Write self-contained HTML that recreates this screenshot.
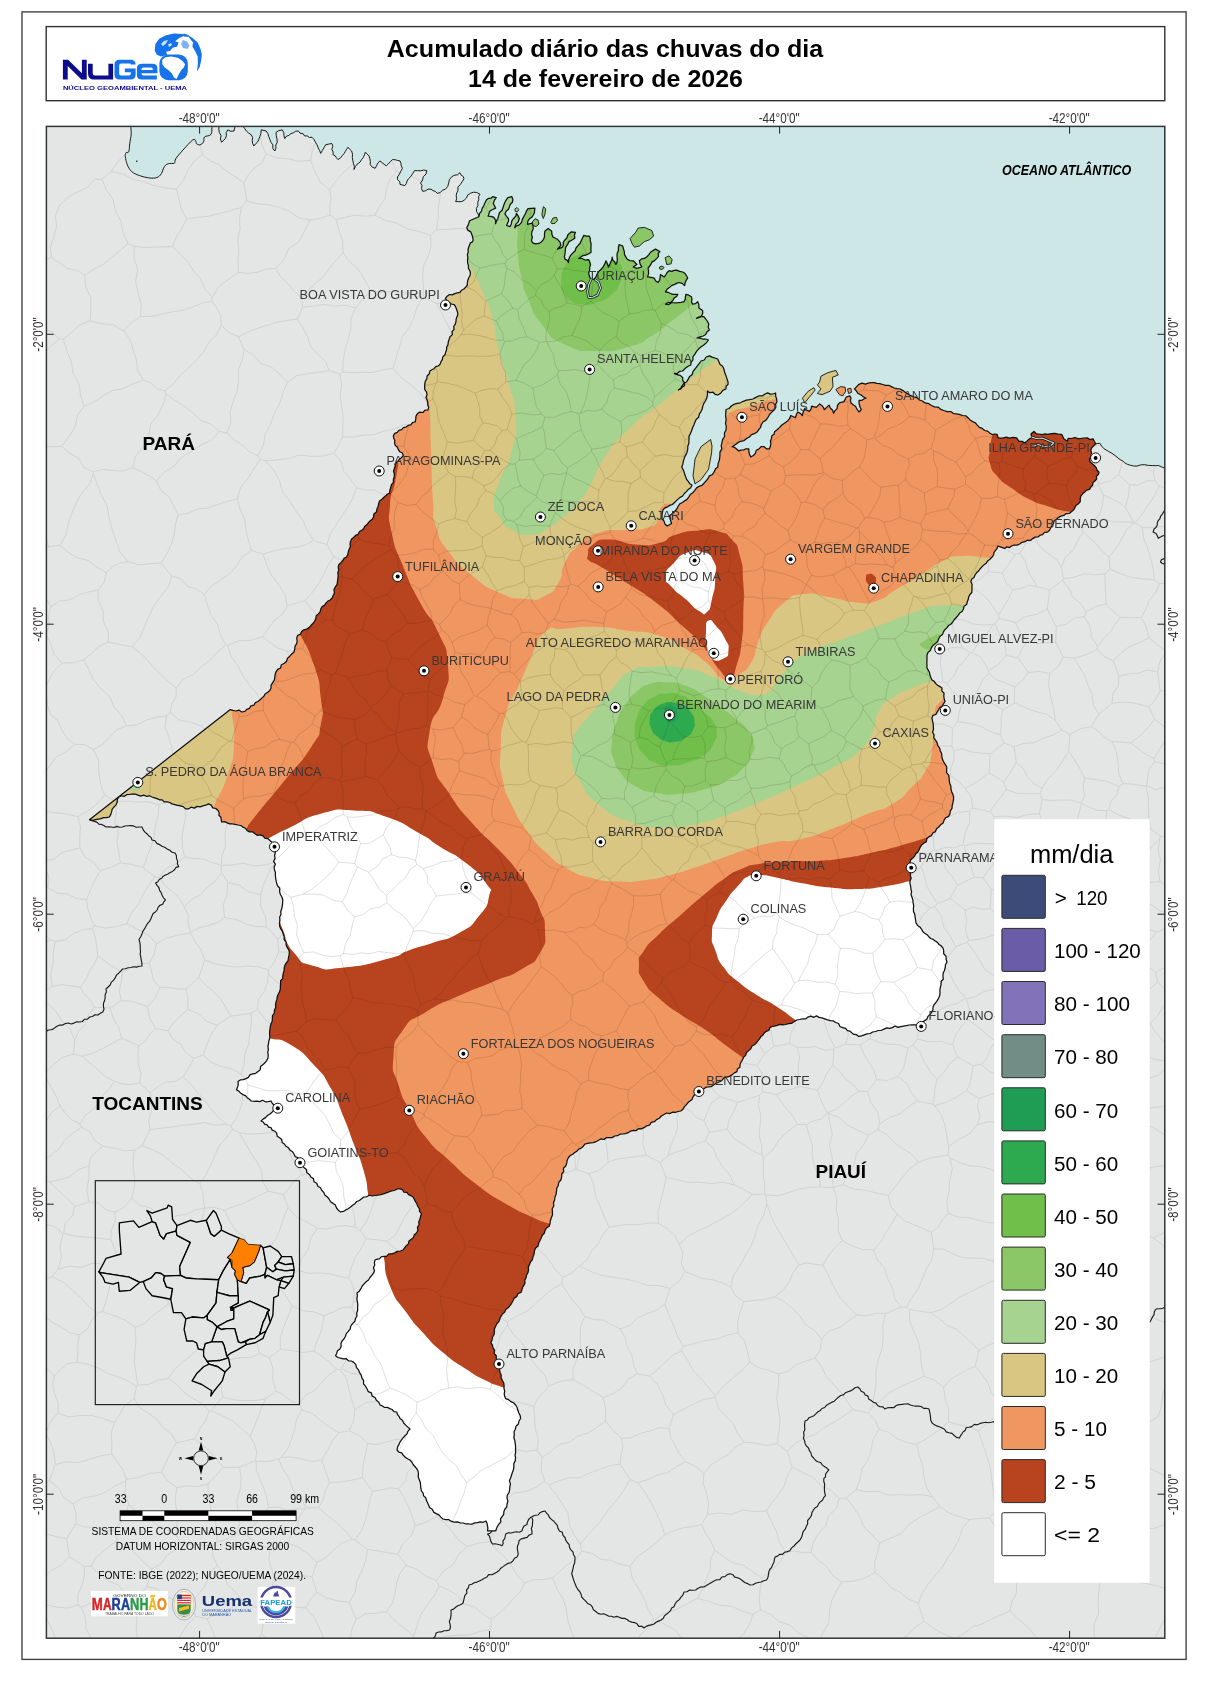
<!DOCTYPE html>
<html><head><meta charset="utf-8"><title>Acumulado diário das chuvas</title>
<style>html,body{margin:0;padding:0;background:#fff}svg{display:block;will-change:transform}</style></head>
<body>
<svg width="1211" height="1685" viewBox="0 0 1211 1685" font-family="Liberation Sans, sans-serif">
<defs><clipPath id="fr"><rect x="46.4" y="126.4" width="1118.4" height="1511.8"/></clipPath><clipPath id="ma"><path d="M478.9 216.8l.6-3.1 2-2.6 .8-3 1.6-2.6 1.1-2.8 1.4-2.7 1.9-1.6 2.6-.2 1.8-1.6 3.5 1.1-1.9 2.7-1 3.1 2.3 4.6-2.9 1.4-2.8 1.5-.9 2.6-.9 2.6 3 .1 2.8 1.1 1.7 2.9 0 3.4 .8-2.6 1.3-2.3 .8-2.6 .9-3.4 2.7-2.5 1.1-3.3 1.1-3.3 1.5-3.1 2-2.9 4-1.1 1.1 2.8-.5 2.9-2.1 1.9-.9 2.6-1 2.5-2.3 1.9-1.2 2.7 1.6 2.4 1.9 2.2 .2 2.5-1.1 2.2-.9 2.3 3.5 1.1 1.2-2.7 .5-3 1.8-2.4 2.1-2.2 .7-3 1.7 2.5 1.2 2.7-1 3.4-2.6 2.5-1 3.4 1.9-2 2.7-.9 2.2-2.5 .9-3.3 1.6-2.9 1.4-2.5 1-2.6 1.6-2.4 3.4-.3 3.5-.3-.5 4.6-1.1 2.3-1.4 2.1-2.2 1.4-1.8 2.7-.5 3.1 4.7-1.1 1 2.8 .1 2.9-1.3 2.8-.4 3 .9 2.6-1 2.9 1.2 2.6 3.1 1 3.3-.4 2.6-1.7 2-2.4 .9-2.6 0-2.8 .3-2.7 3.4-2.8 3.5 2.8 .2 3 1 2.8 4.6 2.3 2.3 2.5 1.2 3.3-1.7 2.1-1.8 2 4.6-1.8 1.3-2.1-.3-2.7 1.3-2.1 2.4-2.5 1.1-3.3 3.5-2.9 4 .6-1 2.8 .4 3-2.8 1.8-3 1.6-1.5 3-1.9 2.8-.3 3.1-.3 3.1-.6 3.1 .6 2.4 2.3 1.3 1.2 2.1 .2-3 1-2.6 1.7-2.5 1.9-1.9 1.9-1.8 .8-2.7 2-2.3 2-2.2 1.2-2.7 1.3-2.7 1.2-2.7 2.7 .8 2.8-.1 1.1 2.3 0 2.7 .8 2.4-.1 2.9-.1 2.9 .2 2.9-2.7 1.8-2.9 1.2-3.1 .7-3.7 2.5 3.3 .1 3.2 1.5 3.4-.4 1.2 2.4 .7 2.5-.8 2.9-.1 3-1 2.8 1.4 4.8 4 1.5 2-2.6 1.1-2.9 1.6-2.5 2.3-2 2.2-2.6 1.6-3 1.2-3.1 1.4 3 1 3.2 1.3-2.4 .9-2.4 1.3-2.4 .3-2.7 .5 2.8 2.1 2.1 1.1 2.5 1.2-2.7 .2-2.8-.3-2.8 .1-2.8 1.3-2.8 0-3 .6-2.9 3.7 1.3 .8 2.8 .8 2.8 .2 3 2.5 4.4 2.9 1.6 3.3 .2 3.7 3.7-3.7 2.5 3.7 1.3 5-1.3-1.8-2.9-.7-3.3 2.2-1.9 2.8-.5 2.5-1.7 2-2.1 1.7-2.4 2.4-1.6 2.5-1.5 4.3 2.4-1.6 2.1 .3 2.8-1.7 2-2.2 2.2-2.8 1.5-.9 2.3-1.4 1.9-1.4 2 .4 2.9 0 2.9-1 2.8 3.5 .4 3.3 .9 1.3 2.6 2.4 1.7 1.7-2.4 .4-2.8 .4-2.8 3.7 2.4 1.6-2.1 1.3-2.3 2-1.8 2.6 .6 2.4-1 2.5-.2 3 1.3 3.2 .6 2.3 1.5 1.4 2.3 1.2 2.4-1.6 2.2-1 2.5-.5 2.7-2.5-2.2-3.1-.9-2.5 .9-2.4 1.3-2.5 .9-2.2 2-2.4 1.7-1.6 2.5 2.6 .5 2.4 1.2 2.5 .8 4.9 0-1.3 2.3-2.3 1.5-1.3 2.4-2.1 2-3 .2-2.4 1.5 3.4 .4 3.1-2.1 3.4 .4 2.9-.2 2.9-.3 2.9-.7 1.2-2.3 .2-2.6 .5-2.5 2.9 .9 2.6 1.6 .6 2.4-.5 2.7 1.2 2.3 2.8-.6 2.1-1.9 1.3 3 0 3.2 3.7 2.5 .1 3.2-1.4 3-4.9 1.8 2.3-1.3 2.4-.7 2.7 .2 1.9 2.4 1.8 2.5 1.3 2.7-.7 3.1 1.3 2.7-2.3 1.8-1.4 2.7-2.5 1.5-3.1 .9-3.1 1.1 2.9 .2 2.8 .8 2.9 0 2.8 1-1.9 2.6-2.4 2.1-2.6 1.9-2.5 2-2.3 2.5-1.8 3-2 2.8 .1 2.9-1.9 2.4-.3 2.8-3.1 1.5-2.7 2.1-2.4 2.4-2.9 .3-2.4 2.2-3-.1 2.8 1.3 3.1 .7 2.4 2.1 .2 2.9 1.7 2.5 .1 2.9-2.3 1.1-1.6 2.1-2.3 1 2.3-1.8 1.6-2.6 1.7-2.4 2.7-1.5 1.5-2.6 1.5-2.7 2.6-1.9 .7-3.2 2-2.3 2-2.7 2.1-2.6 1.9-2.7 3.2-1 2-3 3.2-1.1 2.7 1.2 2.8 .9 2.8 1 1.2 2.7 1.2 2.7 2.5 1.9 1.3 2.7 .7 3.3 1.3 3.1 1 3.2 1.1 3.1 .1 2.6-2 2.1-.1 2.6-3.2 1.3-2.1 2.9-2.9 1.8-2.7-.7-2.1-2.1-3.2 .5-2.3-1.7 0 3.5-.6 3.3-1.5 3.2-1.6 2.4-1 2.7-.6 2.9-1.2 2.6-1.7 2.5-.6 3.1-2.4 2.1-1.3 2.7-1.1 2.9-1.3 2.8-1 3-1.2 2.9-1.4 2.8 0 3.4-.1 3.3-1.1 3.2-.1 3.4-.9 3.2-1.4 2.7-1.2 2.7-.8 2.9-.6 3-1.1 2.8 1.7 3 1 3.3 1.1 3.2 1.3 3.2 1.6 1.9 1.3 2.2 2.3 1.2-1.3 2.7-2.4 1.7-1.9 2.2-2.1 1.9-1.6 2.5-3 1.6-2.5 2.3-2.4 2.3-2.4 2.3-2.6 .9-2.2 1.4-2.6 1-2 1.9-.7 3.1-.3 3.1 0 3.1 2.1 2.1 .8 3 2.3 1.9 4.4-2.5-.9-2.5-.2-2.7-.9-2.5 2.6-2.1 2.4-2.2 2.2-2.5 1.5-3 1.6-2.3 2.4-1.2 2.2-1.6 2.3-1.3 1.9-2.5 1.6-2.6 2.6-1.8 1.9-2.4 1.8-2.4 2.5-1.6 2.9-1 2-2.1 2-2.2 1.9-2.4 1.5-2.7 3.1-1.4 1.6-2.6 1.3-2.9 2.4-2 .2-3.1 1.1-2.9 .6-2.9 .2-3.1 .1-3.2 1.8-2.9-.6-3.3 .8-3 .6-3.3 2-2.8-.2-3.5 1.6-3 .3-3.4-.8-3.4 .7-3.4-.6-3.5 .2-3.4 .2-3.4 3.1-1 2.2-2.5 2.7-1.6 3.1-1 3.3-.6 2.9-1.5 3.1-1.1 3.3-.5 3.2-.7 2.9-1.6 2.9-1.4 3.6 0 2.7-2 2.6-1.1 2.8 1.2 2.6-.1 2.6-1 .1 3.1 .9 2.9 .4 2.8-1.4 2.4 .3 2.8-1.3 2.5-2.5 2.4-2.4 2.4-1.7 3-2 2.8-3 1.9-1.6 2.5-.8 2.9-1.8 2.3-1.8 2.3-2.5 1.7-3 .9-2.1 2.4-2.7 1.4-2.6 2.2-3.5 .7-3 1.6-2.7 2.1-2.9 1.7 2.6 .7 2 1.6 1.8 1.8 2.6-.7 2.6-.2 2.5-1.1 2.7 0 .1 2.9 .6 2.7 1.3 2.6 2.6-1.5 2-2.1 .9-3.2 2.8-1.3 1.9-2.2 3 0 2.4 2.1 3 0 1-2.5 .5-2.6-.5-2.8 1.1-2.5 .3-2.6 2.3-1.6 .5-2.5 2.5-2 2.3-2.1 2.2-2.3 2.8-2 2.9-2 2.2-2.6 1.3-3.2 4.6 2.3 .9-3 1.4-2.8 2.6 1.4 2.1 2.1 .5-2.4 .7-2.3 1.1-2.2 2.2 1.6 2.4 1.2 1.8-2.3 .5-2.9 4.6 1.2 3.5-3.5 2.1 1.5 1.6 1.9 .9 2.4 2.4-2.3 2.3-2.3 1.3 2.9 2.3 2.2 1 3 1.4-2.6 2.1-2 .4-3.2 1.9-2.6 4.6-1.2 2.3-4.6 3.5-1.2 1.2 2.2-.5 2.5 .4 2.3 2.1 2 2.5 1.4 1.5 3 2 2.8 2.3-2.3-1.4-2.9-.8-3.1-.1-3.2 2.6 0 2.1-1.5 2.3-.8-2.8-1.4-2.4-2-2.9-1.3-1.4-2.5-2.1-2.1 2.3-2.3 2.3-2.3 3-1.2 3.3 1 3-1 2.9-.4 2.9-.1 2.8 .7 2.9 .4 2.9 .8 2.8 .9 3.1-.1 2.8 1.3 2.8 1.4 3 .6 3.1 .4 2.7 1.6 2.5 2 2.8 1.5 2.6 1.6 3 1.1 3.1 .8 2.3 2.4 3 1 2.8 1.9 3.4 .7 2.9 1.9 3.1 1.3 3.5 .3 2.7 2.2 3.1 1.2 3.3 1.1 3.6-.1 2.8 2.1 3.3 .3 3.2 .8 2.9 .8 2.9 .3 2.2 2 2.1 2.1 2.4 1.7 2.9 1.2 1.9 2.3 2.1 2.3 2.9 1 2.3 2.1 3.1 .6 2.3 2.1 2.2 1.3 2.5-.5 2.3 .3 1.2 3.5 2.7 .3 2.7-.3 2.6-.6 3.4 .9 3.5-.7 3.5 .4 2.4 3.5 3.1 .1 2.6 1.6 2.2-1.9 2.1-2 2.7-1.3-.6-4 2.9-2.4 2.3 2.4 2.9 .2 2.9 .6 2.9-.7 2.9 .4 3.5-.7 3.4-.2 3.4 .8 3.5 .1 2.3 4.7 3.5 2.3 .6-2.9 3.3 .1 3.4-1 3.3 1.2 3.3-.3 2.9-.4 2.9-.1 2.9 1.6 2.9-.7 1.3 2.5 1.4 2.5-3.8 3.8-1.1 2.3 .6 2.4 0 2.4-.4 2.3-1.5 2 .6 2.8 2.2 1.9 2.1 1.8 1.8 2.1 .9 2.7 1.9 2-.7 2.2-1.9 1.7 .2 2.7-1.4 1.9-2.2 1.7-.4 2.8-1.8 1.8-1.3 2.3-2.7 .7-2 1.8-2 1.7-1.8 2.2-.8 2.7 .1 3.1-1.9 2.2-2.2 1.5-1.3 2.3-1.3 2.3-1.9 1.7-2.4 1.8-3.1 .2-2.4 1.8-2.9 .7-2.5 1.5-2.4 1.8-2.1 1.8-.6 2.6-1.6 2.1-1.2 2.3-1.1 2.3-2.1 1.7-2.9 .1-1.7 2.4-2.7 .5-2 1.8-2.9 .1-2.4 1.5-2.3 1.9-3.1-.3-2.4 1.5-2.8 .6-2.4 1.7-2.6 1.1-2.9 0-2.7 .9-1.9 1.6-2.8-.8-2 1.6-2.3-.8-2.2-.8-2.3-.8-.9 2.3-1.6 2.1-1.5 2-.4 2.6-1.7 2.3-2 1.9-2.2 1.7-1.6 2.4-2.3 1.6-1.9 2-1.9 2.1-1.5 2.1-2 1.7-1.5 2.2-1 2.5-2.2 1.5-.9 2.7 1.2 2.7-.2 2.7 .1 2.7-.2 2.7-1.9 2-1.2 2.3-.5 2.8-1 2.4-.6 2.6-2.6 1.7-.5 2.7-1.4 2.5-2.4 1.6-1.6 2.3-1.8 2.1-1.9 2-1.6 2.3-1.7 2.2-2.5 1.5-1.7 2.2-2 1.9-1.5 2.3-.9 2.7-2.4 1.7-1.4 2.4-1 2.8-2.2 2-2.3 1.8-1.8 2.2-1 2.9-2.3 1.9-1.1 2.7 0 2.5 0 2.5-.2 2.5 .2 2.5-.1 2.8 1.3 2.3 1.3 2.4 .4 2.6 1 2.5 1.1 2.4 2.2 1.4 1.5 2.2 1.9 1.7 2.3 1.3 2.1 1.4-.2 2.9 2.3 2.3-.3 2.9 .4 2.8 .8 2.6-1.4 2.2-1.4 2.3-2.4 1.5-1.2 2.3-1.4 2.3-1.3 2.3-3 1-.9 2.6 .5 2.8 .7 2.8 .1 2.8 .2 2.9-.9 2.9 1.5 2.7-.3 2.9 1.7 2.4 1.6 2.5 .7 3 1.8 2.4 .8 2.9 1.2 2.5 .2 2.8 .6 2.8 1.1 2.5 1.5 2.4 1.6 2.6 .1 3.1-.2 3 2.2 2.5 .4 2.9 .2 3 .7 2.9 .9 2.5 .1 2.8 .8 2.6 1.1 2.5 .7 2.6-.1 2.9-.6 2.8-.7 2.8-.2 2.9-1.7 2.5-.3 2.9-1.4 2.6-2.9 1.3-1.6 2.5-1 2.9-2.5 1.7-1.9 2.2-2.1 1.8-1.2 2.8-2.6 1.4-1.4 2.6-2.6 1.3-2 1.9-.5 3-2.6 1.5-2.2 1.8-1.4 2.3-1.1 2.6-1.3 2.3-2.1 1.7-1.1 2.4-2 1.8-1.9 1.8-.7 2.6 .1 2.6 1.5 2.6-.7 2.6-.2 2.6-.3 2.6 .9 2.6-1.2 2.6-.1 2.6 .7 2.6 .3 2.8 .7 2.8-.6 3 1 2.7 .9 2.8 .2 2.8 .6 2.8-.3 2.9 .1 3 1.3 2.6 .3 2.9 .5 2.9 .4 2.9 1.6 2.6 2.3 1.5 1.6 2.1 1.2 2.5 2 1.7 2.4 1.4 1.7 2 1.8 1.8 2.6 .9 2 1.6 2.2 1.4 1.6 2.1 2.2 1.4 1.7 2 .8 2.8 0 3.1 2.3 2.4 .1 3 .9 2.8-1.5 2.6-.3 2.9-.7 2.9-1.3 2.7-.3 2.9 .4 3-2.2 2.5 0 2.8-.7 2.8-.5 2.8 .1 2.9-.3 2.8-1 2.4-1.3 2.4-1.6 2.2-1.8 2.2-1 2.5-.2 2.8-1.2 2.4-1.9 2.1-1.9 2.1-1.1 2.7-2.7 1.6-1.7 2.2-1 2.8-2.4-.6-2.4-.6-2.4 0-2.5 .1-2.4 .1-2.8 .7-2.8 .4-2.8 .5-2.7 .7-3.1-1.3-2.6 1.6-2.8 .8-2.9-.5-2.7 1.2-2.7 1.2-3 .2-2.7 1-2.9 .5-2.6 1.5-3 .3-2.8 1-2.8 1-2.9 .6-2-1.7-2.6-.3-2.1-1.5-1.9-1.7-2.6-.5-1.8-2.3-3-.8-2.7-1.1-1.3-3-2.9-1-2.3-1.6-3-.3-2.8-.7-2.8-1-2.8-1-2.9-.5-2.6-1.5-2.6 1.4-3.2-1.1-2.7 .9-2.5 1.9-3-.1-2.8 .6-3 .5-2.6 1.6-2.5 1.8-3.1 .3-2.8 .8-2.8 .4-3-.6-2.7 1.1-2.8 .7-2.8 .4-1.9 1.5-.9 2.5-2.6 .8-1.9 1.6-1.3 2.1-2.1 1.6-1.4 2.3-1.7 1.9-1.5 2.2-1.9 1.7-2.4 1.3-1.2 2.7-2.1 1.9-2.2 1.9-.9 2.9-2.1 2-1 2.4-1.4 2.2-1.1 2.4 0 2.8-2.6 1.7-.4 2.7-2.7 1.3-2.3 2-2.5 1.5-3 .8-2.8 1-2 2.5-2.6 1.3-2.8 1.2-2.5 1.6-2.2 1.6-2.7 .6-2.8 .2-2.2 1.6-2.7 .6-2.2 1.6-1.5 2.3-2.7 1.2-1.7 2.1-1 2.8-2.2 1.6-2.1 1.8-1.6 2.1-1.9 2-1.3 2.4-2.2 1.7-2.8 .5-2.7 .9-3-.2-2.7 1.4-3-.6-2.6 1.5-2.6 1.5-2.1 2.2-2.7 1.4-2.2 2.1-3.1 .7-1.8 2.7-3.1 .8-2.4 1.8-2.6 1.1-2.9-.1-2.3 1.9-2.9-.2-2.7 .7-2.4 1.6-2.7 1-2.7 .3-2.8 .2-2.5 1.5-2.8 .3-2.5 1.6-2.9 0-2.9 0-2.3 1.9-3.1-.7-2.5 1.5-2.5 1.4-2.7 .9-2.8 .2-2.8 .5-2.7 .7-1.7 2.2-1.9 1.8-2.6 1.1-1.8 2-2.2 1.4-2.1 1.7-2.4 1.3-1.8 2-1.3 2.7-.5 3-1 2.8-2.3 2.2 .3 3.4-1.9 2.4-.2 3.1-.7 2.9-2.2 2.4-.4 3.1-1.5 2.6-.3 3.1-.4 3-1.1 2.8-.4 3-1.1 2.8 .3 3.1-1.6 2.8 .2 3.1 .1 3-1.1 2.9-1 2.8-.4 3-.8 2.8-2.7 1.7-1.4 2.4-.8 2.8-2 2.1-1.1 2.6-1.2 2.6-1.3 2.5-.6 3-2.5 2.1-1.1 2.7-.4 3.1-1.1 2.8-.6 2.9-1.9 2.4-1 2.6-1.1 2.6 .1 2.9-.6 2.7-1.4 2.5-.5 2.7-1.3 2.2 .3 2.7-1 2.3-1.5 2.1-.5 2.4-1.1 2.8-3 1.2-1.1 2.8-2.5 1.6-1.3 2.7-1.4 2.5-1.6 2.4-1.9 2.1-2.4 1.7-1 2.6-2.2 1.9-1.5 2.3-1.2 2.5-.9 2.7-2 2-1.1 2.5-1.3 2.6-.1 3-.3 2.9-1.6 2.6-.4 2.9-1.3 2.6 1.6 2.5 .6 2.8 1.6 2.4-.4 3.3 2.1 2.2-.1 3.1 1.4 2.6 1.4 2.5 1.5 2.6-1.1 3.1 .7 2.7 1.1 2.6-.1 2.9 1.3 2.6 1.4 2.6 .3 2.8-.1 2.9 .8 2.4-.6 2.7 .5 2.4 1 2.4 2.9 1 2.2 1.9 2.7 1.2 2.1 2.2 1.5 2.5 .8 2.8 .9 2.7 1.4 2.6 .4 2.9-1.6 2.5-.6 3-2.4 2.2-.6 3-1.4 2.6 .3 2.9-.4 3 .9 2.8 .4 2.9 .4 2.9-.1 2.9 .2 2.9-.7 3 .6 2.9-.4 2.9-1.4 2.7 .1 3.1-.4 2.9-1.1 2.8-.9 2.8-.9 2.8-1.2 2.8 1 3.1-.5 2.8-.3 2.9-.5 2.9-1.8 2.7-.3 2.9 .9 3.1-.9 2.8-.2 2.8-1.8 2.2-1.1 2.4-.2 2.9-1.6 2.3-1.6 2.2 .4 3.1-1.9 2.1-1.4 2.1-1.1 2.3-.7 2.4-8.3 0 .4-2.6-.4-2.4-.5-2.5-1.1-2.3-2.7 1.3-3-.5-2.7 .8-2.9 .3-2.7 1.3-2.9-.2-3 0-2.8-1-3-.1-2.8-1-3 .2-2.9-.7-2.6-1.7-3 0-2.9-.7-2.2-1.9-1.9-2.2-2.7-1.3-2.6-1.5-1.3-2.9-2.6-1.5-1-2.5-1.1-2.4-1.2-2.4-.6-2.6-2.2-1.9-.5-2.7-1.6-2.2-.7-2.8-.2-2.9-.3-2.9-1.1-2.8-1-2.8 .3-2.9-.5-2.9-1.3-2.4-1.8-2.1-1.8-2-1.3-2.5-1.8-2-2.5-1.2-2.2-1.6-2-1.9-1.6-2.4-2.9-.8-1.8-2.1 .5-2.7 1.2-2.4 1.1-2.5 1.6-2.2 1.6-2.2 1.9-2.2 2.1-1.9 1-2.8 2-2.1-2.2-1.9-2.1-2-2-2.1-1.3-2.8-2.4-1.7-1-2.2-1.6-1.9-.7-2.4-2.7-.3-1.9-2.2-2.4-.9-2.3-1.2-2.8 .1-2.2-1.6-2.4-.9-1.2-2.8-2.4-1.9-1.3-2.8-3-1.4-.7-3.2-3.2-1.3-1.2-2.8-1.5-2.6-2-2.3 .1-3.3-1.6-2.5-.8-2.9-1.6-2.5-1.1-2.8-2-2.3-.6-3-2.1-2.2-2.4-1.4-2.9-.2-2.2-2.1-3 .1-2.7-.6-2.7-.7-2.3-1.7 1.1-2.4 .8-2.7 2.4-1.7 1.2-2.4-.1-3 1-2.5 1.9-2.1 1.5-2.5 .9-2.9 2-2.2 1.9-2.3 .6-3.1 1.7-2.4 2.3-2.1 .7-3 1.5-2.5-.3-2.9 1-2.9-.1-2.8 .2-2.9-.4-2.9-.6-2.8 .6-2.9-.4-2.9 2.3-1.8 1.6-2.5 1.3-2.7 1.9-2.1 2-2.1 2.4-1.8 1.5-2.5 1.8-2.2 1.8-2.3 .9-2.5-1.1-2.8 1.3-2.5-.3-2.6 .6-2.6 2.2-.8 2.3-.4 1.7-1.9 2.3-.4 3.1-.1 2.2-2.5 3.1-.1 2.8-.9 2.6-1.5 3-.4 2.7-1 1.6-2.2 1.7-2.1 2.1-1.8 .6-3 2.3-1.7 2.2-1.6 .8-2.9 2.2-1.7 1.4-2.6-.5-3.1 1.6-2.5-.2-3 1.2-2.7 .6-2.8 .9-2.7-1.9-2-.2-2.9-1.6-2.2-.8-2.5-1.5-2.3-1.2-2.4-1.3-2.3-2.1-1.4-2.4-1-1.6-2.3-3-.1-1.4-2.6-2.5-.8-3 .2-2.5 1.5-2.9 .3-2.7 1-2.7 1-2.7 1-2.8 .8-2.8 .5-2.8 .4-2.9 .5-3-.8-2.6 1.6-2.9 .2-2.1 1.8-2.2 1.7-2.7 1-1.8 2.2-2.3 1.6-2.1 1.7-2.3 1.7-2.5 1.2-2.3 1.5-2.8 .6-2.3-1.8-1.8-2.2-1.1-2.9-2.3-1.7-2.5-1.6-1.4-2.6-1.8-2.2-2.4-1.8-1.2-2.7-2-2.1-1.3-2.7-2.7-1.5-1-3-2.7-1.4-.7-3.2-2.6-1.6-1.4-2.6-2.6-1.8-.4-3.2-2.5-1.9-1.5-2.5-1.4-2.6-2.3-1.7-.7-2.9-2.8-1.2-1.2-2.6-1.6-2.3-2.4-1.6-1.5-2.3-2.5-1.5-1.6-2.3-2.3-1.5-.4-3.1-2.1-1.7-2.4-1.5-.5-3-1.7-1.9-2.8-1.2-1.2-2.4-2.5-.6-1.4-2.3-2.5-.6-1.4-2.2-2.2-1 2.1-1.9 2.4-1.5 2-2.1 2.4-1.5 2.2-1.8 1.9-2.2 2-2-1.5-2.4-2.1-2.1-1.4-2.5-2.8 .7-2.8 .1-2.8-1.5-2.8 1.3-2.8-.5-2.8 .2-2.8-.3-2-1.8-2.2-1.5-1.8-2.1-2.6-1-2.2-1.5-1.8-2-2.3-1.4 1-2.6 .8-2.7-.3-2.9 2.3-1.6 3-.2 2.6-1.1 2.5-1.2 1.8-2.7 2.7-.8 2.8-.6 2.3-1.7 2.2-1.9 .4-3.2 2.2-1.8 2.2-1.9 1.7-2.2 1.3-2.6 .2-2.9-.4-2.9 .6-2.9-.5-2.9 .6-2.9 .4-2.8 1-2.9-.3-2.9 0-2.9 .4-2.8 .3-2.8 .7-2.7 1.2-2.5 .2-2.9 .1-2.8 1.8-2.5 .1-2.8 1.3-2.6-.2-2.9 .5-2.7 .9-2.6 .3-2.7 1-2.5 1.3-2.5 .8-2.6 .1-2.7 .2-2.8 0-2.8 2.1-2.2 .1-2.8 .5-2.6 .8-2.6 .1-2.7 .7-2.6 1.4-2.4 1.8-2.3 .3-2.6 .6-2.6 .4-2.7-.6-2.8-1.6-2.5-1.1-2.6-.1-3-1.9-2.3 .1-3.1-1.1-2.6-.8-2.7-1.7-2.5-1-2.6-.1-3 .4-2.9-.2-3 1.3-2.8-.2-3 1-2.8 .6-2.8 .2-3 .2-2.9-.9-2.8-1.6-2.7-.7-2.9 .2-3.2-2.3-2.4-.9-2.8-.6-3-.4-2.5-.3-2.5 .1-2.6-.9-2.4-.4-2.9 1.3-2.9-1.8-2.9 1.5-2.9-.5-2.9 .7-2.9-1.5-2.9 .7-2.9-1.3-2.3-1.3-2.3-2-1.7-1.9-1.9-2.9-.3-2.1-2.4-2.7-1.1-3.2 .5-2.4-1.7-2.1-1.8-3 .1-2.4-1.3-1.8-2.4-2.4-1.1-2.2-1.6-2.8-.5-2.7-.7-2.7-.3-2.8-.1-2.6-1-2.6-1.3-2.9 .4-.5-2.4-.3-2.4-2-1.9 .3-2.6-1.2-2.2-2.1-2-3.1-.6-1.6-2.8-2.7-1.2-2.7 1.3-2.9 .6-2.7 1-3.1-.4-2.7 1.7-3.2-.9-2.6 1.6-3 .1-2.4-2.3-2.8-.7-2.8-.5-2.8-.8-2.8-.7-2.3-1.4-2.6-.6-2.8 .1-2.1-2.1-2.8-.1-2.3-1.2-2.6-.8-2.5-.8-2.7-1.2-2.9 .5-2.7-1.2-3 1-2.7-.9-2.7-1.1-2.8-.1-2.7 .4-2.8 .2-2.5 1.7-2.9-.5-2.6 1.2-1.7 2.3-.1 3-1.2 2.5-1.9 2.1-1.9 2.2-.6 2.8-.9 2.7-1.3 2.4-2.8 .6-2.9 0-2.6 1.1-2.8 .5-2.8 .5-2.7 .7-3.3-.7 140.5-110 2.9 .7 2.9 .6 3.1-.9 2.8 1.9 3.1-.6 1.9-2.1 2.7-.9 1.5-2.6 3-.6 1.5-2.6 2.6-1.1 2.1-1.7 1.9-1.9 1.9-1.8 1.4-2.4 2.5-1.4 2-1.7 1.2-2.6 .1-2.9 1.6-2.5 1.6-2.4 .5-2.9 .3-2.8 .9-2.7 1.7-2.4 2.9-1.4 .8-3.3 3-1.4 2.1-2.1 1-3 2.3-2 1.9-2.2 2.3-2 .7-2.7 .3-2.9 1.5-2.5 .7-2.8-.5-3 .9-2.7 2.7-1 1.3-3 2.2-1.6 2.9-.7 2.4-1.5 1.9-2.1 1.9-2 1.7-2.2 1.2-2.5 .4-3 2.2-1.9 1.7-2.1 .7-2.8 1.3-2.4 2.4-1.2 1.4-2.3 1.9-1.8 2.3-1.3 1.9-1.8 1.2-2.7 1.3-2.7-.6-3.3 1.5-2.6 1.7-2.6 .4-2.9 .4-3 .3-2.8-.4-2.8 .9-2.7-.5-2.9 .7-2.7 2-1.8 1.8-2 1.4-2.3 2.3-1.4 1.4-2.4 .5-2.7 .8-2.6 1.3-2.5-.4-2.9 .6-2.7 1.2-2.5 2.1-1.5 1.8-1.9 2.5-1 1.2-2.6 2.2-1.4 2.1-1.5 1-2.5 2.2-1.5 1.5-2.2 1.8-1.8 2.1-1.6 1.3-2.3 .2-2.9 2.6-2 .5-2.9 1.2-2.5 .5-2.8 .9-2.7 2.1-1.5 1.8-1.8 2-1.7 1.8-1.8 2.3-1.2 .4-2.9 .8-2.7 .8-2.8 1.9-2.4 0-3 .9-2.6 0-2.7-.8-2.8 .8-2.6 .8-2.5 .3-2.7 2.2-1.7 1.6-2.4 2.3-1.6 1.8-2.2-1-2.5-2.5-1.2-1.4-2.1-1-2.4-2-1.7-.8-2.4 .2-2.6-1.1-2.4-.3-2.5 1.4-2.3 2.5-1 1.5-2.1 2.9-.6 1.6-2 2.7-.6 2.1-1.7 2.7-.6 1.8-2.3 2.6-.7 .6-2.7 .1-2.7 1.3-2.5 2.4-1.8 3.3 .4 2.2-2.4 3-.2 .6-2.6-1-2.4 0-2.5-.6-2.4-1.2-2.5 1.2-2.9-.6-2.6-1.7-2.4-.2-2.7 .2-2.7 .4-2.9 1.6-2.4 .3-2.9 2.2-2.2 .5-2.8 2-1.3 2.3-1 1.6-2.1 2.4-.6 1.9-1.6 .9-2.5 1.4-2.3 .5-2.7 2.1-2.1 .7-2.5 1-2.5 .1-2.8 1.3-2.4 .3-2.8 .9-2.5 .8-2.6 2.4-2.1-.3-3 1.9-2.2-.3-2.9 1.6-2.4 .7-2.6 .1-2.3 .7-2.1 1-2.1-.2-2.8-1-2.7-.9-2.6-1.5-2.3-2.9-.6-2.1-1.7-2.3-1.4-1.5-2.3 1.7-2.4 2.4-1.7 2.8 .4 2.4-1.3 2.6-.7 2.6-.5 1.6-2.1 2.4-1.3 1.8-1.9 1.6-2.1 .1-2.6 .5-2.5 1-2.4 1.3-2.3 .2-2.4-.6-2.3-1.4-2.2 .1-2.4-.8-2.8-.2-2.9 .4-3-.6-2.8 1-2.2-.3-2.6 .7-2.3 .9-2.2 .7-2.2 2.4-1.2 .4-2.4-.5-2.3-.7-2.3-1.1-2.8-2.8-1.5-1.3-2.6 1.2-2.2 .9-2.4 .8-2.4z"/></clipPath></defs>
<rect width="1211" height="1685" fill="#fff"/>
<g clip-path="url(#fr)">
<rect x="40" y="120" width="1130" height="1525" fill="#e4e5e5"/>
<path d="M1175.5 124.3l-3.5 4.4M1172 128.7l-9.4-2.7-8.3-5.6-8.6-4.8-10.2-.7M635.7 1643.1l-11.9-2.2-12.1 2.8-11.9-3.2-11.9-.8-12 1.9M48.6 546.8l-2.9-10.7-3.8-10.3-5.3-9.6-6-9.2-5-9.7-4.5-10-5.9-9.3-3.5-10.4-5.1-9.7-3.9-10.2M48.6 546.8l-6.8 6.3-8.9 3.6-6.5 6.7-6.8 6.3M-38.5 439.7l10.3 1.8 9.9 4.1 10.3 2 10.7 .1M19.6 569.7l5.5 8 5.4 8.1 8.1 5.8 7 6.7 5.5 8M46.4 634.4l2.7-9.1-.8-9.8 2.8-9.2M635.7 1643.1l5-8.8 7.8-6.7 5.4-8.6M655.1 1619.1l10.3 5.7 10.5 5.6 7 10.2 8.8 7.8 10.2 6 10.8 5.1 8.3 8.4M206.8 1618.8l5.4 10.3 3.5 11 4.7 10.5 1.7 11.7 2.8 11.3 6.8 9.7M206.8 1618.8l-11-2.5M195.8 1616.3l-7.9 7.8-6 9.2-6.3 9-7.2 8.3-7.4 8.1-5.8 9.4M147 1586.5l11.4 3 9.4 7.7 10.7 4.7 11.6 2.7M147 1586.5l-8 9.3M190.1 1604.6l5.7 11.7M139 1595.8l-1.9 11.4-.3 11.5-.6 11.4 2.3 11.4M138.5 1641.5l5.5 8.9 4 9.8 7.2 7.9M39.2 994.4l-7 1M39.2 994.4l8.2 8.4 8.2 8.4 6.4 9.7 8.3 8.4 4.5 11.3M31 1071.4l-2-10.8 0-10.8 1.4-10.8 .5-10.8 .8-10.7-1.1-10.8 .8-10.8M31 1071.4l13.3 2.6M44.3 1074l8.4-8.6 9-7.7 11.8-3.7M74.8 1040.6l-1.3 13.4M46.4 634.4l4.4 10.1 3.6 10.4 7.8 8.1M45 688.7l4.4-9.5 5.2-8.9 7.6-7.3M51.1 606.3l8.6-5.4 10.2-1.1 8.7-5 9.6-2.8 9.9-1.8M98.1 590.2l.2 10.8 4.9 9.8 .2 10.8 4.8 9.9 .2 10.7M108.4 642.2l-9.5 4.2-7.4 7.2-8 6.2M83.5 659.8l-10.4 2.9-10.9 .3M126.3 725.9l-9.6 3.9-7.3 7.2-7 7.6-8.9 5M126.3 725.9l-4.5-10.4-7.8-8.4-4.4-10.6-8.7-7.8-7.3-8.6-4.7-10.4-5.4-9.9M50.4 714.3l-2.8-8.3-.9-8.7-1.7-8.6M50.4 714.3l7.4 6.4 3.8 9.3 5.4 8 7.6 6.2M74.6 744.2l10.1 .5 8.8 4.9M115.4 801.4l10.9-.2 10.9 .6 11 .1 10.7 2.7M115.4 801.4l.9 10.3-1.6 10.4 3.6 10-1.5 10.4 2.2 10.2 1.3 10.2M158.9 804.6l-.7 11-3 10.4-1 10.9-3.2 10.4-4.1 10.1-3.5 10.3M120.3 862.9l11.7 1.6 11.4 3.2M413.9 1641.5l-9.4 6.6-10.7 3.4-10.6 3.8-9.9 5.4-10 5.3-11.9 .7-10.2 4.8M439.2 1585.8l-5 10.1-7 9.2-6.4 9.4-3.8 10.8-3.2 11.1M439.2 1585.8l9.5 4.3 8.9 5.3 6.8 8.6 10.4 3.1 7.8 6.9 8.8 5.6M490.5 1629.3l.9-9.7M490.5 1629.3l-10.8 2.3-10.6 3.4-11 .2-10.9 1-10.7 3.3-11.2-1.3-10.9 1.3M414.4 1639.5l-.6-3.1M524.9 1582.9l-4.8 9.1-6.9 7.1-6.8 7.3-7.2 6.8-7.8 6.4M524.9 1582.9l-7.8-7.6-5.5-9.5-6.7-8.5-8.1-7.4-6.9-8.4M489.9 1541.5l-11.6 1.6-11.1 3.5M467.2 1546.6l-8.5 7.9-5.7 10.3-9.8 6.6-6.8 9.3M436.4 1580.7l2.8 5.1M575.9 1641.6l-4.7-10.4-3.4-10.8-1.4-11.5-3.7-10.8-6.2-9.7-3.8-10.7M552.7 1577.7l-9.2 1.8-9.6 .1-9 3.3M413.9 1641.5l.5-2M1194.8 1329.6l10.9-2.9 10.3-4.5M1194.8 1329.6l-10.9-2-9.8-5.7-11.4 0-10.1-4.6-10.7-2.7-10.6-2.9M1216 1322.2l-5.5-10.4-7.9-8.8-5.6-10.4-8.9-7.8-8-8.7-6-10.1-5.3-10.6-5.9-10.1-9.5-7.5M1123.1 1231.9l10.6-.5 10 2.4 9.7 4M1123.1 1231.9l-6.3 9.4-6.1 9.7-9.2 7M1131.3 1311.7l-4.9-8.9-3.5-9.8-6.1-8.3-3.5-9.8-7.8-7.4-4-9.5M59.9 545.1l5.9-9.8 2.3-11.4 3.7-10.7 4.4-10.4 5.8-9.8 7.7-8.9 3.5-10.9M59.9 545.1l8.3 7.2 9.1 5.7 11.1 2.4 8.6 6.7 9.3 5.4M93.2 473.2l4 11.2 4.4 11.1 5.6 10.5 1.9 12 3.2 11.6 3.8 11.3 3.9 11.2 8 9.6M106.3 572.5l6.2-5.7 7.1-3.8 8.4-1.3M48.6 546.8l11.3-1.7M98.1 590.2l6.1-7.9 2.1-9.8M145.5 134l-7.5 9-9.4 7.2-8.1 8.5-7.3 9.2M145.5 134l10.4 3.1 10.7 1.8 10.5 2.5 10.7 1.3 11.1-1.8M176.4 189.1l-11.3-1.2-11-2.3-10.6-3.9-11-2.3-10.1-5.8-11.2-1.9M176.4 189.1l6.9-8.4 4.6-10.2 6-9.1 8.6-7.2M113.2 167.9l-2 3.8M198.9 140.9l3.6 13.3M246.7 200.9l-2.7-17.9M246.7 200.9l-5.3 6.6M244 183l-8.2-6-8.7-5.2-7.4-6.9-9.6-4-7.6-6.7M241.4 207.5l-10.8 3-10.9 2.9-10.9 2.7-11.2 1.3-11.1 1.7M186.5 219.1l-4.9-9.5-2.6-10.2-2.6-10.3M248.4 40.8l-5.7 9.6-6.6 9.2-5.5 9.8-5.5 9.7-5.1 9.9-4.6 10.3-2.3 11.2-5 10.1-2.7 11.1-6.5 9.2M248.4 40.8l1 11.4 4.6 10.9 2.6 11.2-2.2 11.9 2.8 11.2-.4 11.6 .6 11.5 3.3 11.1 .7 11.5 4.6 10.8M266 153.9l-3.6 8.7-8.2 5.3-5.9 6.9-4.3 8.2M656.4 265.2l.4-11.7-.1-11.8-1.8-11.6-2.1-11.6 0-11.7M656.4 265.2l-10.2-2-9.6-3.6-9.9-2.9-9.2-4.7M617.5 252l6.5-9.3 5.6-10 6.9-9 8.8-7.5 6.5-9.2M583.5 223.3l-4.5 17.4M587.6 256.8l-8.6-16.1M587.6 256.8l9.9-1.8 10.1-1.2 9.9-1.8M471.9 229.9l-11.8-1.5-11.9 1-11.8 .2M471.9 229.9l8.7-5.7 6-8.9 7.2-7.4 10.4-3.7 7.3-7.4M436.4 229.6l1.8-11.4 .2-11.6 2-11.4-.6-11.5M511.5 196.8l.3-2.4M511.8 194.4l-.7-1.7M374.9 215.2l4.5-8.6 5.8-8 1.3-10.2 3.5-9.1 6.4-7.6M374.9 215.2l10.7 5.3 11.5 2.7 10.5 5.8 11.6 2.5 11.3 3.7M430.5 235.2l5.9-5.6M396.4 171.7l11.1 2.1 10.2 5.6 10.7 3.6 11.4 .7M567 184l-11.3 .8-10.8 3.1-11.5-.2-10.9 2.8-10.7 3.9M579 240.7l-10.6-2.4-10.9 1.4-10.5-2.9-10.8 .2M536.2 237l-5.6-10.4-6.2-10-7.5-9.3-5.4-10.5M454.2 139.6l-10.7-3.8-10.3-5-9.8-6.2-11.6-1.7-10.3-4.9M396.4 171.7l-4.1-9.8-4.7-9.5-4.5-9.5M401.5 118l-6.4 8.1-7.9 7-4.1 9.8M319.6 107.4l7.6 7.3 8.1 6.7 10 4.3 9.2 5.4 7.5 7.5 7 8.1M319.6 107.4l-.6 10.8-.3 10.8-1.8 10.6-4.5 10.2-1.8 10.6M369 146.7l-8.9 7.6-6.7 9.7-9 7.5-7.8 8.7-7 9.4M310.6 160.4l4.3 11.1 5.3 10.4 9.4 7.7M266 153.9l10.8 3.9 11.3 1 11 2.5 11.5-.9M655.1 1619.1l10-6.3 11.5-3.5 10.4-5.5 10.5-5.3M721 1667.9l6.3-8.3 4.9-9.2 4.6-9.3 7.2-7.8 5.5-8.8 3.4-10.1M752.9 1614.4l-11-3.5-10.6-4.7-11.8-.8-10.8-4.1-11.2-2.8M30.9 1532.3l-2.4-10.5-1.8-10.5 1.4-10.6 .6-10.6M30.9 1532.3l9.3-.2 8.8 2.6 8.8 2.3 8.9 1.8M28.7 1490.1l10.9-3.9 10-5.6M73 1503.9l-9.3-6.3-5.5-10-8.6-7M73 1503.9l3.3 9.6-.6 10.1M66.7 1538.8l9-15.2M30.9 1532.3l-8.2 6.7-6.8 8.1-7.7 7.3-7.5 7.3-8.1 6.8-7.7 7.2M-15.1 1575.7l10.5 3.4 11.1 1.9 9.6 5.8 9.9 4.8M66.7 1538.8l2.7 17.7M69.4 1556.5l-7.7 8.3-9.9 5.4-8.2 7.6-10.2 5.1-7.4 8.7M45.8 1433.5l5 9.7 3.4 10.2 1.1 11M55.3 1464.4l-5.7 16.2M45.8 1433.5l4.4-11.2 7.7-9.4M57.9 1412.9l.3-10.1-3.7-9.3-2-9.7M55.2 941.3l10-1.4 8.3-6.5 9.2-3.7 10.1-1.1M55.2 941.3l-1.9 11.2-.2 11.3-2.3 11.1 1.6 11.4M52.4 986.3l9.3-1.6 9.3 1.2 9.2 1.2M80.2 987.1l5.6-7.2 3.6-8.3 5-7.6 3.3-8.4M92.8 928.6l2.5 8.8 1.4 9.1 1 9.1M39.2 994.4l13.2-8.1M32.2 995.4l-3.4-9.6-1.7-10.1-2.3-10-5.1-9M19.7 956.7l11.5-3.5 9.1-7.7 10.4-5.6M50.7 939.9l4.5 1.4M74.8 1040.6l3.7-9 6.7-7.2 2.9-9.4 6.3-7.5M94.4 1007.5l-3.8-7.5-6.2-5.8-4.2-7.1M82 1056.2l10.7-2.9 9.8-4.7 9.6-5.2 9.7-5.1M82 1056.2l7.8 6.7 7.9 6.7 7.6 7 9.3 4.7M139.5 1082.8l-8.4 1.7-8.3-.3-8.2-2.9M139.5 1082.8l1.6-9.3-2.7-9.3-.5-9.2 .8-9.3M138.7 1045.7l-16.9-7.4M73.5 1054l8.5 2.2M94.4 1007.5l15.6 .4M110 1007.9l3.3 10.4 5.5 9.5 3 10.5M115.4 801.4l-11-6.4M126.3 725.9l10.6-.9 9.5-4.9 10-2.8 10.4-1.6M104.4 795l-3.9-11.1-1.7-11.6-.3-11.9-5-10.8M158.9 804.6l14-5M166.8 715.7l-1.9 10.7 3.8 10.3 2.9 10.3 2 10.4-1.7 10.7 2.6 10.3 0 10.6-1.6 10.6M184.4 857.2l-8.6 6.6-9.9 4.9-6.6 8.9M184.4 857.2l-2-10.4-.3-10.5 1.6-10.5 2.4-10.5-2.2-10.5M159.3 877.6l-4.6-.7M154.7 876.9l-11.3-9.2M183.9 804.8l-11-5.2M161 563l-11.1 .7-11 1.1-10.9-3.1M161 563l11 13.1M108.4 642.2l11.7 2.3 11.7 2.2M172 576.1l-4 11.1-7.3 9.2-7.1 9.3-4.7 10.7-4.5 10.8-4.8 10.6-7.8 8.9M166.8 715.7l3.4-3.3M170.2 712.4l1.5-8.2 4.4-7.5 .2-8.5M131.8 646.7l8.2 6.1 7.3 7 6.6 7.8 7.1 7.2 7.5 6.9 7.8 6.5M18.4 1213.1l8.4 5.1 10.1 1.7 8.9 4.2 9.5 2.8 7.7 6.9M18.4 1213.1l.2 10.6 2.9 10 3.7 9.8 2.5 10.1 1.5 10.2-.2 10.7 4.3 9.7M63 1233.8l-3 11.6 1.4 12.2-3.5 11.6M57.9 1269.2l-5.7 7.4M33.3 1284.2l9.2-4.4 9.7-3.2M17.6 1297.8l7.6-7.1 8.1-6.5M3.1 1197.5l7.8 7.6 7.5 8M436.5 1516.8l10.6-16M436.5 1516.8l-10.4 5.4-11.1 3.6M414 1465l11.3 4.4M414 1465l-6.2 7.2-2.9 9.3-6.2 7.2M398.7 1488.7l5.2 8.8 4.7 9 3.5 9.5 2.9 9.8M489.9 1541.5l3.5-9.2-1.8-10.1 2.7-9.4 1.3-9.6M467.2 1546.6l-8.6-6.5-6.6-8.5-6.8-8.3-8.7-6.5M1071.3 1114.9l-8.9 5.5-8.5 6.1-9.2 5.3-6.3 8.8M1071.3 1114.9l-.9-6.1M1038.4 1140.6l-11.1-3.6M1020.1 1117.9l3 9.7 4.2 9.4M1020.1 1117.9l3.7-9.9-1.5-10.5M1022.3 1097.5l14-7.8M1070.4 1108.8l-7.3-6.9-9.9-2.3-8.2-5.4-8.7-4.5M90 320.9l.8-11.6 .1-11.6-5.3-10.9-.9-11.5M90 320.9l11.4 2.8 11.9 1.2 10.4 5.9M134.4 246.3l-6.4-2.7M134.4 246.3l-.4 11.8 3.8 11.4-2.2 12 2.5 11.6 3.3 11.5-1.2 11.9M123.7 330.8l7.6-7.9 8.9-6.4M128 243.6l-8.1 7.1-8.3 6.8-8.3 6.8-9.7 5-8.9 6M172.5 246.7l3.8-9.6 5.7-8.7 4.5-9.3M172.5 246.7l-9.6 .2-9.5 .3-9.5 .2-9.5-1.1M111.2 171.7l-9.3 7.6M128 243.6l-5-10.4-1.9-11.7-5.6-10.2-2.3-11.6-6.8-9.7-4.5-10.7M94.9 179.2l7 .1M246.7 200.9l10.7 2.8 11.2 1 10.6 2.8 10.4 3.9 9.5 6.7 10.9 1.9M329.6 189.6l1.6 8.5-1.4 8.5 .3 8.5M310 220l10.2-1.7 9.9-3.2M374.9 215.2l-9.7 1.1-10-1.1-9.6 2.1-9.5 2.3M330.1 215.1l6 4.5M2.7 447.7l11.8-.5 11.8-1.3 11.7-2 11.9 3 11.8-.6M93.2 471.9l-9.4-4.6-5.5-9.3-9.1-4.9-7.5-6.8M63.2 339.1l-3.9-.1M63.2 339.1l3.6 11.2 4.4 10.9 1.8 11.6 5.9 10.5 1.6 11.7 3.4 11.2M59.3 339l-9 7.5-7.4 9.2-6.6 9.8-7.1 9.5-9.9 6.7-7.3 9.2-8.5 8.1-10.2 6.3-6.3 10.3-7.3 9.2-8.5 8.1-9.7 6.8M61.7 446.3l6.9-9.2 6.3-9.7 2.5-11.6 6.5-9.6M63.2 339.1l8.6-6.5 7.8-7.8 10.4-3.9M123.7 330.8l6.3 8.9 3.1 10.2 3.3 10.1 1.2 10.9 5.7 9.1M83.9 406.2l10-4 9.1-6.3 9.4-5.4 11-1.9 9.7-4.9 10.2-3.7M161 563l5.7-8.8 4.5-9.3 3-9.8 1.2-10.5 2.6-9.9M93.2 471.9l9.7-2.5 10.1 1.1 10 .6 9.6-3.6M132.6 467.5l8.3 3.9 8 4.3 7.7 5.1M178 514.7l-4.5-9-4.5-9-8.3-6.6-4.1-9.3M663.6 273.3l-9.2 5.5-9 6-9 5.8-8.9 6-10.7 3.1M663.6 273.3l-7.2-8.1M587.6 256.8l-1.3 16.8M586.3 273.6l6.6 9.6 8.4 7.7 9.9 6.2M536.2 237l-6.8 7.3-6.2 7.9M471.9 229.9l5.7 8 7.1 6.8M511.1 192.7l3.1-10.8 2.6-11 4.5-10.5-1.3-11.8 2.5-10.9 3.8-10.7M526.3 127l1.8 .6M532.9 130.4l-4.8-2.8M604.5 99l-7 4-6.4 5-7.9 2.3M583.2 110.3l-7.8-4.8M601.8 138.3l6.2-8.3 2.5-10.1 4.1-9.4M614.6 110.5l-10.1-11.5M585.9 140l-1.7-9.8 1.6-10.1-2.6-9.8M526.3 127l-1.4-1.6M528.1 127.6l10.4-2.5 9.2-5 10-3.3 8-7.4 9.7-3.9M752.9 1614.4l7.6-4.5M838.2 1690.3l-2.7-10.2-4.3-9.7-3.4-9.9-5.4-9.2-3.5-9.9M818.9 1641.4l-10.6-3.7-10-4.8-8.3-7.9-10.7-3.4-8.7-7.1-10.1-4.6M697.5 1598.5l4.8-9.2 3.9-9.6 3.8-9.6 .6-10.7 4.1-9.5M714.7 1549.9l8.7 6.8 9.3 5.9 11.1 2.9 9 6.3 9.2 6.1M760.5 1609.9l-1.4-10.8 1.2-10.6 1.7-10.6M653.9 1619l-6-10-3.8-11-5.9-10-5.9-10-2.3-11.7M552.7 1577.7l7.3-6.6 7.4-6.5 8.6-5 5.7-8.4M630 1566.3l-9.9-2.1-9.5-3.8-10.1-1.3-8.8-5.8-10-2.1M152 1568.7l8.8-4.6 5.5-8.3 8.2-5.3 5.9-7.8M152 1568.7l-9-6.6-7.4-8.6-8.4-7.4-10.1-5.2M180.4 1542.7l-2.8-5.6M117.1 1540.9l-2.9-10.2M114.2 1530.7l6.3-8.1 5.7-8.5 2.5-10.2M177.6 1537.1l-9.3-7.4-11.1-4.6-9.3-7.4-10.9-5-8.3-8.8M73 1503.9l9.8-6.1 11.9-1.6 10.8-3.9 9.7-6.7 10.6-4.5M114.2 1530.7l-9.8-.8-9.5-2.6-9.9-.2-9.3-3.5M128.7 1503.9l-3.7-11.1 .8-11.7M138.5 1641.5l-11.8 .8-11.7-.2-11.6-3.1-11.8 0M56.2 1689.4l1.2-9.3 2.5-8.9 4.1-8.4M91.6 1639l-5.6 7.4-8.9 3.6-8.2 4.5-4.9 8.3M56.2 1689.4l-7.1-8.8-9.4-6.1-9.8-5.5-9.4-6-7.4-8.4M13.1 1654.6l5.9-8.8 3.9-9.8 3.6-10 4.1-9.7 7.9-7.6M64 1662.8l-4-11.4-3.8-11.4-4.3-11.2-5.7-10.6-7.7-9.5M26 1591.6l12.2 14.3M38.5 1608.7l-.3-2.8M125.4 1593.2l-10.9 3.9-11.4 2-11 3.7-10.7 4.6M125.4 1593.2l-7.3-8.3-10.7-4.2-8.5-6.8-7.9-7.6M91 1566.3l-6.8 0M84.2 1566.3l.1 10-2.5 9.5-4 9.3 .1 9.9M81.4 1607.4l-3.5-2.4M139 1595.8l-13.6-2.6M91.6 1639l-5.4-9.9-1-11.3-3.8-10.4M147 1586.5l5-17.8M117.1 1540.9l-7.8 5-6.7 6.2-7.1 5.7-4.5 8.5M69.4 1556.5l14.8 9.8M38.2 1605.9l9.9-.5 10 1.9 9.9 .7 9.9-3M54.4 1376.2l6.2-6.7 6.7-5.9 9.5-1.6M54.4 1376.2l-6.1-6.4-8.2-4.1-5.8-6.7M25 1308.5l8.7 5.2 10.3 2.1 8.1 6.5 9 4.7 8.5 5.7 10.1 2.2M25 1308.5l3.3 9.9 .2 10.4 .9 10.2 3.8 9.7 1.1 10.3M79.7 1334.9l-2.1 8.9 .5 9.2-1.3 9M52.5 1383.8l1.9-7.6M97.9 1313.1l-6.3 7.1-4.2 8.8-7.7 5.9M97.9 1313.1l-9.6-6.8-7.8-8.9-8.8-7.8-8.8-7.7-10.7-5.3M17.6 1297.8l7.4 10.7M110 1007.9l11.4-7.1M97.7 955.6l7.9 6.2 8.5 5.5 8.5 5.3M121.4 1000.8l-2.2-9.5 2-9.3 1.4-9.4M127 923.6l-10.7 3.1-10.9 1.4-11.2-2.4M127 923.6l10.5 5.8 10.7 5.5 8.3 8.9M94.2 925.7l-1.4 2.9M156.5 943.8l-2.2 10.3-5 9.2M122.6 972.6l8.4-4.6 8.4-4.5 9.9-.2M30.7 1134.8l2.8 9.1 3.3 8.8 5.1 8.1M30.7 1134.8l7.7-6.8 7.7-6.8 5.5-9 8.6-6M41.9 1160.8l9.1-5.3 8-6.7 5.9-9.1 7.9-6.7 8.8-5.8M60.2 1106.2l5.4 7.2 6.1 6.4 8.3 4M80 1123.8l1.6 3.4M3.1 1197.5l7.4-6.5 8.5-4.4 9.1-3.4 8.7-4.1M36.8 1179.1l5.1-18.3M44.3 1074l5.4 10.7 6 10.4 4.5 11.1M114.6 1081.3l-6.6 8.8-7.3 8.2-5.8 9.4-8.8 6.9-6.1 9.2M120.3 862.9l-9.7 4.5-10.3 3.3M127 923.6l4-10.3 6.9-8.5 4.8-9.8 5.6-9.2 6.4-8.9M94.2 925.7l-3.6-8.3-2.9-8.7-1.2-9.1M86.5 899.6l4.1-9.9 4.5-9.7 5.2-9.3M104.4 795l-7.4 9-9.1 6.9-10.1 5.8M77.8 816.7l2.7 10.3-.7 10.4 0 10.5M100.3 870.7l-6.3-8.1-9-5.6-5.2-9.1M86.5 899.6l-10.2-1.2-9.2-4.3-10.2-1.2-9-5.3M79.8 847.9l-9.1 2.2-8.9 2.6-7.6 6.2-9.3 1.8M47.9 887.6l1.2-9.2-2.9-8.8-1.3-8.9M77.8 816.7l-11.5-2.8-11.7-1.3-11.6-1.6-11.9 .8-11.5-2.7-12 2-11.7-1M44.9 860.7l-8.4-8.2-9.8-6.9-9-7.5-6.6-10.1-8.2-8.4-7-9.5M74.6 744.2l-8.6 7.6-10.2 5.6-6.9 9.7-8.1 8.3-8.2 8.1-9.3 6.7-11.5 4.1-9.4 6.6-7.8 8.6M172 576.1l9.1 2.8 6.5 7.4 9.1 2.8 7.7 5.2M176.3 688.2l6.9-8.8 10.3-4.9 7.7-7.9 9-6.4 7.2-8.4 8.7-6.8M204.4 594.3l2.9 10.7 3.8 10.4 6.6 9.2 2.8 10.8 5.6 9.6M237.3 498.9l-10 2.3-9.6 3.5-9.7 3.4-10.4 .8-9.4 4.4-10.2 1.4M237.3 498.9l2.8 10.3 4.6 9.8 1.1 10.8 2.6 10.4 3 10.2M204.4 594.3l7-8.2 8.9-6.1 9.2-6 7-8.1 6-9.3 8.9-6.2M260.1 459.5l-6.4 9.4-5.8 9.8-7.3 8.9-3.3 11.3M260.1 459.5l5.3 1.1M265.4 460.6l7.8 8.9 6 10 3 11.8 7.2 9.3 6.1 9.9 7.2 9.3 4.6 10.8 6.1 9.9M313.4 540.5l-9.4 5.1-10.3 2-10.5 1.1-10.2 2.5-10 3M251.4 550.4l11.6 3.8M63.8 1233.2l1.3-9.8 7.3-7.5 2.4-9.4M36.8 1179.1l12.4 2.8M74.8 1206.5l-8.1-8.6-8.9-7.9-8.6-8.1M150 1092.6l2.4 9.3-.8 9.3-3 9.2 1.5 9.3M150 1092.6l7.5-5.5 7.9-4.8 9.8-.8 7.9-4.7M150.1 1129.7l10.8-1.5 10.9-1.1 10.8-1.7 10.9-1.1 10.8-1.8 11.1 2.8 10.9-1M183.1 1076.8l7.8 7.4 6.6 8.4 7.3 7.9 6.4 8.6 7 8.1 8.1 7.1M137.8 1385l-1.3 1.4M137.8 1385l-1.8-11.5-1.6-11.5 .7-11.6 .8-11.7-.9-11.5M97.9 1313.1l4.6-1.5M136.5 1386.4l-9.2-5.9-10-4-10.2-3.4-9.5-5.3-10.1-3.6-10.7-2.2M135 1327.2l-10-7-11-4.7-11.5-3.9M57.9 1269.2l11.5-2.9 12.1 1 11.4-4.1 12.1 1.2 11.7-1.8M102.5 1311.6l3.3-9.7 2.6-9.8 1.9-10.1 1.1-10.3 5.3-9.1M63.8 1233.2l11.6 3 11.8 1 11.9 .8 11.7 1.7M116.7 1262.6l1.2-1.4M117.9 1261.2l.5-1.7M110.8 1239.7l4.2 9.8 3.4 10M275.9 1391.2l-9.9 7.5M275.9 1391.2l7.8 4 6.9 5.7 8.6 2.7M266 1398.7l-4.7 9.1-3.2 9.8-4.1 9.4-3.7 9.5M299.2 1403.6l2.6 6.2M301.8 1409.8l-5 9.1-2.2 10.4-3.1 9.9-3.8 9.7-6.4 8.5M250.3 1436.5l4.2 7.6 2.3 7.9-1.5 8.7M256 1460.9l11.5 .7 11.2-2.5M278.7 1459.1l2.6-1.7M211.2 1410.5l11.6-13.7M211.2 1410.5l10.7 5.1 10.7 5.2 8.8 7.9 8.9 7.8M222.8 1396.8l10.7 3 10.8 1 10.8-.2 10.9-1.9M301.8 1409.8l10.6 3.7 8.4 7.1 8.8 6.5 9.4 5.6M281.3 1457.4l10.2-.5 10 1.9 9.9 2.8 10.2-1.5M321.6 1460.1l5.6-9.3 5-9.7 6.8-8.4M354.9 1410l-1.2 10.9-4.8 9.9M354.9 1410l-3.2-10.3-2.9-10.4-2.3-10.6-6.3-9.1M336.7 1369.6l3.5 0M336.7 1369.6l-8.5 5.8-6.8 7.5-6.9 7.5-9 5.1-6.3 8.1M348.9 1430.8l-9.9 1.9M190.1 1604.6l7.4-9.4 7.7-9.1 4-11.7 8-9M206.8 1618.8l9.1-4.1 9.4-3.8 9-4.3 8.1-6.1M242.4 1600.5l-6.9-8.3-8-7.6-3.5-10.7-6.8-8.5M180.4 1542.7l10.6 1.3 10.6 1 10.6 1M217.2 1565.4l-4.2-9.3-.8-10.1M367.7 1443.6l-8.3-8.1-10.5-4.7M367.7 1443.6l-2.4 11.3-2.3 11.3-.6 11.6M321.6 1460.1l4.1 11.1 3.7 11.2M329.4 1482.4l11.2-.4 10.9-1.8 10.9-2.4M404.4 1440.1l-9.3-.6-9.1 2.6-9 2.5-9.3-1M404.4 1440.1l1.1 9.1 6 7.3 2.5 8.5M398.7 1488.7l-8.9-.7-8.6 2-8.6 1.2M372.6 1491.2l-10.2-13.4M404.4 1440.1l6.4-8.4 2.7-10.4 4.2-9.5 5.2-9.1 6.3-8.4M354.9 1410l9.9-7 12.2-2.1 10.6-5.3 11-4.6 10.5-5.6M977.3 1124.9l-8 9.1-10.8 5.5-9.6 7.1M977.3 1124.9l2.8-8.7-2.7-9.1 1.8-8.7M948.9 1146.6l-2.1-10.8-1.9-10.8-3.5-10.3-6.9-9.1M934.5 1105.6l11.4-3.3 10.6-5.1 9.9-6.5M979.2 1098.4l-12.8-7.7M1020.1 1117.9l-10.9 .3-10.4 3.7-11-.1-10.5 3.1M1012.1 1089.5l10.2 8M1011 1089.2l-10.9 1.9-10.5 3.8-10.4 3.5M1242.4 1049.8l-9.8-4.2-10.3-1.8-10.9 1-10.4-1.3-10-3.1-10.3-2M1180.7 1038.4l4.5-8.6 .1-9.9 .6-9.8 5.4-8.4M1013.2 1204.3l-3.8 7.3-4.2 6.9-7.4 4.3M1013.2 1204.3l-3.4-10.9-5-10-5.8-9.8M997.8 1222.8l-10.1-.3-9.8-2.4-9.8-2.6-10.1-.5-9.6-3.6M999 1173.6l-9.2-4.8-10.1-2.3-10.5-.8-9.8-3.1-9.3-4.7M950.1 1157.9l2.2 11.1-2.7 11.1-.6 11.1-2.3 11 1.7 11.2M1027.3 1137l-7.9 8.5-4.9 10.8-7.1 9.2-8.4 8.1M947.9 1155.3l2.2 2.6M947.9 1155.3l1-8.7M1138.5 1081.9l.5 9.3 4 8.8-.9 9.5M1138.5 1081.9l10-3.4 9.9-3.4 7.7-7.7M1142.1 1109.5l9.9-1.9 10-.8 10-1.5M1172 1105.3l6.2-16.7M1178.2 1088.6l-3.3-12.7M1174.9 1075.9l-8.8-8.5M1121.5 1077l17 4.9M1121.5 1077l0-9.6 1.1-9.7-3.8-9.2M1118.8 1048.5l12.1 1.1 11.5 3 10.7 6.4 11.9 1.8M1165 1060.8l1.1 6.6M1242.4 1049.8l-9 5.3-10.2 2.3-9.4 4.4-10.7 1.2-9.5 3.9-9.4 4.4-9.3 4.6M1180.7 1038.4l-13.1 7.8M1165 1060.8l2.6-14.6M1123.1 1231.9l-1-12-3.7-11.2-4.6-11M1101.5 1258l-11.6 3-11.3 4M1035.9 1207.4l7.5 9.5 2.2 12.1 5.5 10.5 5.5 10.5 6.4 9.9M1035.9 1207.4l9.2-4.8 6.9-8 8.3-5.9 9.8-3.9 7.3-7.5M1113.8 1197.7l-9.6-6.9-9.7-6.6M1078.6 1265l-15.6-5.1M1094.5 1184.2l-17.1-6.9M1038.4 1140.6l10.4 5.8 7 10 8.3 8.4 10.5 5.7M1035.9 1207.4l-11.4-1.1-11.3-2M1077.4 1177.3l-2.8-6.8M1071.3 1114.9l8.1 7 7.4 7.8M1074.6 1170.5l1.9-10.5 5.9-9.4-.3-11.2 4.7-9.7M1004.8 1281.4l9.8-3.3 9-5.4 10.8-.7 10.1-2.6 8.9-5.6 9.6-3.9M1004.8 1281.4l-3.6-2.3M997.8 1222.8l1 9.9-2.8 9.5 .8 9.9-3.8 9.3M1001.2 1279.1l-4.2-8.8-4-8.9M979.1 1350.1l-7.4-7.1-7.5-6.9-7.7-6.7-9.8-4.1-7.5-6.9-8.4-5.8M979.1 1350.1l9.7-5.1 10.2-4.1 9.9-4.7 9.3-5.7M1018.2 1330.5l-3-9.7-1.7-10.1-4.5-9.3-.9-10.3-3.3-9.7M1001.2 1279.1l-10.9 3-10.1 4.7-9.9 5.1-10 5-9.3 6.2-9.3 6.4-10.9 3.1M1038.5 1404.5l4.7 10.7 5.3 10.3M1038.5 1404.5l5.5-9.8 6.1-9.5 1.8-11.4 3.9-10.5 5.2-9.9M1071.9 1437.2l8.9-5.5 9.3-5 9.8-4 9.6-4.4 7.1-8.4M1071.9 1437.2l-8.6-2.4-7.9-3.6-6.9-5.7M1105.6 1375.7l3.8 11.3 5.3 10.9 1.9 12M1105.6 1375.7l-7.5-5.4-7.5-5.4-6.4-6.9-9-3.3M1075.2 1354.7l-13.2-1.7M998 1509l6.2-2.4M998 1509l-3.8-10.9-1.3-11.5-1.6-11.5-2-11.4-3.5-11-3.9-10.9-3.4-11M1004.2 1506.6l6-9.9 6.5-9.6 5.3-10.3 6.5-9.5 5.1-10.4 4-11 4.4-10.8 6.5-9.6M978.5 1430.8l6.6-6.3 7.4-5.5 8.1-4.6 5.6-7.6M1006.2 1406.8l10.9 .5 10.7-1.6 10.7-1.2M979.1 1350.1l-3.9 16.3M1018.2 1330.5l7.8 6 9.9 2.2 9.5 2.8 8.4 4.8 7.2 7.1M1006.2 1406.8l-8.2-6.5-6.7-7.7-3.6-10.1-5.8-8.4-6.7-7.7M1172 1355l.2 10.9-5.6 9.5-1.5 10.4-2.6 10.2-1.1 10.5-3.1 10.1M1172 1355l-11.2 3.3-11 3.7-10.5 5.1-11.2 2.9-11.5 2.2-11 3.5M1158.3 1416.6l-8.7 5.1-8.9 4.8M1140.7 1426.5l-7-7-8-5.6-9.1-4M1194.8 1329.6l-6.5 9.5-8.1 8-8.2 7.9M1131.3 1311.7l-8.5 8.4-9.4 7.1-10.5 5.5-10.4 5.9-10.1 6.2-7.2 9.9M1078.6 1265l-1 11.2-4.7 10.5 1.2 11.6-2.6 10.9-2.7 10.9-2.4 11-4.1 10.6-.3 11.3M923.7 1621.1l-5.3-18M923.7 1621.1l7.6 5.5 7.8 4.9 8.2 4.2 9.1 2.6M989.7 1517.8l5.9 10.2 4.2 10.9 5.9 10.1 2.9 11.5 3.2 11.3 4.7 10.7M989.7 1517.8l-10.3 .5-10.1 1.4M1016.5 1582.5l0 10-4.4 9-2.1 9.5M918.4 1603.1l4-10.2 6-9.1 7.1-8.4 6.9-8.5 5.6-9.3 6.1-9 5-9.7 3.4-10.6 6.8-8.6M956.4 1638.3l8.4-5.6 8.2-6 9.7-2.9 8.8-5 9.3-3.7 9.2-4.1M838.2 1690.3l9.2-6.1 8.7-6.8 8.6-6.8 9.2-6.1 8.2-7.4 7.9-7.7 7.4-8.4 9.7-5.4 7.7-8.1 8.9-6.4M1140.7 1426.5l-3.3 10.6 1.5 11.1-1.4 10.8M1071.9 1437.2l3.9 9.2 6.6 7.9 2.4 10.1 3.2 9.6 7.2 7.5M1137.5 1459l-9.5 7.6-11.6 3.7-10 6.8-11.2 4.4M1004.2 1506.6l11.6-2 11.5 3.7 11.5-1.7 11.5 2 11.6-.8 11.6-.2 11.5 .7M1095.2 1481.5l-4.6 8.5-.6 10-5 8.3M1118.8 786.5l-1.9 8.3-6 6.4-2.1 8.2M1118.8 786.5l4.2-2.8M1123 783.7l11.6 .6 11.5 2M1146.1 786.3l2.1 10.4 .4 10.6 .2 10.6 1.7 10.5M1150.5 828.4l-10.7-4-10.1-5.5-10.9-3.8-10-5.7M941.3 963.2l7.8-7.7 6.6-8.9M941.3 963.2l7.5 7.8 4.2 10 5.7 9.1 6.8 8.3M955.7 946.6l11.3-4.3M966.3 998.7l9.1-2.1 8.1-4.9 9.2-1.9 8.2-4.8M967 942.3l6.6 8.7 6.1 9.1 5.3 9.7 9.6 6.2 6.3 9M734.1 1184.9l-11.2-2.7-11.6 1.5-11.4-1.4-11.4 0-11.2-2.7-11.2-2M734.1 1184.9l-4.2-9.9-7.1-8-5.7-8.8-3.9-10.1-8.1-7.3M660.4 1162.6l5.7 15M660.4 1162.6l7.6-7.3M668 1155.3l9.3-3.6 9.6-2.8 8.8-4.8 9.4-3.3M1014.2 1037.4l-2.9 10.3-1.2 10.4-1 10.4-.7 10.4 3.7 10.6M1014.2 1037.4l-18.7 4M1011 1089.2l-7.3-6.4-6.1-7.8-9.2-4.1-7.1-6.5M995.5 1041.4l-5.2 7.3-3 8.8-6 6.9M966.4 1090.7l4-7.9 1.4-8.6 1.6-8.6M981.3 1064.4l-7.9 1.2M933 1104.2l1.5 1.4M933 1104.2l1.5-8.3 .5-8.4 2.2-8.1M973.4 1065.6l-15.7-8.6M937.2 1079.4l6.9-7.4 5.7-8.6 7.9-6.4M967.8 1018.9l-6.5 7.8-5.6 8.3-3.2 9.8M967.8 1018.9l9.4 7.3 9.1 7.6 9.2 7.6M957.7 1057l-5.2-12.2M1150 1023.6l5.2 8.1 6.3 7.1 6.1 7.4M1118.8 1048.5l-1.4-2.3M1117.4 1046.2l5.3-8.3 6.4-7.6M1150 1023.6l-10.1 4.7-10.8 2M1094.6 1015.9l1.9 9.3 2.2 9.2 3.1 9M1094.6 1015.9l7.7-8.7 10.5-4.9M1101.8 1043.4l15.6 2.8M1129.1 1030.3l-6.1-8.9-6.1-9-4.1-10.1M1080.5 1070.3l11.1 3.4 9.9 6.3 11 4M1080.5 1070.3l-1.5 .9M1079 1071.2l.8 8.6 2.7 8.5-1.9 8.8M1080.6 1097.1l9.6 .8 8.6 4.5 9.3 2M1108.1 1104.4l0-10.6 4.4-9.8M1121.5 1077l-9 7M1090.5 1049.7l11.3-6.3M1090.5 1049.7l-4.1 10.7-5.9 9.9M1070.4 1108.8l10.2-11.7M1036.3 1089.7l6-5.8 2.7-8.1 5.3-6.3M1050.3 1069.5l9.5 2.8 9.6 0 9.6-1.1M646.3 1155.4l-9.7 1-9.6 1.4-9.7 1.2-9.3 3.3M646.3 1155.4l-3.6-10.9 1.1-11.7-3.3-11-2.9-11M608 1162.3l-.7-10.7-1.4-10.6 2.2-10.9-.4-10.7-2.8-10.5M608.9 1227.5l-4.4-10.7-4.5-10.5-4.6-10.6-1.7-11.6-4.7-10.5M608.9 1227.5l9.8-2.2 9.9-.7 10 0 9.8-1.6 10 .2M658.4 1223.2l-.4-11.8 3-11.2 2.8-11.3 2.3-11.3M660.4 1162.6l-14.1-7.2M589 1173.6l10.7-3.6 8.3-7.7M1186.4 554.5l-4.7-8.8-2.6-9.6-2.9-9.4M1219.1 484.1l-8.8 3-9.2 2.1-7.5 6.1M1176.2 526.7l6.9-9.9 3.9-11.5 6.6-10M1176.2 526.7l-11.3-.4-11.2 1.3-11.3 .1M1193.6 495.3l-11.6-2.7-11.6-2.4-11.2-4.2M1142.4 527.7l-7.8-4.9M1159.2 486l-4.9 10-6.2 9.1-6.1 9.3-7.4 8.4M1209.6 400.3l-7.9 7.3-7.2 8.1-7.8 7.3-9.6 5.2M1177.1 428.2l.2 12.9M1177.3 441.1l7.4 9.4 7.7 9.3 9.6 7.4 8.5 8.4 8.6 8.5M1038.8 120.2l-16-.1M1038.8 120.2l2.9 9.9 2.8 10 1.9 10.2M1004.6 135.3l9.1-7.6 9.1-7.6M59.1 205.9l-3.6 10.1 1 10.8-2.6 10.2-3.5 10 1.1 10.8M51.5 257.8l-11.8 1.8-11 4.1-11.2 3.4-10.5 5.6-11.6 2.3-10 6.8-11 4.2M94.9 179.2l-7.5 8.5-10.7 4.5-9.7 5.7-7.9 8M84.7 275.3l-7.9-5-9.7-1.8-7.6-5.7-8-5M59.3 339l-8.3-7.7-11.1-3.2-10.5-4.2-9.1-6.5-7.9-8.3-8.9-6.7-10.6-4-10-5-8.5-7.4M423.2 297.7l.3-10.6-.8-10.6 .7-10.5 4.9-10 2.8-10.2-.6-10.6M336.1 219.6l2.9 10.9 3.7 10.6 .3 11.4M422.3 298.1l-9.9-3.5-10-2-10.2-1.1-10.3 .7-10.3-.6M343 252.5l5.3 8.1 7.6 6.5 6 7.6 4.6 8.7 5.1 8.2M393.1 368.1l-10 2-9.9 2.3-10.1 .1-10.1 .2-10.2-.7M393.1 368.1l2.9-10.5 3.4-10.4 2.8-10.5 6.7-9 4.9-9.7 3-10.5 5.5-9.4M342.8 372l.4-11 1.7-10.8 3.2-10.5 2.7-10.5 .3-11 4.6-10.2M371.6 291.6l-9.1 7-6.8 9.4M132.6 467.5l3-11.4 7.5-9.3 5.6-10.3 1.8-11.9 7.4-9.4 5.2-10.4 3.1-11.3M143.3 380l7.6 2.9 6.2 5.8 7.9 2.1M165 390.8l1.2 2.7M156.6 480.8l7.7-8.7 9.8-5.9 7.6-8.9 9.8-5.9 9.5-6.3 10.6-5 7.7-8.7M166.2 393.5l8.3 7 9.5 5.5 8.6 6.6 8 7.6 10.5 3.9 8.2 7.3M297.4 319.1l-10.3 1.3-10.1 1.9-9.8 3-9.8 3.1-9.6 3.8-9.3 4.6M297.4 319.1l5.3-12M302.7 307.1l-1.1-9M301.6 298.1l-7.3-6.7-6.3-7.7-7.2-6.8-5.3-8.4M275.5 268.5l-9.3 .4-9 3.4-9.3 1-9.4-.8M238.5 272.5l-10 6.8-9.6 7.3-6.6 10.5M212.3 297.1l-.4 3.8M211.9 300.9l5 7.4 3.9 7.8 .4 9.2M221.2 325.3l7.8 7 9.5 4.5M339.8 373.8l3-1.8M339.8 373.8l-10.5-3.2M329.3 370.6l-4-9.4-7.8-7-6.8-7.7-3.2-9.9-4.8-8.9-5.3-8.6M355.7 308l-10.5-2.8-10.7 1.1-10.5-1.9-10.7 1.8-10.6 .9M343 252.5l-6.7 7.8-6.8 7.7-6 8.5-7.9 6.6-7.4 7.2-6.6 7.8M310 220l-5.3 10.8-5.6 10.6-10.3 7.4-5.3 10.8-8 8.9M241.4 207.5l-1.9 10.8 .5 10.8-2.3 10.8 1.1 10.9-.9 10.8 .6 10.9M172.5 246.7l8.1 7.3 7.2 7.9 5.8 9.1 7 8 4.4 10.2 7.3 7.9M140.2 316.5l10.7-.1 10.3-1.9 10.2-2.5 10.4-1.5 10.1-3.1 9.8-4.2 10.2-2.3M165 390.8l8.5-6.9 6.6-8.6 8.3-7.1 7.7-7.6 7-8.2 5.5-9.5 7.6-7.7 5-9.9M433.4 411.9l-7.9 8.7-10.9 4.5M433.4 411.9l-6.7-10-7.2-9.6-9.1-7.8-9.7-7.3-7.6-9.1M339.8 373.8l1.9 10.5-1.5 10.6 1.2 10.5 1.7 10.5-.3 10.6-.1 10.5M342.7 437l10.5 0 10.3-1.9 10.5-.3 9.9-3.8 10.3-1.9 9.8-4.4 10.6 .4M293.2 922.9l-7 8.8-8.5 7.5M260.8 894.6l2.2-9 4-8.2 3.3-8.5 6.1-7.1M260.8 894.6l-.4 11.1 4.9 10.2 1.2 10.8M276.4 861.8l4.7-4.1M277.7 939.2l-11.2-12.5M170.2 712.4l8.9 7.6 11.8 2.3 10.9 4 8.9 7.6 10.1 5.5 9.8 5.9M183.9 804.8l8.7-2.7 8.9 2.2 8.7-.1M230.6 745.3l-5.5 9.1-2.2 10.2-1 10.7-5.8 8.9-4.8 9.4-1.1 10.6M221 865.2l1.1-9.8 3.5-9.4-.7-10.3 1.4-9.8 4.6-9.2M276.4 861.8l-10.9 3.1-11 1.1-11.3-2.8-11 1.8-11.1 .3M221 865.2l-9-2.6-8.8-3.6-9.5-.4-9.3-1.4M230.9 816.7l-6.1-5.4-8.5-1.5-6.1-5.6M586.3 273.6l-6.7 6.4M463.4 131.1l10-3.5 10.5-1.9 9.9-3.7M524.9 125.4l-10.3-1.6-10.4-1.1-10.4-.7M495.6 1503.2l10-4 9-6.3 11.2-1.3 9.9-4.2 9.1-6M544.8 1481.4l4 3.6M581.7 1551.2l-1.4-7M548.8 1485l7 8.9 6.1 9.4 6 9.5 1.6 11.8 4.7 10.2 6.1 9.4M177.6 1537.1l-1.1-9.9 2.2-10-2.7-9.9-.8-9.9 1.9-9.9M212.2 1546l4.8-4.1M217 1541.9l-.3-11.8-1.7-11.6-4.4-11.2-2.3-11.5-.2-11.8M177.1 1487.5l10.3-1.5 10.5 .5 10.2-2.5M239.7 1467.3l-16.3 .2M239.7 1467.3l15.6-6.6M209.2 1411.2l2-.7M209.2 1411.2l-3.9 9.8-5.9 8.6-5 9.2M194.4 1438.8l8.1 6.3 8 6.4 6.4 8 6.5 8M239.7 1467.3l1.4 11.3-1 11.2-3.2 11.1 1.4 11.3 1.2 11.4-3.8 11M235.7 1534.6l-8.9 4.8-9.8 2.5M223.4 1467.5l-7.9 8.1-7.4 8.4M126.4 1479.2l11.9-1.6 11.4-4.2 11.9-1.3M126.4 1479.2l-3.4-9.3-5.5-8-5.8-7.9M111.7 1454l.1-10.6-.5-10.5 3.2-10.3M176.5 1442.9l-5.9 9.3-4.5 9.9-4.5 10M176.5 1442.9l-5.2-9.1-8.3-6.2-5.9-8.4-8.5-5.9-8.9-5.6-5.5-8.9M114.5 1422.6l5.6-8.7 5.1-9.2 9-5.9M125.8 1481.1l.6-1.9M177.1 1487.5l-9.3-6.2-6.2-9.2M55.3 1464.4l11.2-2.5 11.8 .6 11.1-3.1 11-3.5 11.3-1.9M57.9 1412.9l10.9 4 11.9-1.4 11.7 .1 11.1 3.2 11 3.8M194.4 1438.8l-17.9 4.1M137.8 1385l10.6-.5 9.7-4.4 10.4-1.7M168.5 1378.4l8.4 6.2 7.1 7.8 8.7 5.9 9.3 5.2 7.2 7.7M136.5 1386.4l-2.3 12.4M168.5 1378.4l6.2-8.9 7.6-7.4 8.7-6.4 7.4-7.7M222.8 1396.8l-2.1-11.7 1.8-11.6 1.1-11.6M198.4 1348l7.7 6 8.1 5.1 9.4 2.8M184.3 907.1l7-7.4 9.3-5 6.7-7.7 8.3-6 5.8-8.7M184.3 907.1l4 7.9-.3 9 2.6 8.2M190.6 932.2l8.3-4.3 9.1-2.2 8.9-2.9 7.8-5.3M224.7 917.5l-1.5-11.9 3.8-11.5 .8-11.7M227.8 882.4l-6.4-10.1M159.3 877.6l5.7 7.9 7.6 6.2 6.9 6.7 4.8 8.7M221.1 865.3l.3 7M156.5 943.8l10.6-5.9 11.5-2.8 11.8-2.3M260.8 894.6l-11.6-2.5-10-6.9-11.4-2.8M266.5 926.7l-10.9 0-10.3-3.1-10-4.3-10.6-1.8M241.1 1074.3l-9.2-5.5-10.8-2.4-9.9-4-8.1-7.4M241.1 1074.3l3-10 .7-10.4 4-9.8 1.1-10.3 1.5-10.3-.1-10.5M251.3 1013l-10.3 1.7-10.4 1.5M203.1 1055l3.9-10.3 4-10.2 6.1-9.2M230.6 1016.2l-13.5 9.1M160 987.4l-4.8 10.6-7.9 8.6M160 987.4l8.7 .1 8.6 1.5 8.6 .2M185.9 989.2l2.2 10-.4 10.2M187.7 1009.4l-7.1 6.6-7 6.7-5.7 8M147.3 1006.6l2.4 11.7 6 10.3M155.7 1028.6l12.2 2.1M121.4 1000.8l9 .3 8.5 2.6 8.4 2.9M149.3 963.3l2.4 8.6 2 8.7 6.3 6.8M204.9 960l-3.7-9.7-5.8-8.5-5-9M204.9 960l-6.2 17.4M198.7 977.4l-12.8 11.8M198.7 977.4l6.7 7.5 7.9 6.5 7.1 7.2 5.3 8.6 4.9 9M217.1 1025.3l-10.5-4.1-8.5-7.7-10.4-4.1M194.1 1058.2l9-3.2M194.1 1058.2l-8.3-5.2-4.8-8.6-8.3-5.2-4.8-8.5M138.7 1045.7l6.8-4.6 4.3-7 5.9-5.5M139.5 1082.8l10.5 9.8M194.1 1058.2l-5.3 9.4-5.7 9.2M34.4 921l-11.5 2-11.3 2.7-11.5 2-11.5 2-11.1 3.7M34.4 921l2.7-9.1-.6-9.7 3.1-9M19.7 956.7l-9.6-2.5-8.5-4.6-7.5-6.3-8.8-4.2-7.8-5.7M50.7 939.9l-6.1-5.7-3.5-8-6.7-5.2M47.9 887.6l-8.3 5.6M287.4 651.2l10.5-.8 10.5 1.6 10.4-.6 10.5 .7 10.5 .4 10.2-3.7 10.4-1.1M287.4 651.2l-9.3-3-8-5.5-7.6-6M262.5 636.7l5.8-7.9 5.7-8.1 8.4-6 4.8-8.8M360.4 647.7l-7.1-7.6-9.5-4.9-8.4-6.1-7.8-6.9-8.7-5.9-7.2-7.5-6.7-8.2M305 600.6l-17.8 5.3M263 554.2l3.8 10.8 4.7 10.4 7 9.3 6.5 9.6 2.2 11.6M227.5 645.3l11.3-4.6 12.2-.4 11.5-3.6M276.5 1131.6l7.9-7.8 10.1-4.8 9.4-5.8 7.5-8.2 8.6-6.8M276.5 1131.6l-9.3 1.5-9.2 .6-9.3 .5-9.3-1.4M239.4 1132.8l-6.9-3.6M247.6 1083l-4.5 10.6-1.7 11.7-3.9 10.9-6.5 9.8M231 1126l1.5 3.2M241.1 1074.3l6.5 8.7M226.3 1124.3l4.7 1.7M239.4 1132.8l5.5 9.4 5.3 9.5 6 9.2 5.3 9.5 1.4 11.4 5.5 9.4M232.5 1129.2l-6.2 8.6-7 8.2-4.7 9.6-3.8 10.1-5 9.3-6 8.8M268.4 1191.2l-8.7 4.2-8.6 4.2-8.7 4.2-9.2 2.9-8.8 3.7M224.4 1210.4l-9.7-2.9-10 .6M199.8 1183.8l3 7.8 .6 8.3 1.3 8.2M150.1 1129.7l-8.1 15.9M199.8 1183.8l-9.7-6.2-8.5-8.1-9.5-6.6-8.8-7.6-10.4-5.3-10.9-4.4M89.1 1201.8l-2.4-11.9 2.4-11.9-.4-11.8M89.1 1201.8l9.4 1.4 7.4 6.6 9.2 2.3M115.1 1212.1l9.6-5.2 6.8-8.5M131.5 1198.4l2.5-9.5 .9-9.6-1.7-9.8 .1-9.6 1-9.6M134.3 1150.3l-10.7 .4-10.3-2.7-10.4-1.9M102.9 1146.1l-6.3 5.6-5.8 5.9-2.1 8.6M74.8 1206.5l14.3-4.7M49.2 1181.9l10.6-2.2 10.2-3 8.6-7.3 10.1-3.2M110.8 1239.7l.4-9.3 4.2-8.8-.3-9.5M118.4 1259.5l10.1-3 10.5-2.1 9-6.1 9.6-4.4M157.6 1243.9l4.1-7.6 2.8-8.1 3.1-8M167.6 1220.2l-8.5-6.2-8.7-6-10.6-3-8.3-6.6M167.6 1220.2l8.8-4.5 9.8-1.2 8.7-4.6 9.7-1.7M142 1145.6l-7.7 4.7M81.6 1127.2l8.6 4.7 4.7 8.9 8 5.3M333 1661.1l-6.2-10.2-2.9-11.9-4.5-11.1-5.1-10.8-8.5-9.1M333 1661.1l-9.7-5.2-9.8-5.2-10.5-2.9-10.4-3.3-10.8-2.3-11-1.8-9.4-6M305.8 1608l-11.5-1-11.3 .9-11.3 1.1-10.8 4.9M261.4 1634.4l1.7-10.3-2.2-10.2M231.7 1683.3l7.2-9 4.1-10.9 5-10.4 6.3-9.5 7.1-9.1M341.2 1671.5l-1.6-5.2M339.6 1666.3l-6.6-5.2M242.4 1600.5l15.5 7.5M257.9 1608l3 5.9M413.8 1636.4l-6.8-6.2-7.3-5.6-6.9-6-6.2-6.9M339.6 1666.3l4-9.2 .9-10.3 5.6-8.5 2-9.9 4.1-9.2M386.6 1611.7l-10.4 1.5-10.6 .5-9.4 5.5M436.4 1580.7l-10.3-4.7-9.4-6.5-10.5-4.3M386.6 1611.7l5.9-8.5 2.5-9.9 1.6-10.3 3.3-9.5 6.3-8.3M415 1525.8l-4.1 10.4-8.4 7.8-4.5 10.2M406.2 1565.2l-8.2-11M256 1460.9l.5 9.9 3.7 9.1 3.9 9 2.7 9.3 1.8 9.5M235.7 1534.6l10.1-.2M268.6 1507.7l-6.9 9.5-8.4 8.2-7.5 9M341.4 1368.8l5.4-9.4 6.5-8.7 5.2-9.5 4.1-10.1M341.4 1368.8l10.4 4.7 11.2 1.2 10.9 2.3 11.2 1.1 11 2 10.7 3.5M314 1351l2.5-8.9 3.9-8.4 2.1-9 1.6-9M314 1351l8.1 5.5 7.9 5.8 6.7 7.3M324.1 1315.7l9-3.7 8.7-4.5 10-.4M351.8 1307.1l3.7 8 2.8 8.3 4.3 7.7M353.2 1301.8l-1.4 5.3M353.2 1301.8l11-1.6 11.1 0 10.5-4.8 10.8-2.7 11.3 .6M476.5 1390l4.8-11 5-10.9 4.3-11.2 6.9-10 2.9-11.9 7.2-9.9M507.6 1325.1l-.1-3.5M507.5 1321.6l-11.6-4.6M918.6 1162.3l-9.4 6.6-7.1 8.8-6.7 9-7.1 8.7M918.6 1162.3l-6.9-8.1-8.8-5.6-8.5-6.1-7.2-7.6-9.2-5.3M878 1129.6l-9.6 5.4M868.4 1135l-4.9 10-7.2 8.9-2.4 11.3-6.5 9.2-4.4 10.2M843 1184.6l10.9 4.6 11.7 1.1 11.3 2.8 11.4 2.3M1153.4 1237.8l9.7-4.6 7.6-7.5 8-6.8 7.4-7.7 10.5-3.6 8.8-5.8 7.3-7.8M1113.8 1197.7l5.8-8.4 8.2-5.8 6.4-7.7 8.6-5.5M1142.8 1170.3l10.4-3.2 10.7-1.4M1163.9 1165.7l10 5.2 8.5 8 9.4 6.2 10.8 3.8 10.1 5.1M1132.2 1137.4l8.1-11.7M1132.2 1137.4l-16.7-2.3M1115.5 1135.1l-12-12.5M1140.2 1111.7l-10.2-3.2-11 1.6-10.2-3.3M1140.2 1111.7l.1 14M1108.8 1106.8l-5.3 15.8M1142.8 1170.3l-4-10.8-4.3-10.7-2.3-11.4M1170.7 1137.6l-4.6 8.8 1.1 10.2-3.3 9.1M1170.7 1137.6l-9.7-5.1-9.4-5.8-11.3-1M1094.5 1184.2l5.6-9.2 3.8-10 3.5-10.2 2.8-10.4 5.3-9.3M1086.8 1129.7l16.7-7.1M1142.1 1109.5l-1.9 2.2M1108.1 1104.4l.7 2.4M900.9 1307.1l-6.3-8.7-2.2-10.7-4.9-9.3-2.9-10.3-7.3-8.3-3.6-9.9M900.9 1307.1l5.2 .1M906.1 1307.2l5.5-9.3 6.4-8.9 4.4-9.9 4-10 5.5-9.3 1.9-11.1M873.7 1249.9l7.1-8.1 5.2-9.4 5.9-8.9 5.3-9.4M897.2 1214.1l7.3 6.7 9 3.7 8.8 3.8 8.9 3.9M931.2 1232.2l2.6 16.5M993 1261.4l-9.6-3.1-10.3-.2-10.2-.4-9.6-3.5-9.3-5-10.2-.5M930.8 1312.6l-10.6-1.3-10.7-1.8M909.5 1309.5l-3.4-2.3M947.9 1155.3l-10 1.4-9.9 1.8-9.4 3.8M948.4 1213.4l-5.9 6.1-4.2 7.7-7.1 5M888.3 1195.4l2.1 10.5 6.8 8.2M818.9 1641.4l4.7-9.6 5.3-9.3 .7-11.1 1.9-10.6 4.8-9.5 5.4-9.3M918.4 1603.1l-10.1-4-8.2-6.9-9.6-4.8-7.2-8.4-8.4-6.5M841.7 1582l11.7-.9 11.2-3 10.3-5.6M658.4 1223.2l8.8 5.4 7.6 6.6 4.7 9.6M734.1 1184.9l9.3 4.4 9.1 5M679.5 1244.8l7.8-8.2 9.8-5.4 10.4-4.4 9.7-5.5 9.8-5.3 9.3-6.1 8.3-7.5 7.9-8.1M842.3 1240.7l-7.6 7.2-6.5 8.1-5.3 9.1M842.3 1240.7l9.8 5.2 10.3 3.6 11.3 .4M900.9 1307.1l-15.1 6.3M822.9 1265.1l4.8 8.8 4.2 9.3 4.8 8.9 5.5 8.3 7.2 7.3 7.3 7.2M885.8 1313.4l-9.8-.1-9.6 2.5-9.7-.9M924.2 1376.3l10.6 4.1 8.9 7.1M924.2 1376.3l-9.4 4.2-9.3 4.2-9.4 4.1-8.6 5.4-7.5 7.1-8.1 6.4M943.7 1387.5l1.5 11.5 3.7 11.1-.6 11.8M948.3 1421.9l-7.1 6.8-8.1 5.3-8 5.5-8.5 4.9M916.6 1444.4l-10.1-1.9-9.3-3.8-8.3-6.4-9.8-2.9M879.1 1429.4l-4-9.2-6.8-7.4M871.9 1407.7l-3.6 5.1M909.5 1309.5l0 11.6 4.5 10.7 4.6 10.7 2 11.2 .6 11.5 3 11.1M975.2 1366.4l-8.8 4-8.3 4.5-8.2 4.8-6.2 7.8M885.8 1313.4l-3.1 11.6 .5 12.1-1.1 11.9-4.1 11.4-2.3 11.7 .5 12.1-2.1 11.7-2.2 11.8M978.5 1430.8l-9.7-4.2-10.4-1.9-10.1-2.8M1137.5 1459l7.9 6.9 9.5 5 9.6 4.8 7 8.2 9.3 5.2 8 6.9 7.7 7.3M941.2 963.2l-6.2-9.2-6.3-9.2-3.9-10.7-7-8.7M917.8 925.4l-9.9 4.4-10.5 2.4-10.1 3.8M955.7 946.6l-5.3-10-6.6-9.4-2.7-11.5-6.6-9.3M934.5 906.4l-3.9 1.5M917.8 925.4l4.6-10.1 8.2-7.4M1160.7 836.4l3.6-.2M1160.7 836.4l-10-7.6M1164.3 836.2l4.1-9 4.3-8.9 3.2-9.4 2.9-9.5 4.9-8.6M1146.7 785.8l8.9 3.7 9.7-2.2 9.4 .5 9 3M1146.7 785.8l1.1-8.6 1.4-8.5 5.6-7.1M1154.8 761.6l11.4 2.6 11.6-1.4 11.5-1.2 11.5 1 11.4 1.3 11.5 .4M1183.7 790.8l9.6-2.2 8.6-5.4 9-3.8 9.9-1.7 9.2-3.6M1230 774.1l6.5-3.8M1236.5 770.3l-12.8-6M1118.8 786.5l-10.9-4.8-11.5-2.1-11.7-1.4M1123 783.7l-4.2-10.2-.8-11-1.6-10.9-4.8-10.1M1084.7 778.2l-4.7-9.3-5.3-8.9-6.1-8.4M1070 734.5l-1.4 17.1M1070 734.5l10-5.7 11.3-2.1M1111.6 741.5l-7.2-4.2-6-6.1-7.1-4.5M1253.3 861.5l-9.2 5.4-10.9 .5-9 5.9-9.8 3.7-10 3.1-9.6 4.5-10.9 .1M1253.3 861.5l-10.9-4-11.7-1-11.5-2.1-11.3-2.3-10.7-4.7-10.6-4.8-11-3.8M1183.9 884.7l-1.2-11.6-2.6-11.4-3.7-11.2-1.3-11.6M1230 774.1l-5 9.6-9 6.3-5.3 9.3-7.9 7.2-7.4 7.6-4.6 9.9-9.5 5.8-5.7 9M1164.3 836.2l10.8 2.7M1084.7 778.2l-1.5 8.3 1.5 8.7-3.4 8M1108.8 809.4l-1.5 1.1M1107.3 810.5l-9.2-.1-8.5-3.2-8.2-3.9M869.8 1038.8l9.3 3.5 9.7 2.1 10.1 .3 9.3 3.5M869.8 1038.8l2.4-11 3.5-10.7 5.1-10.3 1.7-11.2M916.3 1014.9l-.4 8.1 2.3 7.9-.7 8.1M917.5 1039l-4.6 6.2M912.9 1045.2l-4.7 3M965.5 998.4l-9.1 5.3-10.1 2.7-9.3 4.9-10.7 .7-10 2.9M966.3 998.7l2.7 9.9-1.2 10.3M952.5 1044.8l-11.4-3.5-12.1 .6-11.5-2.9M937.2 1079.4l-7-7.9-5.4-9-4.5-9.6-7.4-7.7M847.9 1006.5l-1 9.5-.2 9.5 1.7 9.6-2.9 9.3M816.6 1004.7l6.1 10.2 3 11.5 4 11.1 5.7 10.4M845.5 1044.4l-10.1 3.5M859.9 1045l9.9-6.2M859.9 1045l-14.4-.6M833.9 1049.4l1.5-1.5M833.9 1049.4l-9.3 .9-9-3.7-9.3 .9-9.2-.2M796.6 1016.9l-1.6 9-4.6 8.3-.7 9.3M797.1 1047.3l-7.4-3.8M759 468.3l3.6-11.2 8-9.1 3.9-11M774.5 437l-7.2-4.9-7.2-4.9-7.1-4.9M740.4 428.3l-5 8.1-5.8 7.7-2.6 9.4M710.2 325.5l-6 8.7-10 4.5-8.8 5.9-5.4 9.4M710.2 325.5l5.8 8.3 3.2 9.7 5.8 8.3 2.2 10.2 6.6 7.9M733.8 369.9l-9.7-2.5-10-.1-10 1-9.7-2.5-9.9-.8M680.7 294.9l-11.6 14.3M680.7 294.9l9.1 4.9 8.4 5.7 5.8 8.6 6.5 7.8M710.5 321.9l-.3 3.6M663.6 273.3l2.2 .8M680.7 294.9l-.7-5.6M680 289.3l-6.5-8.1-7.7-7.1M728 313.4l-8.1 5.6-9.4 2.9M896 137.4l-7.8-13.8M888.2 123.6l-9.4-3.7M878.8 119.9l-6.6 8.8-7.4 8.2-7.5 8.2-4.5 10.3-6.8 8.7M878.8 119.9l-6.2-7.6M872.6 112.3l-10.8-1.7-11.1 2.3-10.8-2.4M846 164.1l-2.4-10.6 .7-11 .7-10.9-.1-10.8-5-10.3M888.2 123.6l7.4-8 8.4-6.9 8.8-6.2M929.9 140.7l4.6-17.6M934.5 123.1l4.9-3M939.4 120.1l9.8 1.5 9.5 2.7 9.9 1M968.6 125.3l4.7 8.6M912.8 102.5l9.1 5 4.6 9.6 8 6M1170.8 187.8l-4.4-10.9-.3-11.9-3.7-11.1M1170.8 187.8l11 8.1M1181.8 195.9l10.7-5.2 11.8-2.1 11.5-3.1 10.1-6.6M1225.9 178.9l-9.3-5.3-7.2-8.4-8.9-5.7-10.6-3.3-9.7-4.5-7.2-8.5M1173 143.2l-10.6 10.7M1141.3 187.1l9.8 2.7 9.8-.4 9.9-1.6M1172 128.7l1 14.5M1135.5 114.9l-3.8 1.2M1131.7 116.1l1.7 9.7-2.3 9.5 1.2 9.8-3.4 9.4M1181.8 195.9l-6.2 9.7-4.3 10.7M1180.6 232.1l-9.3-15.8M1180.6 232.1l-.8 12.1M1171.3 216.3l-8.6 2.8-8.7-.5-8.8-.3M1078.9 85.1l-4.7 8.8-6.2 7.7-8.2 6.3-4.1 9.2M1078.9 85.1l2.7 9.5 6.3 7.5 3.6 9 5.2 8.1M1055.7 117.1l8.6 7.6 7.8 8.6 8.3 7.9M1096.7 119.2l-3.9 7.6-3.2 7.9-4.5 7.3M1038.8 120.2l4.3-3.2M1043.1 117l12.6 .1M1131.7 116.1l-8-2.1M1123.7 114l-9.3 .2-9.3 0-8.4 5M257.8 455.7l-8.9-4-6.8-6.8-8.1-5.2-7-6.6M257.8 455.7l5.5-10 1.8-11.5 5.4-10 3.7-10.7 5.5-10.1 3.5-10.7 4.3-10.5M227 433.1l3.8-10.1-.7-11.1 3-10.2 4-10.1 1.4-10.7-.2-10.9 3.9-10.1 2-10.5M287.5 382.2l-7.5-8.1-8.4-6.9-10.8-3.8-7.4-8.2-9.2-5.8M260.1 459.5l-2.3-3.8M219.3 431.4l7.7 1.7M329.3 370.6l-10.8 1.6-10.8 1.5-10.8 1.9-9.4 6.6M265.4 460.6l11.5-.7 11.4-1.3 11.2-3.6 11.7 1.3 11.5-.3 11.3-2.9M342.7 437l-8.7 16.1M238.5 336.8l5.7 12.6M392.2 496l-9.1-1.2-8.3-4.7-9.5 .1-8.8-2.5M419.7 549.1l-11.1 .2-10.8 2.2-10.9 1.6-11.2 0-10.7 2.4-10.9 2.1-10.5 3.9M356.5 487.7l-3.6 10.2-5.1 9.3-6.1 8.9-5.8 9-5.7 9.1-3.2 10.4M327 544.6l6.7 12.1M343.6 561.5l-9.9-4.8M414.6 425.1l-5.3 9.4-.9 10.9-3.2 10.1-2.6 10.3-2.6 10.4-1.7 10.6-6.1 9.2M334 453.1l6.9 7.8 2.9 10.5 6.8 7.8 5.9 8.5M377.6 641.2l-6.5-9-2-10.9-4.7-9.8-6.3-9.1-1.8-11-4.4-9.8-4.7-9.8-3.6-10.3M313.4 540.5l13.6 4.1M305 600.6l7.1-7.8 6-8.7 5.4-9 4.6-9.5 5.6-8.9M287.4 651.2l3 9.9 3.6 9.7 2.6 10.1 4.1 9.5 4.5 9.4M227.5 645.3l3.9 11.3 6.6 9.7 5.5 10.3 6.7 9.6 7.9 8.9 3.6 11.4 7.8 9.1 5.5 10.2 5.7 10.3M423.2 297.7l13.1 5.5M436.3 303.2l10.1 .1 9.4-4.4 10-.4M548.8 1485l9.8-4.2 10.2-2.9 11-.3 9.7-4.6 10-3.5 9.9-3.8 10.6-1.7M580.3 1544.2l7.3-9.1 8.2-8.4 7.3-9 6.6-9.7 7.7-8.7 6.9-9.4 5.7-10.3M620 1464l10 15.6M314 1351l-11.3 1.5-11.2-2-11.2-1M324.1 1315.7l-10.4-3.9-11.3-1-10.1-4.9M292.3 1305.9l-4.3 10.6-4.3 10.5-3.5 10.8 .1 11.7M275.9 1391.2l-3.2-11 .4-11.7-3.8-10.9M280.3 1349.5l-11 8.1M223.6 1361.9l8.8-2.9 9.1-1.5 9.6 .1 8.5-4M269.3 1357.6l-9.7-4M204.6 1267.8l-8.4 2.1-6.8 5.3-7.6 3.8M204.6 1267.8l9.4 6.1 11.1 2.3 9.8 5.2 10.3 4.2M245.2 1285.6l-6.1 17.2M239.1 1302.8l-8.6 5.5-8 6.4-8.6 5.5-7.9 6.7-9.4 4.2M181.8 1279l-3 8.5-6.3 6.6-4.1 8M196.6 1331.1l-5.8-8-8-5.7-8.3-5.5-6.2-7.6M168.3 1304.3l.1-2.2M157.6 1243.9l7 8.1 4.6 9.8 6.4 8.5 6.2 8.7M204.6 1208.2l-2.6 11.9 0 11.9-.1 11.9 1.1 12 1.6 11.9M198.4 1348l-1.8-16.9M259.6 1353.6l-2.7-10.7-4.7-9.9-3.3-10.5-4.1-10.2-5.7-9.5M117.9 1261.2l7.8 7.7 8.3 6.9 8.9 6.2 9.3 5.7 8.4 6.9 7.8 7.5M135 1327.2l9.7-3.7 7.3-7.3 8.1-6 8.2-5.9M204.9 960l10.2 3.9 10.6 2 10.6 1.1 11-1 10.7 .8 10.4 3M277.7 939.2l1 12.8M278.7 952l-4 9.6-6.3 8.2M278.7 952l11.3 .3 11 1.5 10.9 2.7 10.4 4.8 11.1 .9M276.5 1131.6l5.8 8.3 5.4 8.5 4.2 9.3 5.5 8.4 4.7 9M268.4 1191.2l14.9 3.3M283.3 1194.5l6.1-6.6 4.9-7.8 7.8-5M360.1 1230.4l-4.6-3M360.1 1230.4l6.4-9.1 4.4-10.1 3.5-10.7 5-9.8 8.5-8 6.6-8.8 6.2-9.2 5.6-9.5 2.8-11.1M355.5 1227.4l-1.1-11.6-3-11-7-9.6-5-10.3-1.4-11.5M302.1 1175.1l10.1-2.1 9-5.2M298.6 1270.5l-9.8 5.5-10.6 3.8M298.6 1270.5l2.7-11.4 6.9-9.5 2.6-11.5 6.4-9.8M317.2 1228.3l-10.1-6.2-10.9-5.3-8.1-9.2M288.1 1207.6l-4.1 9.4-3.2 9.8-3.4 9.7-5.9 8.7-4.8 9.1-3.7 9.6M278.2 1279.8l-14.1-4.7M263 1263.9l1.1 11.2M348.8 1277.8l-10-1.4-9.8-2.9-10.2-.6-10.3 .4-9.9-2.8M348.8 1277.8l4 7.5 1.5 8-1.1 8.5M292.3 1305.9l-5.4-8.3-5.5-8.3-3.2-9.5M366.4 1238.8l-6.3-8.4M366.4 1238.8l-5 9.5-6.1 8.9-3.9 10-2.6 10.6M355.5 1227.4l-9.6-1.8-9.6 .8-9.5 2.7-9.6-.8M283.3 1194.5l4.8 13.1M224.4 1210.4l5 10 5.8 9.3 8.9 7.2 4.2 10.4 6.5 8.9 8.2 7.7M245.2 1285.6l8.6-6.8 10.3-3.7M305.8 1608l4.5-8.6 6.5-7.2M356.2 1619.2l-7-16.9M316.8 1592.2l10.1 5.8 10.9 2.9 11.4 1.4M398 1554.2l-10.2-1.6-10.2-1.6-10.1-1.7M349.2 1602.3l6-9.8 1.6-11.3 5.1-10.1 3.7-10.6 1.9-11.2M372.6 1491.2l-3.2 9.9-1.7 10.4-2.7 10-3.8 9.6-6.3 8.8M354.9 1539.9l12.6 9.4M554.7 1113.9l6.1 10.4 5.6 10.6 2.9 11.7 5.5 10.6 1 12.4M587.3 1111l-2.3 11.7-2.5 11.7-1.6 11.8-1.9 11.7-2.5 11.7M589 1173.6l-12.5-4M575.8 1169.6l-8.8 2.7-9 1.8-8.9 2.3M366.4 1238.8l10.2 .9 10.2 1.6M386.8 1241.3l6.5 5.7 6.6 5.7 7.3 4.7M386.8 1241.3l8.5-6 4.8-9.2 4.8-9.1 5.5-8.5 7.4-7 8.2-6.2M868.4 1135l-10.5-4.6-10.1-5.1-8.7-7.9-10.8-4M843 1184.6l-9.9 3M828.3 1113.4l1.7 10.6 2.3 10.5-2.9 10.8 2.3 10.5 2 10.5-1.2 10.7 .6 10.6M842.3 1240.7l-4.2-10.2 .4-11-2.4-10.5 .8-11.1-3.9-10.2M879.9 1124l-2.2-11.5-6.8-9.8-3.3-11.2M879.9 1124l9.1-6.4 10.9-3.4 8.4-7.6 9.5-5.6M917.8 1101l-6.5-8.3-4.9-9.7-8.7-6.6M897.7 1076.4l-10.3 4-10.9-.7M876.5 1079.7l-8.9 11.8M933 1104.2l-15.2-3.2M878 1129.6l1.9-5.6M908.2 1048.2l-2.6 9.8-1.8 10-6.1 8.4M859.9 1045l3.8 8.8 5.1 8.2 5.1 8.3 2.6 9.4M833.9 1049.4l-1.1 16M867.6 1091.5l-8.5-.2M832.8 1065.4l7 6 5.6 7.5 7.7 5.4 6 7M859.1 1091.3l-8 5.1-7 6.7-7.4 5.9-8.9 3.9M1177.7 1121.8l-2.5 10.8M1172 1105.3l5.7 16.5M1170.7 1137.6l4.5-5M879.9 1542.9l-8-8-8-8.1-4.6-10.6-6.2-9.5-6.9-8.8M879.9 1542.9l10.8-4.7 10.7-4.9 8.1-9.4 9.9-6.2 10.2-5.7 10.5-5.4M932.1 1496.7l-10.7-2.1-11.1 .6-10.9-.5-11 .4-10.6-4-11 .8-10.7-2.4M932.1 1496.7l8 9.9M856.1 1489.5l-9.9 8.4M969.3 1519.7l-10.3-3.1-10-3.7-8.9-6.3M874.9 1572.5l-.2-10.2 2.7-9.7 2.5-9.7M916.6 1444.4l2.6 10.6 3.4 10.4 1.2 11 2.7 10.6 5.6 9.7M879.1 1429.4l-6 9.2-1.7 10.8-3.1 10.3-6.4 9.1-1.9 10.7-3.9 10M989.7 1517.8l8.3-8.8M792.2 1467.3l-4.8 8.9-3.3 9.8-5.5 8.5-6.5 7.9-5.6 8.5M792.2 1467.3l10.1 5.2 10.4 4.6 8.1 8.1 10.2 5.1 8.1 8.1M839.1 1498.4l-2.7 10-7.7 7.5-3.1 9.8-7 7.7-5.2 8.8-2.5 10.1M766.5 1510.9l4.8 10.4 5.2 10.3 3.1 11.2 6.3 9.7M785.9 1552.5l8.3-1.4 8.4 1.3 8.3-.1M841.7 1582l-8.8-6.3-6.2-9-8.5-6.6-7.3-7.8M846.2 1497.9l-7.1 .5M762 1577.9l9.2-7.3 8.3-8.2 6.4-9.9M798.8 1264.8l-5.8 8.1-4.1 9.4-6 8-8 6.5M798.8 1264.8l-5.8-9.9-5.8-9.9-5.9-9.9-5.9-9.9-4.8-10.4-3.8-11M766.8 1203.8l-2.8 11.2-5.9 9.8-3 11.1-4.3 10.5-5.7 10-5.6 10-6.3 9.6-2.3 11.4M774.9 1296.8l-10.1 2.6-10.4 1-10.4 1.2M744 1301.6l-8.2-5.6-4.9-8.6M822.9 1265.1l-8-.8-8-1.3-8.1 1.8M821.4 1339.3l7.5-8.1 10.4-3.8 8.9-6 8.5-6.5M821.4 1339.3l-6.5-8.5-8.9-5.7-6.1-9-7.2-7.6-8.2-6.6-9.6-5.1M765.9 1194.9l.9 8.9M765.9 1194.9l11.3 .9 10.7-3 10.6-3.5 10.9-2.1 11.1-.2M820.5 1187l12.5 .7M679.5 1244.8l3.4 8.6-1.6 9.6 3.5 8.6M752.5 1194.3l12.3-.2M684.8 1271.6l9.2 3.3 8.9 3.8 10 1.2 9.3 2.8 8.7 4.7M853.1 1409.7l-6.3-8.7-6-8.8-7.4-7.8-7.1-8.1-4.8-9.7-6.3-8.6M853.1 1409.7l-9.3 6.2-9.1 6.2-10 5.1-8.8 6.9-10.7 3.9-9.8 5.1-8 8.2M777 1443.7l10.4 7.6M777 1443.7l1.9-11.6 1.2-11.6-1.7-11.6-1.7-11.7 2-11.6-.1-11.6M778.6 1374l9.8-2.6 7.9-6.8 9.4-3.4 9.5-3.2M821.4 1339.3l-1.1 10-5.1 8.7M868.3 1412.8l-15.2-3.1M792.2 1467.3l-4.8-16M476.5 1390l11 4.6 11.8 2.2 11.2 3.9 11.7 2.5 11.4 3.3M507.6 1325.1l5.5 9 7.8 7.5 6 8.6 4.4 9.7 6.8 8.1 6.9 8 3.8 10.2M548.8 1386.2l-5.6 6.4-5.6 6.3-4 7.6M471.9 1440.3l11 .7 10.5 4 10.9 2 10.8 2.1 10.8 2.4 11.3-1.4M533.6 1406.5l1.1 10.9 .4 10.9 3.2 10.7-1.1 11.1M544.8 1481.4l-3.6-11.6 .8-12.2M537.2 1450.1l4.8 7.5M620 1328.9l-8.4-4.3-8.3-4.5-9.7-.5-8.8-3.2M620 1328.9l9.9-3.4 7.4-7.8 9.5-4 9.9-3.4 8.2-6.3M670 1288.3l-5.1 15.7M670 1288.3l-11.3-2.7-12-.3-11-4.2-11.4-2.3-11.7-1.6-11.5-1.9-11-4.1-10.8-5.2M584.8 1316.4l-5.4-8.5-6.8-7.4-5.6-8.3-5.5-8.4M579.3 1266l-7.4 6.9-9.1 4.4M561.5 1283.8l1.3-6.5M608.9 1227.5l-6.2 7.4-4.5 8.8-6.5 7.3-4.6 8.7-7.8 6.3M684.8 1271.6l-5.8 9.7-9 7M507.5 1321.6l9.4-5.9 10.2-4.5 8.3-7.3 8.2-7.4 8.3-7.3 9.6-5.4M573.1 1379.6l-8.4 1-8.2 2.1-7.7 3.5M573.1 1379.6l-.1-11 4-10.1 3.5-10.3-.4-10.9 .4-10.8 4.3-10.1M524 1230.2l6.8 7.6 4.8 9.2 7.8 6.8 6.6 7.6 5.6 8.6 7.2 7.3M744 1301.6l-3.8 10-2.5 10.3 .2 10.8M664.9 1304l4 10.8 4.7 10.6 4 10.8 5.6 10.1M683.2 1346.3l10.9-2.8 10.9-3 11.3-1.3 10.6-4 11-2.5M778.6 1374l-9.8-3.7-10.2-2.6-8.9-5.7M749.7 1362l-2.3-10.5-2.8-10.2-6.7-8.6M1177.8 1602.7l-5.2 10.1-8.8 7.6-5.1 10.2-5 10.2-6.9 8.9-6.8 9-6.3 9.3-5.9 9.6-7.2 8.7-6.8 9-7.4 8.6-5 10.2M1010 1611l8.6 8.2 9 7.7 7.6 9.2 7.8 8.9 8.4 8.3 7.2 9.6 10.2 6.5 8.5 8.2 9.4 7.5 7.2 9.5M1101.4 1714.1l-4.9-9.3-2.6-10.2M1166.9 583.6l4.2 10.5 5.1 10.1 5.6 10 2.6 11.1M1166.9 583.6l10.8 3.8 11.3 2.4 10.3 5.3 10.9 3.5 11.6 1.3 10.8 3.9 10.4 5M1243 608.8l-9.4 4.2-10.2 1-9.5 3.7-10.5 .2-9.1 5-9.9 2.4M1166 583l7.1-9.3 4.6-11 8.7-8.2M1081.3 803.2l-9.6-3.1-9.9 0-9.9 .3-9.8-.9M1044.6 833.5l-1.8-10.1-3.3-9.8M1044.6 833.5l11.5-2.3 11.1-3.4 9.9-6.7M1081.4 803.3l-4.3 17.8M1042.1 799.5l-2.6 14.1M1184.4 625.3l-4.8 8.3-3.4 9-3.6 8.7M1193.1 659.1l-9.4-6.1-11.1-1.7M1154.8 761.6l-.9-3.1M1111.6 741.5l19 1.3M1153.9 758.5l-8.4-4.3-7.4-5.7-7.5-5.7M1191.3 1001.7l-4.9-3.2M1189.6 969.4l-2.5 9.5-2.2 9.6 1.5 10M1186.5 927.4l-2.9 10.1 .4 10.5-2.2 10.1M1189.6 969.4l-7.8-11.3M1150 1023.6l8-8.3 5.9-10.2 8.7-7.7M1172.6 997.4l13.8 1.1M1160.7 836.4l-1 2.6M1159.7 839l-1.5 10.7 2.2 10.6-2.1 10.8 1.8 10.6M1183.9 884.7l-7.5 7.7M1176.4 892.4l-7.9-5.7-8.4-5M1159.7 839l-7.7 7.5-6.5 8.8-7.3 7.9-7.5 7.7M1130 876.1l.7-5.2M1130 876.1l10.3 8M1140.3 884.1l9.8-1.6 10-.8M1135.1 996.9l-9.9-.3-9.1-3.8M1135.1 996.9l7.5-5 8.1-4 7.1-5.7M1157.8 982.2l-2.2-9.9M1155.6 972.3l-9-7.4-7.5-9M1133.4 956.2l5.7-.3M1133.4 956.2l-6.9 8.2-8.4 7-6.6 8.5M1111.5 979.9l4.6 12.9M1150 1023.6l-3.8-9.6-6.2-8.2-4.9-8.9M1112.8 1002.3l3.3-9.5M1172.6 997.4l-7.3-7.7-7.5-7.5M1181.8 958.1l-9.6 3.1-7.8 6.4-8.8 4.7M968.7 940.4l-1.7 1.9M968.7 940.4l9.7-1 9.2-2.3 9.1-2.9 8.3-5.3M1000.9 985l4.6-.5M1005 928.9l8.6 8.4M1005.5 984.5l6.6-7.7M1013.6 937.3l.2 9.9-1.8 9.8 .8 9.9-.7 9.9M1061.1 1029.2l.3-11.1 5.1-10M1061.1 1029.2l-7.7 8.9-9.6 6.9M1066.5 1008.1l-9.9-2.2-9.8 2.8-9.9-2.3-9.8 2.1-9.8 .2M1043.8 1045l-8.4-3.8-9.5-1.4-7.8-5.3M1018.1 1034.5l1.9-8.7-2.1-8.5-.6-8.6M1094.6 1015.9l-9.4-2.3-8.6-4.7-9.5-1.6M1090.5 1049.7l-8.4-8.9-9-7.9-12-3.7M1050.3 1069.5l-2.8-8-2.3-8.1-1.4-8.4M1014.2 1037.4l3.9-2.9M1005.5 984.5l2.1 9 5.3 7.3 4.4 7.9M934.5 906.4l2.7-2.7M930.6 907.9l-7.6-5.1-7.8-4.7-7.2-6-9.6-1.5M901.7 878l10.9-3.6 8.6-7.6M937.2 903.7l-5.3-8.7-5.3-8.7-2.1-10-3.3-9.5M901.8 845.2l8.7 2.2 7.8 4.9 9 1.5M921.2 866.8l6.1-13M668 1155.3l2.7-9.3 3.9-9 3-9.2-.7-10.2 3-9.2M666.9 1103.7l13 4.7M709.3 1132.4l-5.2-11.9M709.3 1132.4l18.1-3.2M704.1 1120.5l3.5-9.2 4.3-8.7 8.3-6M727.4 1129.2l1.6-9.6 5-8.4 3.5-8.9M737.5 1102.3l-17.3-5.7M705.1 1140.8l4.2-8.4M679.9 1108.4l3.5-1.2M683.4 1107.2l7.2 3.9 5.6 6.4 7.9 3M762.2 1155.4l-9.9-5-9-6.1-9.4-5.6-6.5-9.5M762.2 1155.4l1.2 2.6M763.4 1158l-.1 9.1 .1 9 1.4 9 0 9M762.2 1155.4l-.6-10-2.5-10 1-10.1 .7-10-2.4-10 1.2-10.1M759.6 1095.2l-11 3.6-11.1 3.5M677.1 392.1l.8-9.5 2.6-9 4-8.6M727 453.5l-10.4-.5-10.1-2.3M704.7 490.5l-5.1-17.8M740.4 428.3l-10.5-1.7-10.6-1.8-11 .5-10.4-2.7-10.2-3.8M706.5 450.7l-6.2-7.1-5.1-7.7-2.7-9.2-4.8-7.9M742.3 376.1l3.8 11.3-.1 12.1 5.5 11 1.5 11.8M740.7 375.8l-8.6 7.5-8.4 7.8-10.6 5-9.6 6.2-7 9.6-9.8 6M652.1 461.1l9.3 3.1 9.9 .9 9.4 2.6 8.9 4.7 10 .3M1085.9 450.7l3.3 11.5 4.4 11 5.5 10.6M1085.9 450.7l10-4.9 11-.3M1106.9 445.5l7 8.4 9.6 5.2M1123.5 459.1l-4.9 15.6M1099.1 483.8l10.7-2.5 8.8-6.6M1125.5 507.4l2.9-11.2 1.2-11.5M1125.5 507.4l-6.8-5.1-7.5-3.8-7.7-3.4M1103.5 495.1l-4.8-10.3M1129.6 484.7l-11-10M931.2 427.3l-3.2-8.6 1.6-9-.8-8.9M928.8 400.8l5.5-10.5M952.3 381.7l3.9 10.2 5.5 9.4 2.6 10.7 6.2 9.1M970.5 421.1l-1.7 3.6M1209.6 400.3l-8.8-7-9.9-5.4-10.6-3.9-9.4-6.1M1177.1 428.2l-7.3-7.2-8.4-5.3-8.2-5.8-10-2.8M1143.2 407.1l5.6-8.5 8.7-5.7 5.6-8.5 7.8-6.5M452 406.2l.3-10.8 .5-10.7-.3-10.8-.2-10.8 1.2-10.8-2-10.7-.7-10.8M450.8 330.8l9.1 5.3 9.5 4.4 9.6 4.2M436.3 303.2l4.9 9.2 4.7 9.3 4.9 9.1M680 289.3l7.8-6.3 9.9-3 7.6-6.9 9-4.5M665.8 274.1l7.8-9 3.5-11.7 6.8-9.7M774.5 437l2.4-.5M748.3 373l7.5 6.6 9.1 4.6 7.9 6 6.4 8.1 8.8 4.9M776.9 436.5l4.4-10.8 2-11.7 4.7-10.8M851.3 432.5l.6-8.7 2.1-8.4 2.9-8.3M815.3 418.1l8.8-6.7 6-9.1 6.7-8.5M856.9 407.1l-8.9-7.8-10.5-5.6M799.4 396.1l6.5 6.5 4.2 8.1 5.2 7.4M826.7 180.5l-3.7-11.3-1.4-12.1-5.9-10.6-2.6-11.7-4.3-11.1M839.9 110.5l-9.1-7.5M808.8 123.7l7.9-6.3 8.6-5.6 5.5-8.8M954.9 87l5.4 7.4 8.5 4.3 4.7 7.9M973.5 106.6l18-2.8M991.5 103.8l5.4-8.1 6.8-7.4 2.5-9.9 5.2-8.3M939.4 120.1l4.5-8 3.3-8.5 6.2-7.2 1.5-9.4M968.6 125.3l4.2-8.9 .7-9.8M1004.6 135.3l-4.9-10.2-4.2-10.6-4-10.7M1022.8 120.1l-3-9.8-1.7-10.2-2.2-10-1-10.3-3.5-9.7M998.2 399.6l-10 6.2-9.9 6.3-7.8 9M1175.1 306.4l-5.9 6.3-4.4 7.4-6 6.2M1175.1 306.4l8.5 7.4 7.8 8.3 8.3 7.7 8 7.9 11.3 4M1158.8 326.3l3.9 8.6 .1 9.4 1.8 9M1219 341.7l-10.1 4.3-10.8 1.2-9.9 4.8-11.2 0-10.3 3M1166.7 355l-2.1-1.7M1133.4 360.7l11-.1 10.2-3.2 10-4.1M1170.9 377.9l-.3-11.8-3.9-11.1M1173.1 253.7l-8.9-.5-8.6-1.4-8.3-3.4M1173.1 253.7l.8 11.2 1.2 11.2 2.6 10.9M1177.3 287.5l-11.1-2.7-11.4 .2-11.1-2.1M1179.8 244.2l-6.7 9.5M1175.1 306.4l2.2-18.9M637.8 1482.7l10.1-3.1 9.3-4.7 10.4-2.3 8.8-6 9.2-5M637.8 1482.7l7.2 9.4 5.9 10.1 5.2 10.5 5 10.5 3.5 11.4M664.6 1534.6l8.9-3.8 9.2-2.9 9.6-1.3 9.4-2.1M703.9 1473.4l-8.4-7-9.9-4.8M703.9 1473.4l-.7 10.4 3.6 10.1 1.8 10.2-1.1 10.4M701.7 1524.5l5.8-10M630 1566.3l7.2-9.5 9.7-6.8 9.4-7.1 8.3-8.3M630 1479.6l7.8 3.1M714.7 1549.9l-3.9-8.7-5.2-8-3.9-8.7M744.2 1442.1l-9 5-7.1 7.5-9 5.1-8.6 5.6-6.6 8.1M744.2 1442.1l10.9 1 10.9 2.3 11-1.7M766.5 1510.9l-11.8 .7-11.9-1.6-11.6 4.4-12-1.5-11.7 1.6M683.2 1346.3l-1.5 4.5M749.7 1362l-8 8.9-9.4 7.5-9 8-7.6 9.3M681.7 1350.8l6 9.5 5.3 10.1 8.2 8 7 8.8 7.5 8.5M744.2 1442.1l-6.5-8.5-4.4-9.9-7.8-7.6-7.1-8.1-3.2-10.6M715.2 1397.4l.5-1.7M299.8 1051.8l-7.4-9.5-8.8-8.2-9.9-7-8.9-8.1-7.3-9.5M316.9 1006.5l-10.8-4.8-10.2-6-8.7-8-10.5-5.4-8.3-8.7M257.5 1009.5l.8-9.5 5.7-8.1 3.4-8.8 1-9.5M251.3 1013l6.2-3.5M268.4 969.8l0 3.8M329.4 1482.4l-4 8.3-2.3 8.9-4.6 8M354.9 1539.9l-2.9-.5M352 1539.4l-7.2-9.2-8.4-7.9-9.3-7-8.6-7.7M278.7 1459.1l4.3 10.4 6.4 9.3 3.6 10.9 7.8 8.5 5.4 9.9M318.5 1507.6l-12.3 .5M268.6 1507.7l9.2-.7 9 3.3 9.2-1.4 9.1-.1M827.5 1112.8l-4.2-7.2-3.2-7.6-2.6-7.9M827.5 1112.8l-6 5.9-8.1 2.2-7.3 3.7M797.3 1124.5l8.8 .1M797.3 1124.5l-4.2-8.1-6-6.9-5.6-7.2-4.7-7.7M817.5 1090.1l-17.4-3.7M800.1 1086.4l-7.9 2.6-8 1.9-7.4 3.7M832.8 1065.4l-5.9 7.8-3.9 8.9-5.5 8M820.5 1187l-1.1-10.7-4.7-9.9-2.6-10.3 .3-11-3.4-10.2-2.9-10.3M763.4 1158l9.2-7.7 6.5-10.4 8.5-8.3 9.7-7.1M759.6 1095.2l2.8-3.5M762.4 1091.7l14.4 2.9M797.1 1047.3l2.5 9.6-1.4 10 .3 9.8 1.6 9.7M603.2 1397.5l2.3 11.5 0 11.8M603.2 1397.5l9.8-4 8.8-5.5 6.4-8.8 8.9-5.4M621.4 1438.3l9.9-.6 9-4.3 9.5-2.4 9.3-3.2 10.1 .6M621.4 1438.3l-8.6-8.2-7.3-9.3M637.1 1373.8l12.2 2.2M649.3 1376l8.1 8.3 5.1 10.3 3.6 11.2 7.4 8.8M669.2 1428.4l4.3-13.8M573.1 1379.6l10.1 5.8 10.1 5.9 9.9 6.2M542 1457.6l8.7-5.9 8-7 10.7-2.5 8.6-6.1 10.2-3.3 8.9-5.5 8.4-6.5M620 1328.9l5.1 8.3 2.1 9.5 4.6 8.6 1.9 9.5 3.4 9M620 1464l1-8.6 1.9-8.4-1.5-8.7M685.6 1461.6l-6.1-7.3-4-8.4-4.8-8-1.5-9.5M681.7 1350.8l-9.4 4.6-7.5 7.1-7.4 7.2-8.1 6.3M715.2 1397.4l-11.3 2.1-10.4 4.4-10 5.5-10 5.2M1173.9 1523l-2.1 11 .1 11.2-.9 11.1-2.2 10.9-2.9 10.9 1.4 11.3M1173.9 1523l-10.3 1.6-10 4.2-10.8-1.9-10 3.6-10.3 2.3-10.1 2.5-10.8-1.1M1167.3 1589.4l-10.9-3.6-11.1-2.5-11.3-1.7-11.2-1.7-11.3-1.5-11.5 .1M1101.6 1534.2l-1 9.8-.4 9.8-2.2 9.7-.8 9.8M1097.2 1573.3l2.8 5.2M1196.5 1503.3l-6.3 7.9-8.1 6-8.2 5.8M1177.8 1602.7l-10.5-13.3M1085 1508.3l7.4 7.4 6.3 8.2 2.9 10.3M1093.9 1694.6l0-11.7-.5-11.6 2.1-11.6-.1-11.6-1.1-11.7-.5-11.7 4.9-11.4-.6-11.6 .9-11.6 1-11.6M1016.5 1582.5l11.5-1.7 11.3-3.4 11.6-.7 11.7 .5 11.8 1 11.3-3.5 11.5-1.4M1118.9 676.6l-5.6-15.8M1118.9 676.6l9.4-2.8 9.8-.6 9.4-3.1 10.1 1.8M1113.3 660.8l7.7-7.7 8.4-6.6 10.2-3.8 9.4-5M1157.6 671.9l2.5-10.8 6.5-8.9M1149 637.7l8.8 7.3 8.8 7.2M1073.8 658.2l5.6 8.7 5.3 8.8 3.4 9.7 4 9.4 1.3 10.6 5.5 8.7M1073.8 658.2l8.1-2.2 7.8-2.9 7.3-4M1112.1 703.3l-13.2 10.8M1112.1 703.3l.8-9.3 5.4-8.1 .6-9.3M1097 649.1l7.1 7.3 9.2 4.4M1109 557.1l-6.9-6.1-5.9-7.1-6.9-6.1-6.3-6.6M1109 557.1l6.7-8.3 5.7-9 4.8-9.7 8.1-7.3M1133.6 522.2l-9.9-.3-9.9 .1-9.8-3.1-10 2.1M1094 521l-11.7 6.9M1083 531.2l-.7-3.3M1159.2 486l-4.2-5.2M1125.5 507.4l8.1 14.8M1129.6 484.7l8.7 .4 8-4.2 8.7-.1M1103.5 495.1l-1 9.4-2.4 8.9-6.1 7.6M1098.7 484.8l-10.4 4.4-11 2.5-10.3 4.4-10.8 3M1054.4 506.5l10.2 5.9 8.5 8.3 9.2 7.2M1036.9 518.8l-1.7 19.1M1061.5 567.7l-5.2-8.6-8.7-5.7-7.6-6.5-4.8-9M1061.5 567.7l3.5-10.2 8.2-7.5 4.7-9.5 5.1-9.3M1082.3 449.3l1.5-9.4-1.1-9.5-.6-9.5 1.4-9.4M1068.6 751.6l-6.1 9.6-6.3 9.4-8.1 8.2-6.2 9.5M1042.1 799.5l-1.5-5.9M1041.9 788.3l-1.3 5.3M1179.6 729.1l3.1-9.1 4.2-8.8 2.1-9.5M1179.6 729.1l-11.4 .5M1168.2 729.6l-13.4-10.2M1189 701.7l-3.4-3.7M1185.6 698l-8-4.2-8.4-2.5-9-.6M1154.8 719.4l-5.7-12.5M1149.1 706.9l6.4-7.5 4.7-8.7M1223.7 764.3l-7.6-8.6-10.4-5-10-5.5-6.5-10-9.6-6.1M1153.9 758.5l5.7-9.2 5.6-9.2 3-10.5M1130.6 742.8l9.2-6.6 7.7-8.2 7.3-8.6M1193.1 659.1l-2.1 9.7-2.2 9.6 .5 10.2-3.7 9.4M1172.6 651.3l-6 .9M1157.6 671.9l2.6 18.8M1112.1 703.3l9.5-1 9.3 .3 9.1 1.8 9.1 2.5M1091.3 726.7l7.6-12.6M1156.9 932.2l10.3-4.6 9.3-6.3M1156.9 932.2l-8.5-3.4-6.5-7-9.2-2.3-7.3-5.5M1125.4 914l8.3-5.3 6.1-7.8M1139.8 900.9l10.3 2.9 8.5 6.3 10 3.6 7.8 7.4M1186.5 927.4l-10-6.1M1139.1 955.9l6.5-7.5 4.5-9 6.8-7.2M1112.4 933.5l-3-9.9M1112.4 933.5l7.4 7.3 6.4 8.1 7.2 7.3M1111.9 916.5l-2.5 7.1M1111.9 916.5l13.5-2.5M1111.9 916.5l-2.6-9.7-3.3-9.6-5.5-8.6M1100.5 888.6l9.8-4.1 9.9-4.2 9.8-4.2M1140.3 884.1l-.5 16.8M1176.4 892.4l2.4 9.6 1.3 9.6-3.7 9.5M1067.1 1007.3l.1-8.2M1012.1 976.8l10.5 1.1 10.5 .6 10.4-3.2M1067.2 999.1l-8.6-7.3-8.2-7.6-6.9-8.9M1111.5 979.9l-10.2-4.1-10.7-2.5M1067.2 999.1l9.4-7.1 5.2-11 8.8-7.7M1112.4 933.5l-6.4 7.7-8 6.3-4.8 9.2-6.7 7.3M1090.6 973.3l-4.1-9.3M965 910l-14.8-11.6M965 910l8.3-2.8 8.5 2.2 8.4-.8M990.2 908.6l1.1-19.1M991.3 889.5l-8.2-11.7M974.2 877.2l8.9 .6M974.2 877.2l-16.9 8.2M950.2 898.4l7.1-13M968.7 940.4l-3.2-9.9 .9-10.4-1.4-10.1M937.2 903.7l13-5.3M1004.7 927.7l-5.6-10.9-8.9-8.2M1004.7 927.7l4.7-9.1 5.1-8.7 3.7-9.5 4.8-9M1023 891.4l-2.7-3.5M1020.3 887.9l-9.7-.6-9.5 3.5-9.8-1.3M1020.3 887.9l.1-11.3 1.2-11.2-2.5-11.1M1019.1 854.3l-14-3.2M1005.1 851.1l-8.4 8-7 9.2-6.6 9.5M927.3 853.8l7.1-4M934.4 849.8l1.8 .6M936.2 850.4l6.1 8.2 3.2 10.1 6.7 7.8 5.1 8.9M644.5 523.4l11.6-.1 10.3 5.6 11.2 1.5M645 517l7.8-5.9 7.9-5.9 8-5.5 9.4-3.4M681 527.7l1.7-9.7 4.6-9 2.1-9.6M689.4 499.4l-11.3-3.1M652 461.9l6.6 8.5 7.2 8.1 7.2 8.1 5.1 9.7M703.5 493.9l-14.1 5.5M773.8 1046.5l-9.2 7.1M773.8 1046.5l-2-10.1-1.1-10.2-4.3-9.3-4.5-9.3M764.6 1053.6l-5.2-8.5-6.4-7.6-7.4-6.5-6.6-7.4M762.4 1091.7l.4-9.3-.9-8.9-4.8-8.2M789.7 1043.5l-15.9 3M757.1 1065.3l7.5-11.7M757.1 1065.3l-11.2-1.6-10.9-3M720.2 1096.6l-7.4-6.7-5-8.5M683.4 1107.2l6.4-8.4 2-10.8 6.5-8.4M1049.6 590.2l-12.5-3.7M1049.6 590.2l13-10M1061.5 567.7l2 11M1035.2 537.9l-9.5 5.9-6 9.3M1062.6 580.2l.9-1.5M1019.7 553.1l5.4 7.8 2.5 9.3 4.8 8.2 4.7 8.1M1128.1 457.8l8.5 4.6 9.2 3.2 7.5 6.3M1162.1 451.2l-4.9 10.1-3.9 10.6M1123.5 459.1l4.6-1.3M1177.3 441.1l-15.2 10.1M1155 480.8l-1.7-8.9M1020.3 413.4l-7.3 9.4-3.5 11.5-4.3 11.1-4.9 10.8-9 8.4M899.9 370.5l-4 8.3-6.7 6.8-2.8 9M863.1 363l4.9 8.2 5.9 7.7 3 9.2 2.7 9.3M928.8 400.8l-10.7-1.2-10.3-3.3-10.6-1.5-10.8-.2M856.9 407.1l6.9-4.7 8.6-.9 7.2-4.1M808.8 123.7l-5.3-.3M803.5 123.4l-5.1 8.5-7.4 6.2-6.2 7.5-8.7 5-5.8 7.7M312 1576.6l5.2-14.4M312 1576.6l-9.7-.8-9.3 3.5-9.6-.3-9.5 .5M317.2 1562.2l-8.7-8-9.5-6.7-11-4.2M273.9 1579.5l-2-10.1-3.2-9.8 1.6-10.5M270.3 1549.1l17.7-5.8M316.8 1592.2l-4.8-15.6M352 1539.4l-10.1 3.6-8.1 6.6-7.4 7.7-9.2 4.9M257.9 1608l7.5-8.3 5.8-9.2 2.7-11M305.1 1508.8l-5.7 7.9-1.8 9.9-6 7.7-3.6 9M245.8 1534.4l7.2 6.5 8.4 4.6 8.9 3.6M1141.2 617.6l-10.3 0-10.3-.2M1141.2 617.6l4.6-8.4 3.5-9 6.4-7.5 3.6-8.9M1120.6 617.4l-7.7-6.3-6.8-7.3M1154.2 579.8l-11.5-1-11.4-1.4-10.8-3.7-10.6-4.6M1154.2 579.8l5.1 4M1106.1 603.8l-.5-10-.4-9.9-.3-9.9M1109.9 569.1l-5 4.9M1097 649.1l.7-3M1149 637.7l-2.7-10.5-5.1-9.6M1097.7 646.1l5.7-7.2 6.5-6.6 5-7.7 5.7-7.2M1166 583l-6.7 .8M1097.7 646.1l-6.2-9-1.6-11-5.5-9.3M1084.4 616.8l1.9-4.9M1086.3 611.9l9.3-5.5 10.5-2.6M1142.4 527.7l1.2 10.7 4.2 10 2.9 10.3 2.7 10.3 .8 10.8M1109 557.1l.9 12M1062.6 580.2l6 7.8 4.3 9.2 7.9 6.4 5.5 8.3M1063.5 578.7l10.3-1.4 10.1-3.5 10.6 .9 10.4-.7M1077.1 450.7l-7.1-9.4-9.7-6.6-9.7-6.6-7.3-9.2M1038.4 445.1l.4-8.7 .6-8.6 .1-8.7M1043.6 934.8l9.2-2.6 9.5-.1 9.4-1.4M1043.6 934.8l4 9.4 3 9.7 1.1 10.3M1076.5 955.3l-9 .9-8.5 2.2-7.3 5.8M1076.5 955.3l-1.9-7.9-3.2-7.7 1-8.4M1013.6 937.3l10.3-3.5 10.5-2.5M1034.4 931.3l9.2 3.5M1043.5 975.3l8.2-11.1M1086.5 964l-10-8.7M1109.4 923.6l-9.2 2-9.2 2.2-9.3 1.8-9.3 1.7M1067.8 903.3l-12.1-.4-11.6-3.4M1067.8 903.3l7.6-9.3 9.3-7.6M1084.7 886.4l-7.7-5.8-7.8-5.8-9.3-2.9-8.8-3.7M1051.1 868.2l-1.8 9.8-3.9 9.1-4 9.1M1041.4 896.2l2.7 3.3M1034.4 931.3l3.7-10.4 2-11 4-10.4M1071.7 930.7l-1.4-9.1-1.6-9.1-.9-9.2M1100.5 888.6l-8.9-4.8M1091.6 883.8l-6.9 2.6M1023 891.4l18.4 4.8M1019.1 854.3l7.1-5 8.7-.9 7.8-3.3M1042.7 845.1l1.9 8 3.3 7.5 3.2 7.6M1080.1 851l11.1 12.7M1080.1 851l3.8-9.5 3.2-9.8M1091.2 863.7l8.1-5.6 7.4-6.5 7.3-6.6M1087.1 831.7l16.9-4.2M1104 827.5l10.6 15.8M1114.6 843.3l-.6 1.7M1091.6 883.8l-2.1-10 1.7-10.1M1043.3 844.2l9.2 1.5 8.9 3.7 9.3 .8 9.4 .8M1044.6 833.5l-1.3 10.7M1077.1 821.1l10 10.6M1130.7 870.9l-4.2-9.4-4.4-9.4-8.1-7.1M1107.3 810.5l-3.3 17M1150.7 828.8l-8.2 5.7-9.8 1.7-8.3 5.5-9.8 1.6M1015.3 622.5l5 10 7.5 8.3M1015.3 622.5l10.2-5.8 11.5-2.5 10.3-5.4M1027.8 640.8l9.2 2.7 9.3-.6 9.4-.4M1047.3 608.8l4.1 9 4.8 8.6M1056.2 626.4l-.5 16.1M1049.6 590.2l-2.3 18.6M1037.1 586.5l-8.4-1-8 3-8.2 1.3M1012.5 589.8l-3.9 8.8-4.9 8.2-5 8.1M998.7 614.9l.4 3.5M999.1 618.4l16.2 4.1M1084.4 616.8l-10.1 1.2-8.3 6.3-9.8 2.1M1073.8 658.2l-10.6-1.1M1063.2 657.1l-7.5-14.6M1070 734.5l-8.2-4.3M1063.2 657.1l-5.1 9.6-8.5 6.8M1061.8 730.2l-6.4-9.8M1049.6 673.5l-1.1 12.1 2.5 11.6 2.5 11.6 1.9 11.6M1006.2 789.7l11.2 3.7 11.6 .2 11.6 0M1006.2 789.7l-2.5-7.8M1041.9 788.3l-8.1-4.7-6.1-6.8-4.6-8.2-6.8-6.2M1003.7 781.9l6.7-9.5 5.9-10M1061.8 730.2l-9 5-9.6 3-9.1 4.5-10.5 .7-9.5 3.3M1016.3 762.4l-2.2-15.7M989.1 772.6l14.6 9.3M989.1 772.6l1.1-18.6M1014.1 746.7l-10.1-3.5M990.2 754l13.8-10.8M936.2 850.4l8.7-2.9 9.5 .3 8.7-3.1M974.2 877.2l-3-10.6-4.6-10.1-2.1-10.8M963.1 844.7l1.4 1M1005.1 851.1l-3.9-4.7M964.5 845.7l9.2-2.3 9.2 0 9.1 .2 9.2 2.8M1039.5 813.6l-11.3 .9-11.2 3-11.4-1.4-11.4 .4M1001.2 846.4l-4.7-9.4-2-10-.3-10.5M1006.2 789.7l-5.4 7.4-5.8 7-4.9 7.7M994.2 816.5l-4.1-4.7M923.5 719.2l9.2 4.6 10.5 .3 9.3 4.1M952.5 728.2l-.5 18M952 746.2l-12.1-.3-11.7 3.1-11.8 1.2-12 .9M988.3 571.8l.1-10.3-2.7-9.8-2.2-9.9M988.3 571.8l14.1 1.1M1002.4 572.9l6.5-9.1 6.3-9.3M1015.2 554.5l-8.7-4.9-9.5-3.6-7.3-7.2M1019.7 553.1l-4.5 1.4M1012.5 589.8l-6.7-7.5-3.4-9.4M969 584.4l-8.3-6M969 584.8l-5.4 8-1.3 9.9-5.4 8-4.2 8.5M934.6 619.7l17.4-.1M998.7 614.9l-6.1-8.7-6.4-8.7-8.5-6.4-8.7-6.3M988.3 571.8l-8.9 7.5-10.4 5.1M999.1 618.4l-4 5.1M993.2 624.5l1.9-1M993.2 624.5l-10.4 .5-10.1-1.2-9.8-4.1-10.2-.5M781.8 109.5l-14.8 10M750.2 109.3l9.5 3.3 7.3 6.9M803.5 123.4l-7.7-3.8-6.6-5.6-7.4-4.5M766.1 157.2l1.7-9.4-2.6-9.5 2.6-9.4-.8-9.4M934.4 849.8l-1.3-11.2M933.1 838.6l-4.7-9-7.6-6.8M1027.8 640.8l-5.8 8-4.3 8.9M1049.6 673.5l-10.5-2-10.7 .9M1028.4 672.4l-10.7-14.7M995.1 623.5l4.1 10.6 5.8 9.9 1.2 11.5M1017.7 657.7l-11.5-2.2M929.2 784.7l10.4-4.9 10.8-3.8M928.3 801.6l4.7 7 6.1 5.3 7.8 3.2M950.4 776l8.3 5.2 6.5 7.3M965.2 788.5l6.1 8.8 1.4 10.6M946.9 817.1l11-4.5 11.8-1.4M972.7 807.9l-3 3.3M953.7 750.5l-1.7-4.3M953.7 750.5l.6 8.7-3.4 8.2-.5 8.6M933.1 838.6l3.1-8.2 3.8-7.7 6.9-5.6M989.1 772.6l-7.5 5.9-8.1 5.2-8.3 4.8M990.2 754l-9.1-.9-9.1-1-9-3.2-9.3 1.6M990.1 811.8l-17.4-3.9M963.1 844.7l1.8-11.3 4.6-10.7 .2-11.5M637.2 135.6l7.1-5.9 6.9-6 6.7-6.4M637.2 135.6l-4.3-8.1-5.3-7.7-3.4-8.7M657.9 117.3l-7.3-4.6-8.1-3.6-5.8-6.7M624.2 111.1l12.5-8.7M660.4 117.1l3.8 11.1 2.5 11.5M660.4 117.1l-2.5 .2M614.6 110.5l9.6 .6M750.2 109.3l-7.2 2.3M743 111.6l-4.2 8.4-5.9 7.3-5.8 7.2M667.1 112.2l10.7 3.1 9.5 5.8M687.3 121.1l6.9-7.9 3.2-10 5.3-8.8 5.8-8.5M660.4 117.1l6.7-4.9M743 111.6l-7.8-5.8-9.2-3.8-7.8-5.8-7.5-6.3M710.7 89.9l-2.2-4M1055.4 720.4l-9.3-6.5-11.1-2.5-10.4-4-10.2-4.5M1028.4 672.4l-5.9 8.1-8 6.2M1014.4 702.9l.1-16.2M725 134.5l-9.2-7.6M715.8 126.9l-8 2.9-8.4-.6-8.3-.6M691.1 128.6l-4.4 13M710.7 89.9l3.7 8.9 2.2 9.1 .8 9.3-1.6 9.7M687.3 121.1l3.8 7.5M952.5 728.2l5.3-6.7M1004 743.2l-3.9-8.7M1000.1 734.5l-10.6-3.2-9.9-5.4-10.8-2.7-11-1.7M1014.4 702.9l-11.5 7.1M1000.1 734.5l1.2-8.2-.4-8.3 2-8M1002.9 710l-9.2-5.8-9.5-5.1-10.7-2.3M957.8 721.5l1.7-10.9 4.2-10.1M963.7 700.5l9.8-3.7M1014.5 686.7l-9.1-3.7-9.1-3.3-7.6-6.5M973.5 696.8l5.1-7.9 3.8-8.7 6.3-7M1006.2 655.5l-7.6 8.9-10 6.1M988.6 670.5l.1 2.7M993.2 624.5l-6.5 9.8-8.1 8.6-6.4 9.8M988.6 670.5l-4-7.2-4.6-6.8-7.8-3.8M943 681.9l-1.3-9.9-1.6-9.9 1.6-10M943 681.9l3.8 1.4M946.8 683.3l7-6.7 3.7-9.3 7.1-6.7 5.5-7.9M941.7 652.1l9.9-4.5 10.8 .1M962.4 647.7l7.7 5M920.9 683.4l11.1-.9 11-.6M928.2 641.1l13.5 11M963.7 700.5l-6.3-5.1-6-5.4-4.6-6.7M972.2 652.7l-2.1 0M952 619.6l1.2 10.2 5.3 8.7 3.9 9.2" fill="none" stroke="#cfd0d0" stroke-width="0.9"/>
<path d="M46.4 126.4l84.3-.4 .1 1.4 .2 1.9 .2 2.3 0 2.3-.2 2.4-.5 2.5-.4 2.6-.4 2.4-.2 2.3-.2 2.3-.2 1.9-.4 1.5-.6 .7-.8 .1-.7-.1-.6 .3-.4 .7-.2 .8-.2 1.1 .1 1.3 .3 1.7 .4 2.1 .6 2.2 .7 2 .8 1.9 1 1.8 1.2 1.7 1.4 1.5 1.7 1.2 1.9 1.1 2.1 .9 2.2 .8 2.4 .8 2.6 .7 2.6 .5 2.4 .4 2.1 .2 1.9-.1 1.8-.2 1.6-.4 1.3-.7 1.2-.8 1-1.1 .9-1.3 .8-1.6 .7-2 .7-1.9 .8-1.5 .9-1.1 .9-.8 1-.5 1.2-.5 1.4-.2 1.7 0 1.6 0 1.2-.3 .6-.8 .1-1 .2-1.2 .6-1.5 1.2-1.7 1.5-1.8 1.8-2.1 2-2.3 2.5-2.8 2.9-3.2 2.8-2.9 2.2-2 1.3-.6 .7 .2 .5 .7 .4 .7 .3 .6 .2 .9 .1 .8 .4 .6 .7 .5 .9 .4 1 .2 .9-.1 .9-.4 1-.7 .9-.8 .7-1 .3-1.2 0-1.3 .1-1.4 .6-1.1 1.3-.7 1.9-.3 1.9-.5 1.3-1 .7-1.9 .2-2.5 0-2.4 .1-1.6 .9 0 3-.2 3.1 .2-.2 3.4 .6 3.2 1.7 3.1-.7 3.4 1.2 3.2 3.7-3.7 1.1-2.8-.2-3.2 1.6-2.7 3 1.4 3.2-.3 1.2-5 2.5-.4 2.4 .1 2.5 .3 2 2.4 1.7 2.6 2.4 2.1 2.6 1.8 1.3 2.6-.4 3 .4 2.9 1.2 2.6 1.7-2.1 2-1.7 1.2-2.4 1.1-3.2 1.1-3.3 .3-3.4 5 1.1 1.7 2.6 .9 3 1.1 2.9 1.1 2.8 1.9 2.6-.1 3.5 2 2.6 1.1-2.8-.1-3.2 1.5-2.7-.3-3.3-.7-3.3-.3-3.3 2.9-1.8 3.4-.7 1.4 2.7 .3 3.1 .7 2.9 1.6-2.3 2.6-.9 2-1.8 2.5-.8 2.3-1.6 2.7-.2 1.6 2.2 3.1 .5 1.5 2.3 2.6-.1 2.2 1.5 2.6-.1 2.1 2.2 1.3 2.7 1.6 2.6 1.1 2.9 1.5 2.8 1.1 2.9 1.6-2.9 1.7-2.8 1.6-2.9 3.1-.7 3.1-.6 1.1 2.7-1.1 3 1.3 2.7-.1 2.8 2.2 1.1 1.2 2 1.6 1.8 2.5-1.7 1.8-2.3 1.9-2.2 1.2-2.1 1.2-2 1.3-2 3.7 3.7 .9 3.2-.2 3.4 .6 3.3 .6 2.8 .9 2.8-.4 3 1.3-2.9 1.9-2.5 2.7-1.8 1.6-2.7 1.9-2.2 1-2.5 .9-2.7 3.7 3.7 .9 2.8 .5 2.9-.2 3 2 2.5 3 1.2 1.4-2.6 1.3-2.7 2.1-2.1 2 1.7 2.1 1.7 2.2 1.5 2.1-2 2-2.2 2.1-2 2.6 .1 2.4 .8 2.5 .4 .9 2.4 .4 2.6 1.1 2.4-1.6 2.9-1.4 3-1.9 2.8 0 2.7 2.3 2 .2 2.7 4.9 1.2 1.5-2 .6-2.5 1.3-2.2 2.5-2.4 1.9-2.9 1.8-3 3.1 .1 3 .1 3.1-.7 3.1 .5-.8 3.5-2.7 2.5-.8 3.5-1.9 2.9 1.4 2.6-.5 3.1 1.2 2.6 2.8-.5 2.5-1.7 3 .1 2 1.4 2.5 .9 1.7 1.9 3-.8 2.3-2.4 2.9-1 2.3-2.7 1-3.4 .7-3.5 2.2-2.8 2.7-1.5 3.2-.5 2.4-2.1 1.1 2.3 2.2 1.5 .8 2.4-1.9 2.9-1.9 2.9-2.4 2.5 .3 3-1.3 2.7-.6 2.9 .4 3-.9 2.8 3.1 .1 3.1-.1 2.5-1.6 2.1-2 1.2-3 2.5-1.6 3.1-1.2 3.3 .3 3.4 1.7-1.5 2.5 .3 3-1.1 2.6 .2 3.2-1.5 2.9 .2 3.2 1.5 2.4 .8 2.8 .6-3.1 2-2.6 .8-3 1.6-2.6 1.1-2.8 1.4-2.7 1.9-1.6 2.6-.2 1.8-1.6 3.5 1.1-1.9 2.7-1 3.1 2.3 4.6-2.9 1.4-2.8 1.5-.9 2.6-.9 2.6 3 .1 2.8 1.1 1.7 2.9 0 3.4 .8-2.6 1.3-2.3 .8-2.6 .9-3.4 2.7-2.5 1.1-3.3 1.1-3.3 1.5-3.1 2-2.9 4-1.1 1.1 2.8-.5 2.9-2.1 1.9-.9 2.6-1 2.5-2.3 1.9-1.2 2.7 1.6 2.4 1.9 2.2 .2 2.5-1.1 2.2-.9 2.3 3.5 1.1 1.2-2.7 .5-3 1.8-2.4 2.1-2.2 .7-3 1.7 2.5 1.2 2.7-1 3.4-2.6 2.5-1 3.4 1.9-2 2.7-.9 2.2-2.5 .9-3.3 1.6-2.9 1.4-2.5 1-2.6 1.6-2.4 3.4-.3 3.5-.3-.5 4.6-1.1 2.3-1.4 2.1-2.2 1.4-1.8 2.7-.5 3.1 4.7-1.1 1 2.8 .1 2.9-1.3 2.8-.4 3 .9 2.6-1 2.9 1.2 2.6 3.1 1 3.3-.4 2.6-1.7 2-2.4 .9-2.6 0-2.8 .3-2.7 3.4-2.8 3.5 2.8 .2 3 1 2.8 4.6 2.3 2.3 2.5 1.2 3.3-1.7 2.1-1.8 2 4.6-1.8 1.3-2.1-.3-2.7 1.3-2.1 2.4-2.5 1.1-3.3 3.5-2.9 4 .6-1 2.8 .4 3-2.8 1.8-3 1.6-1.5 3-1.9 2.8-.3 3.1-.3 3.1-.6 3.1 .6 2.4 2.3 1.3 1.2 2.1 .2-3 1-2.6 1.7-2.5 1.9-1.9 1.9-1.8 .8-2.7 2-2.3 2-2.2 1.2-2.7 1.3-2.7 1.2-2.7 2.7 .8 2.8-.1 1.1 2.3 0 2.7 .8 2.4-.1 2.9-.1 2.9 .2 2.9-2.7 1.8-2.9 1.2-3.1 .7-3.7 2.5 3.3 .1 3.2 1.5 3.4-.4 1.2 2.4 .7 2.5-.8 2.9-.1 3-1 2.8 1.4 4.8 4 1.5 2-2.6 1.1-2.9 1.6-2.5 2.3-2 2.2-2.6 1.6-3 1.2-3.1 1.4 3 1 3.2 1.3-2.4 .9-2.4 1.3-2.4 .3-2.7 .5 2.8 2.1 2.1 1.1 2.5 1.2-2.7 .2-2.8-.3-2.8 .1-2.8 1.3-2.8 0-3 .6-2.9 3.7 1.3 .8 2.8 .8 2.8 .2 3 2.5 4.4 2.9 1.6 3.3 .2 3.7 3.7-3.7 2.5 3.7 1.3 5-1.3-1.8-2.9-.7-3.3 2.2-1.9 2.8-.5 2.5-1.7 2-2.1 1.7-2.4 2.4-1.6 2.5-1.5 4.3 2.4-1.6 2.1 .3 2.8-1.7 2-2.2 2.2-2.8 1.5-.9 2.3-1.4 1.9-1.4 2 .4 2.9 0 2.9-1 2.8 3.5 .4 3.3 .9 1.3 2.6 2.4 1.7 1.7-2.4 .4-2.8 .4-2.8 3.7 2.4 1.6-2.1 1.3-2.3 2-1.8 2.6 .6 2.4-1 2.5-.2 3 1.3 3.2 .6 2.3 1.5 1.4 2.3 1.2 2.4-1.6 2.2-1 2.5-.5 2.7-2.5-2.2-3.1-.9-2.5 .9-2.4 1.3-2.5 .9-2.2 2-2.4 1.7-1.6 2.5 2.6 .5 2.4 1.2 2.5 .8 4.9 0-1.3 2.3-2.3 1.5-1.3 2.4-2.1 2-3 .2-2.4 1.5 3.4 .4 3.1-2.1 3.4 .4 2.9-.2 2.9-.3 2.9-.7 1.2-2.3 .2-2.6 .5-2.5 2.9 .9 2.6 1.6 .6 2.4-.5 2.7 1.2 2.3 2.8-.6 2.1-1.9 1.3 3 0 3.2 3.7 2.5 .1 3.2-1.4 3-4.9 1.8 2.3-1.3 2.4-.7 2.7 .2 1.9 2.4 1.8 2.5 1.3 2.7-.7 3.1 1.3 2.7-2.3 1.8-1.4 2.7-2.5 1.5-3.1 .9-3.1 1.1 2.9 .2 2.8 .8 2.9 0 2.8 1-1.9 2.6-2.4 2.1-2.6 1.9-2.5 2-2.3 2.5-1.8 3-2 2.8 .1 2.9-1.9 2.4-.3 2.8-3.1 1.5-2.7 2.1-2.4 2.4-2.9 .3-2.4 2.2-3-.1 2.8 1.3 3.1 .7 2.4 2.1 .2 2.9 1.7 2.5 .1 2.9-2.3 1.1-1.6 2.1-2.3 1 2.3-1.8 1.6-2.6 1.7-2.4 2.7-1.5 1.5-2.6 1.5-2.7 2.6-1.9 .7-3.2 2-2.3 2-2.7 2.1-2.6 1.9-2.7 3.2-1 2-3 3.2-1.1 2.7 1.2 2.8 .9 2.8 1 1.2 2.7 1.2 2.7 2.5 1.9 1.3 2.7 .7 3.3 1.3 3.1 1 3.2 1.1 3.1 .1 2.6-2 2.1-.1 2.6-3.2 1.3-2.1 2.9-2.9 1.8-2.7-.7-2.1-2.1-3.2 .5-2.3-1.7 0 3.5-.6 3.3-1.5 3.2-1.6 2.4-1 2.7-.6 2.9-1.2 2.6-1.7 2.5-.6 3.1-2.4 2.1-1.3 2.7-1.1 2.9-1.3 2.8-1 3-1.2 2.9-1.4 2.8 0 3.4-.1 3.3-1.1 3.2-.1 3.4-.9 3.2-1.4 2.7-1.2 2.7-.8 2.9-.6 3-1.1 2.8 1.7 3 1 3.3 1.1 3.2 1.3 3.2 1.6 1.9 1.3 2.2 2.3 1.2-1.3 2.7-2.4 1.7-1.9 2.2-2.1 1.9-1.6 2.5-3 1.6-2.5 2.3-2.4 2.3-2.4 2.3-2.6 .9-2.2 1.4-2.6 1-2 1.9-.7 3.1-.3 3.1 0 3.1 2.1 2.1 .8 3 2.3 1.9 4.4-2.5-.9-2.5-.2-2.7-.9-2.5 2.6-2.1 2.4-2.2 2.2-2.5 1.5-3 1.6-2.3 2.4-1.2 2.2-1.6 2.3-1.3 1.9-2.5 1.6-2.6 2.6-1.8 1.9-2.4 1.8-2.4 2.5-1.6 2.9-1 2-2.1 2-2.2 1.9-2.4 1.5-2.7 3.1-1.4 1.6-2.6 1.3-2.9 2.4-2 .2-3.1 1.1-2.9 .6-2.9 .2-3.1 .1-3.2 1.8-2.9-.6-3.3 .8-3 .6-3.3 2-2.8-.2-3.5 1.6-3 .3-3.4-.8-3.4 .7-3.4-.6-3.5 .2-3.4 .2-3.4 3.1-1 2.2-2.5 2.7-1.6 3.1-1 3.3-.6 2.9-1.5 3.1-1.1 3.3-.5 3.2-.7 2.9-1.6 2.9-1.4 3.6 0 2.7-2 2.6-1.1 2.8 1.2 2.6-.1 2.6-1 .1 3.1 .9 2.9 .4 2.8-1.4 2.4 .3 2.8-1.3 2.5-2.5 2.4-2.4 2.4-1.7 3-2 2.8-3 1.9-1.6 2.5-.8 2.9-1.8 2.3-1.8 2.3-2.5 1.7-3 .9-2.1 2.4-2.7 1.4-2.6 2.2-3.5 .7-3 1.6-2.7 2.1-2.9 1.7 2.6 .7 2 1.6 1.8 1.8 2.6-.7 2.6-.2 2.5-1.1 2.7 0 .1 2.9 .6 2.7 1.3 2.6 2.6-1.5 2-2.1 .9-3.2 2.8-1.3 1.9-2.2 3 0 2.4 2.1 3 0 1-2.5 .5-2.6-.5-2.8 1.1-2.5 .3-2.6 2.3-1.6 .5-2.5 2.5-2 2.3-2.1 2.2-2.3 2.8-2 2.9-2 2.2-2.6 1.3-3.2 4.6 2.3 .9-3 1.4-2.8 2.6 1.4 2.1 2.1 .5-2.4 .7-2.3 1.1-2.2 2.2 1.6 2.4 1.2 1.8-2.3 .5-2.9 4.6 1.2 3.5-3.5 2.1 1.5 1.6 1.9 .9 2.4 2.4-2.3 2.3-2.3 1.3 2.9 2.3 2.2 1 3 1.4-2.6 2.1-2 .4-3.2 1.9-2.6 4.6-1.2 2.3-4.6 3.5-1.2 1.2 2.2-.5 2.5 .4 2.3 2.1 2 2.5 1.4 1.5 3 2 2.8 2.3-2.3-1.4-2.9-.8-3.1-.1-3.2 2.6 0 2.1-1.5 2.3-.8-2.8-1.4-2.4-2-2.9-1.3-1.4-2.5-2.1-2.1 2.3-2.3 2.3-2.3 3-1.2 3.3 1 3-1 2.9-.4 2.9-.1 2.8 .7 2.9 .4 2.9 .8 2.8 .9 3.1-.1 2.8 1.3 2.8 1.4 3 .6 3.1 .4 2.7 1.6 2.5 2 2.8 1.5 2.6 1.6 3 1.1 3.1 .8 2.3 2.4 3 1 2.8 1.9 3.4 .7 2.9 1.9 3.1 1.3 3.5 .3 2.7 2.2 3.1 1.2 3.3 1.1 3.6-.1 2.8 2.1 3.3 .3 3.2 .8 2.9 .8 2.9 .3 2.2 2 2.1 2.1 2.4 1.7 2.9 1.2 1.9 2.3 2.1 2.3 2.9 1 2.3 2.1 3.1 .6 2.3 2.1 2.2 1.3 2.5-.5 2.3 .3 1.2 3.5 2.7 .3 2.7-.3 2.6-.6 3.4 .9 3.5-.7 3.5 .4 2.4 3.5 3.1 .1 2.6 1.6 2.2-1.9 2.1-2 2.7-1.3-.6-4 2.9-2.4 2.3 2.4 2.9 .2 2.9 .6 2.9-.7 2.9 .4 3.5-.7 3.4-.2 3.4 .8 3.5 .1 2.3 4.7 3.5 2.3 .6-2.9 3.3 .1 3.4-1 3.3 1.2 3.3-.3 2.9-.4 2.9-.1 2.9 1.6 2.9-.7 1.3 2.5 1.4 2.5 4.2-.5 1.7 2.8 2.1 2.4 4.8 2.9 3.4 1.9 3.1 2.2 3 2.5 2.1 1.7 2.6 1.1 1.9 2 2.7 1.5 3 .9 3.3 .8 3.4 .1 3.7-1.2 3.9-.2 3.8 .7 3.8 .2 3.3 0 3.3 0 2.8 1.3 2.9 1.1 2.5 1-.2-342.6z" fill="#cde6e6"/>
<path d="M89.5 819.7l2.3 1.1 2.6 .6 2.5 .7 1.9 2 2.7 .3 2.3 1.2 2.2 1.4 2.7-.3 2.7 .3 2.8 .5 2.7-1.1 2.7 .8 2.7-.2 2.7-1 2.9-.3 2.8-.1 2.8 .3 2.8 1.4 2.9-.3 2.8 0 1.1 2.6 1.6 2.3 2.1 1.8 1.8 2 2.4 1.7 1 2.6 3 .7 1.8 2.7 2.7 1.2 2.5 1.6 2.7 1.1 2.5 1.6 2.6 1.4 2.3 1.9 2.9 .8 1.4 2.5 .1 2.9 1.1 2.7-.2 2.9 1.3 2.6-2.6 .8-1.6 2.4-2 1.6-2.4 1.2-2.2 1.3-2.4 1.1-2.3 1.2-1.6 2.1-2.3 1.2-1.5 2.2-2.2 1.3 1.4 2.4 1.9 2.1 .7 2.8 1.6 2.3 .9 2.7 1.3 2.5 2.1 2-1.7 2-1.1 2.5-2.9 1.1-1.7 2-1 2.6-1.7 2-2.3 1.5-1.1 2.5-1.1 2.8-1.4 2.6-2.1 2.3-1.5 2.6-1.4 2.6-1.7 2.5-.9 2.9-1.3 2.7-1.6 2.5 .8 2.9 .4 2.9 0 3 .3 3-.3 3 .6 2.9 .5 2.9 .6 2.9 .1 3-2.8 .2-2.7 .9-2.9-.3-2.7 .7-2.8 .3-2.7 1-2.8 .2-1.9 2.2-2.1 2-2.2 1.9-1.2 2.8-1.6 2.4-2.3 1.8-1.1 2.9-2.1 2-2.1 2 .4 3-1.3 2.7 .1 3-.6 2.8-1.1 2.8-.1 2.9 .6 3-1.2 2.8-2.5 1.2-2.3 1.8-3.2-.2-2.3 1.7-2.8 .5-2.2 2.1-3 .1-2.1 2.3-2.8 .5-2.9-.2-2.7 1.3-2.8 .9-3-1-2.8 .5-2.7 1.6-2.9-.1-2.4 1-2.2 1.4-2 1.7-2.5 .7-2.8 .3-1.9 1.9" fill="none" stroke="#1a1a1a" stroke-width="1.15" stroke-linejoin="round"/>
<path d="M492 1531l-1.8 2.2-2.7 .8 1.9 2.2 .8 2.7 .8 2.7 1.5 2.4 2.5-.2 2.4 .4 2.3 .6 2.3 .9 1.2-2.2-.3-2.7 1.7-2 .6-2.4 .5-2.4 2.6-1.2 2.8 .2 2.7-.7 2.7-.6 3 .5 2.5-1.4 .8-2.6 1.3-2.3 2.8-1.3 .6-2.7 1.1-2.4 1.9-1.9 2.3-1.4 2.4-1 2.9-.2 1.9-2.3 2.4-1.1 2.6-.6 1.6 2.1 1.8 2 1.1 2.4 1.9 1.9 2.2 1.6 1.8 2.2 1.9 2.2 .7 3 1.4 2.5 3 1.4 .6 3.1 2 2.1 .7 2.7 1.6 2.3 1.9 2.1 .3 2.9 1.4 2.4 2.1 2 .5 2.8 1.5 2.3-.1 2.9-.2 2.9-1.1 2.7-.5 2.8-.7 2.7-.7 2.8 .9 2.7 .8 2.7 .9 2.7 1.1 2.6 1 2.5 1.5 2.5 1.9 2.2 1.3 2.5 .6 2.8 1.9 2.2 2.1 2 1.9 2.2 2.8 1.3 1.9 2.2 1.1 2.9 2.4 1.7 2.2 1.9 2.6 .8 2.9-.5 2.5 1 2.5 1.4 2.8 .1 2.5 1.1 2.9-.9 2.6 .9 2.5 1.1 2.8 0 2.5 1.1 2.1 1.8 2.6 .8 2.8 .5 2.4 1.2 1.8 2.6 3.1-.2 2.1 1.8 2.2-1.6 2.5-1 2.7-.5 2.6-.9 2.1-1.8 2.5-1.1 2.4-1.1 2.2-1.5 1.2-2.6 2-1.7 2.2-1.6 1.9-1.9 1.1-2.6 2.4-1.3 1.1-2.9 1.7-2.4 2.5-1.9 1.7-2.5 2-2.2 1-2.9 3-.2 2.6-1.7 3 .2 3-.3 2.5-1.8 2.7-1.3 3.1 .1 2.5-1.5 2.5-1.5 2.6-1.5 2.5-1.5 2.6-1.2 3.3-.1 1.9-2.7 3.1-.4 2.3-2 2.8-.8 2.8 .9 1.9 2.4 3 .6 2.6 1.2 2.2 1.8 2.3 1.8 2.7 1.1 2.5 1.4 3-.2 2.5-1.6 2.8-.7 2.9-.5 2.6-1.2 2.8-.8 1.3-2.4 .5-2.7 .4-2.8 .9-2.6 2-2.1 .9-2.6 1.3-2.4 .5-2.7 .6-2.7 2.5-.9 2.2-1.8 2.9 .1 2-2.2 2.7-.6 2.5-.9 1.6-2.6 2.3-1.8 2-2.3 2.2-2 2.1-2 1.5-2.6 .9-2.9 .7-2.9 2.1-2.4 1.1-2.7 1.4-2.7-.1-3.3 2.1-2.3 1.7-2.6 .5-3 1.4-2.4 1.6-2.2 2.5-1.4 1.1-2.7 1.8-2 2.2-1.7 1.1-2.6 1.9-2-.8-2.8-.3-2.8 0-2.8 .3-2.9-.9-2.8 0-2.8 1.7-1.9 .1-2.8 1.6-2.1 1.6-1.9-2-1.9-2.4-1.5-2.1-1.7-1.7-2.4-2.9-.8-2.3-1.5-1.8-2.2-2-2.1-.6-2.9-1.6-2.3-.9-2.7-2.1-2.1-1.3-2.5-.6-2.8-1.1-2.6 .7-2.8-.5-2.9 1.3-2.7-.3-2.9 0-2.9 .4-2.8 2.4-1 1.6-2.3 2.5-.9 2.4-1.1 1.9-1.9 1.9-1.8 2.3-1.2 1.9-2.3 2.8-1 1.9-2.3 2.5-1.4 2.4-1.4 2.8-1.2 2-2 2.1-2 2.3-1.7 2.7-.6 2-2.1 2.5-1.1 2.7-.8 2.3-1.4 2.1-1.7 2.7-.8 2.1 1.8 1.4 2.5 2.7 1.2 1.3 2.5 2.8 1.1 .8 3.1 2.5 1.4 2.1 1.7 2.6 .8 1.6 2.4 2.4 1.2 3 .2 1.8 2.1 2.8-1.2 3-.2 3.1 .1 2.5-2.2 2.8-.9 3-.2 3-.4 2.8-.2 2.6 1.2 2.6 .7 2.7 .4 2.8 0 2.7 .4 2.4 1.9 2.8-.1 2.6 .7 .6 2.7 .6 2.8 .3 2.8 .2 2.8 1.3 2.6 2.1 1.9 2.5 1.3 2.8 .9 2.6 1.2 2.5 1.3 1.7 2.6 2.8 .9 3 .6 2.2 2.1 2.3 1.9 3 .6 1-2.2 1.4-2 1.4-2.1 2.1-1.5 .6-2.5 2.9-.5 2.9-.6 2.5-2.2 3.2 .4 2.6-1.4 2.9-.7 2.7-.5 2.9 .5 2.7-.4 2.7-.7" fill="none" stroke="#1a1a1a" stroke-width="1.15" stroke-linejoin="round"/>
<path d="M532 1517.6l.8 2.7-.3 2.8-.1 2.7-1.1 2.7 .7 2.8 0 2.7-2.8 1-2.1 2.4-2.9 .7-2.9 .8-2.3 1.9-.4 2.7-1.1 2.6-.2 2.7 .6 2.8 .3 2.8-1.2 2.6-2.5 1.3-1.6 2.6-2.1 1.9-3 .6-2.4 1.5-2.3 1.7-2.3 1.6-1.8 2.3-2.3 1.7-2.4 1.4-2.5 1.1-3.2-.1-1.8 2.6-2.5 1.1-2.4 1.4-2.5 1.2-2.5 1.2-2.8 .7-2.3 1.5-2.8 .7-.6 2.8-1.9 2.2 .4 3.1-2 2.3-.7 2.7-.6 2.7-.8 2.7-2.4 1.2-2.6 1-2.2 1.6-2 1.8-2.6 .9 .1 2.9-.1 2.8-.5 2.9-1.2 2.8 .8 2.9 .4 2.9-1 2.8-2.7 .6-2.8 .1-2.6 1.2-2.8 .1-2.6 1-.4 2.2-.9 1.8-1.7 1.5" fill="none" stroke="#1a1a1a" stroke-width="1.15" stroke-linejoin="round"/>
<path d="M1149.6 1322.5l1.4-2.6 1.4-2.7 1.6-2.6 .4-3.1 1.6-2.5 2.3-.2 2.4-.1 2.2-.5 2.1-1.2" fill="none" stroke="#1a1a1a" stroke-width="1.15" stroke-linejoin="round"/>
<path d="M1165.5 509l-1.5 2.4-1.5 2.4-1.8 2.2-.9 2.8-1.6 1.9-.9 2.1-.1 2.5-1.2 2.1-2.1 1.9-.8 2.8 2.9 1.4 1.3 2.3 1 2.5 2.3-1.2 2.2-1.3 2.7-.2" fill="none" stroke="#1a1a1a" stroke-width="1.15" stroke-linejoin="round"/>
<path d="M1166 558.5l-2.3 .4-2.2 .6-1 2.5 1.6 1.2 1.9 .9 2 .4" fill="none" stroke="#1a1a1a" stroke-width="1.15" stroke-linejoin="round"/>
<path d="M130.7 126l.1 1.4 .2 1.9 .2 2.3 0 2.3-.2 2.4-.5 2.5-.4 2.6-.4 2.4-.2 2.3-.2 2.3-.2 1.9-.4 1.5-.6 .7-.8 .1-.7-.1-.6 .3-.4 .7-.2 .8-.2 1.1 .1 1.3 .3 1.7 .4 2.1 .6 2.2 .7 2 .8 1.9 1 1.8 1.2 1.7 1.4 1.5 1.7 1.2 1.9 1.1 2.1 .9 2.2 .8 2.4 .8 2.6 .7 2.6 .5 2.4 .4 2.1 .2 1.9-.1 1.8-.2 1.6-.4 1.3-.7 1.2-.8 1-1.1 .9-1.3 .8-1.6 .7-2 .7-1.9 .8-1.5 .9-1.1 .9-.8 1-.5 1.2-.5 1.4-.2 1.7 0 1.6 0 1.2-.3 .6-.8 .1-1 .2-1.2 .6-1.5 1.2-1.7 1.5-1.8 1.8-2.1 2-2.3 2.5-2.8 2.9-3.2 2.8-2.9 2.2-2 1.3-.6 .7 .2 .5 .7 .4 .7 .3 .6 .2 .9 .1 .8 .4 .6 .7 .5 .9 .4 1 .2 .9-.1 .9-.4 1-.7 .9-.8 .7-1 .3-1.2 0-1.3 .1-1.4 .6-1.1 1.3-.7 1.9-.3 1.9-.5 1.3-1 .7-1.9 .2-2.5 0-2.4 .1-1.6 .9 0 3-.2 3.1 .2-.2 3.4 .6 3.2 1.7 3.1-.7 3.4 1.2 3.2 3.7-3.7 1.1-2.8-.2-3.2 1.6-2.7 3 1.4 3.2-.3 1.2-5 2.5-.4 2.4 .1 2.5 .3 2 2.4 1.7 2.6 2.4 2.1 2.6 1.8 1.3 2.6-.4 3 .4 2.9 1.2 2.6 1.7-2.1 2-1.7 1.2-2.4 1.1-3.2 1.1-3.3 .3-3.4 5 1.1 1.7 2.6 .9 3 1.1 2.9 1.1 2.8 1.9 2.6-.1 3.5 2 2.6 1.1-2.8-.1-3.2 1.5-2.7-.3-3.3-.7-3.3-.3-3.3 2.9-1.8 3.4-.7 1.4 2.7 .3 3.1 .7 2.9 1.6-2.3 2.6-.9 2-1.8 2.5-.8 2.3-1.6 2.7-.2 1.6 2.2 3.1 .5 1.5 2.3 2.6-.1 2.2 1.5 2.6-.1 2.1 2.2 1.3 2.7 1.6 2.6 1.1 2.9 1.5 2.8 1.1 2.9 1.6-2.9 1.7-2.8 1.6-2.9 3.1-.7 3.1-.6 1.1 2.7-1.1 3 1.3 2.7-.1 2.8 2.2 1.1 1.2 2 1.6 1.8 2.5-1.7 1.8-2.3 1.9-2.2 1.2-2.1 1.2-2 1.3-2 3.7 3.7 .9 3.2-.2 3.4 .6 3.3 .6 2.8 .9 2.8-.4 3 1.3-2.9 1.9-2.5 2.7-1.8 1.6-2.7 1.9-2.2 1-2.5 .9-2.7 3.7 3.7 .9 2.8 .5 2.9-.2 3 2 2.5 3 1.2 1.4-2.6 1.3-2.7 2.1-2.1 2 1.7 2.1 1.7 2.2 1.5 2.1-2 2-2.2 2.1-2 2.6 .1 2.4 .8 2.5 .4 .9 2.4 .4 2.6 1.1 2.4-1.6 2.9-1.4 3-1.9 2.8 0 2.7 2.3 2 .2 2.7 4.9 1.2 1.5-2 .6-2.5 1.3-2.2 2.5-2.4 1.9-2.9 1.8-3 3.1 .1 3 .1 3.1-.7 3.1 .5-.8 3.5-2.7 2.5-.8 3.5-1.9 2.9 1.4 2.6-.5 3.1 1.2 2.6 2.8-.5 2.5-1.7 3 .1 2 1.4 2.5 .9 1.7 1.9 3-.8 2.3-2.4 2.9-1 2.3-2.7 1-3.4 .7-3.5 2.2-2.8 2.7-1.5 3.2-.5 2.4-2.1 1.1 2.3 2.2 1.5 .8 2.4-1.9 2.9-1.9 2.9-2.4 2.5 .3 3-1.3 2.7-.6 2.9 .4 3-.9 2.8 3.1 .1 3.1-.1 2.5-1.6 2.1-2 1.2-3 2.5-1.6 3.1-1.2 3.3 .3 3.4 1.7-1.5 2.5 .3 3-1.1 2.6 .2 3.2-1.5 2.9 .2 3.2 1.5 2.4 .8 2.8" fill="none" stroke="#111" stroke-width="0.95" stroke-linejoin="round"/>
<path d="M1095.7 443.8l4.2-.5 1.7 2.8 2.1 2.4 4.8 2.9 3.4 1.9 3.1 2.2 3 2.5 2.1 1.7 2.6 1.1 1.9 2 2.7 1.5 3 .9 3.3 .8 3.4 .1 3.7-1.2 3.9-.2 3.8 .7 3.8 .2 3.3 0 3.3 0 2.8 1.3 2.9 1.1 2.5 1" fill="none" stroke="#111" stroke-width="0.95" stroke-linejoin="round"/>
<circle cx="136.8" cy="161.3" r="0.8" fill="#111"/>
<g clip-path="url(#ma)">
<rect x="80" y="180" width="1030" height="1370" fill="#f09660"/>
<path d="M398.4 463.5C397.3 470 397.8 469.2 395 483C392.2 496.8 391.1 488.3 390 505C388.9 521.7 387.5 512.7 391.8 533C396.1 553.3 393.7 543 403 566C412.3 589 408.1 580 419.8 602C431.5 624 428.6 611 438 632C447.4 653 446.2 643 447.9 665C449.6 687 449.1 676 443 698C436.9 720 433 709 429.7 731C426.4 753 426.4 743 433 764C439.6 785 436.3 774.1 449.5 794C462.7 813.9 456.2 805 472.7 823.7C489.2 842.4 483.6 833.6 499 850C514.4 866.4 508 858.7 519 873C530 887.3 525 880.7 532 893C539 905.3 535.7 897.8 540 910C544.3 922.2 545 915.3 545 929.5C545 943.7 547.7 939.5 540 952.7C532.3 965.9 537.8 959.2 522 969C506.2 978.8 513.3 973.1 492.5 982C471.7 990.9 481.7 985.6 459.5 995.6C437.3 1005.6 444.8 1000.5 426 1012C407.2 1023.5 413.9 1014.7 403 1030C392.1 1045.3 394.9 1039.7 393.4 1058C391.9 1076.3 392.9 1067.1 398.4 1084.8C403.9 1102.5 400.8 1093.4 410 1111C419.2 1128.6 412.8 1121 426 1137.6C439.2 1154.2 432.8 1145.3 449.5 1160.8C466.2 1176.3 457.3 1169.7 476 1184C494.7 1198.3 487 1192.7 505.7 1203.7C524.4 1214.7 517.7 1210.4 532 1217C546.3 1223.6 535.9 1219.2 548.6 1223.5C561.3 1227.8 562.9 1227.8 570 1230L620 1240L620 1600L300 1600L200 1100L232 850L240 838C242.1 834.9 241.5 835.7 246.4 828.7C251.3 821.7 242 833 254.7 817C267.4 801 265.7 803.9 284.4 780.8C303.1 757.7 298.7 766.4 310.8 747.7C322.9 729 317.5 741.2 320.8 724.6C324.1 708 323.1 717.9 320.8 698C318.5 678.1 321.3 687 314 665C306.7 643 305.7 646.3 299 632C292.3 617.7 295.7 625.3 294 622L285 615L330 540L385 455Z" fill="#b8431f"/>
<path d="M588 554.5C589.1 549 585.8 549.6 593 544.6C600.2 539.6 595.2 539.6 609.5 539.6C623.8 539.6 619.5 543.5 636 544.6C652.5 545.7 645.8 546.3 659 543C672.2 539.7 662.4 538.9 675.6 534.7C688.8 530.5 684.4 531.5 698.7 530.4C713 529.3 707.5 528.3 718.5 531.4C729.5 534.5 724.6 531.4 731.8 539.6C739 547.8 736.2 541.7 740 556C743.8 570.3 742.2 562.7 743.3 582.6C744.4 602.5 743.8 595.8 743.3 615.6C742.8 635.4 743.9 625.5 741.7 642C739.5 658.5 740.6 652.9 736.7 665C732.8 677.1 736.1 677.2 730 678.4C723.9 679.6 727.8 679.6 718.5 668.5C709.2 657.4 714.2 659.3 702 645C689.8 630.7 697.4 639.7 682 625.5C666.6 611.3 674.5 616.7 655.8 602.4C637.1 588.1 644.7 594.7 626 582.6C607.3 570.5 611.7 573.2 599.6 566C587.5 558.8 593.6 564.8 589.7 561C585.8 557.2 586.9 560 588 554.5Z" fill="#b8431f"/>
<path d="M992 436C991.3 440.7 990.7 440.8 990 450C989.3 459.2 987.3 454.5 990 463.5C992.7 472.5 990.8 468.8 998 477C1005.2 485.2 1001.1 480.6 1011.5 488C1021.9 495.4 1017.5 493.3 1029.3 499.3C1041.1 505.3 1035.8 502.3 1047 506C1058.2 509.7 1052.5 508.5 1062.8 510.5C1073.1 512.5 1072.9 511.5 1078 512L1120 500L1120 420L995 420Z" fill="#b8431f"/>
<path d="M940 833C936.3 834.3 941.9 832.9 928.8 837C915.7 841.1 919.5 840.2 900.8 845.4C882.1 850.6 891.4 848.3 872.7 852.5C854 856.7 863.3 855.2 844.6 858C825.9 860.8 835.2 859.8 816.5 860.9C797.8 862 807.2 860.5 788.5 861.4C769.8 862.3 776.3 861.1 760.4 863.7C744.5 866.3 752.9 864.2 740.7 869.3C728.5 874.4 736.1 870.6 723.9 879C711.7 887.4 718.2 882.9 704.2 894.6C690.2 906.3 696.8 900.9 681.8 914C666.8 927.1 671.9 921.7 659.3 933.9C646.7 946.1 650.7 940.4 643.9 950.7C637.1 961 639 954.5 639 964.8C639 975.1 637.1 970.4 643.9 981.6C650.7 992.8 646.7 987.3 659.3 998.5C671.9 1009.7 666.8 1005.1 681.8 1015.3C696.8 1025.5 689.2 1018.8 704.2 1029C719.2 1039.2 713.1 1036 726.7 1046C740.3 1056 736.6 1053 745 1059C753.4 1065 749.7 1062.3 752 1064L800 1085L985 1085L985 833Z" fill="#b8431f"/>
<path d="M866 577C866.3 573.7 866.3 574.5 869 574C871.7 573.5 871.7 573.2 874 575.5C876.3 577.8 876.3 577.8 876 581C875.7 584.2 875.7 584 873 585C870.3 586 870.3 586.7 868 584C865.7 581.3 865.7 580.3 866 577Z" fill="#b8431f"/>
<path d="M262 842C264 840.9 258.3 843.6 268 838.6C277.7 833.6 273.4 835.3 291 827C308.6 818.7 299.9 819.3 320.8 813.8C341.7 808.3 331.8 809.4 353.8 810.5C375.8 811.6 364.8 809.3 386.8 817C408.8 824.7 402.1 823.7 419.8 833.6C437.5 843.5 424.6 837 440 846.8C455.4 856.6 450.7 850.9 466 863C481.3 875.1 478.2 871.8 485.9 883C493.6 894.2 491.3 885.5 489 896.5C486.7 907.5 488.8 903.9 479 916C469.2 928.1 474.8 923.9 459.5 932.8C444.2 941.7 449.5 937.1 433 942.8C416.5 948.5 425.4 944.6 410 950C394.6 955.4 408.8 953.2 386.8 959C364.8 964.8 368.3 965.2 344 967.5C319.7 969.8 330.7 970.9 314 966C297.3 961.1 304.4 964.9 294 952.7C283.6 940.5 287.5 940.4 282.8 929.5C278.1 918.6 280.9 923.2 280 920L262 925L252 880Z" fill="#ffffff"/>
<path d="M262 1037C265 1037.5 261.3 1035.8 271 1038.5C280.7 1041.2 276.7 1036.2 291 1045C305.3 1053.8 300.8 1050.7 314 1065C327.2 1079.3 320.7 1070.4 330.7 1088C340.7 1105.6 336.2 1099.1 343.9 1117.8C351.6 1136.5 347.2 1126.4 353.8 1144C360.4 1161.6 358.7 1153 363.7 1170.7C368.7 1188.4 365.9 1181.2 368.7 1197C371.5 1212.8 370.9 1211 372 1218L330 1238L212 1100L245 1040Z" fill="#ffffff"/>
<path d="M380 1245C381.2 1248.7 380.2 1242.3 383.5 1256C386.8 1269.7 382.3 1267.1 390 1286C397.7 1304.9 395.6 1297.2 406.6 1312.8C417.6 1328.4 410.9 1319.5 423 1332.7C435.1 1345.9 428.7 1340.4 443 1352.5C457.3 1364.6 451.7 1359.6 466 1369C480.3 1378.4 473.9 1374.6 485.9 1380.6C497.9 1386.6 489 1382.5 502 1387C515 1391.5 517.3 1391.7 525 1394L575 1400L575 1560L315 1560L315 1262L370 1248Z" fill="#ffffff"/>
<path d="M665.7 576C666.3 567.8 666.9 570.5 674 562.8C681.1 555.1 677.7 556.4 687 552.8C696.3 549.2 693.1 549.3 702 552C710.9 554.7 709.2 552 713.6 561C718 570 715.7 566.3 715.2 579C714.7 591.7 714.7 588 712 599C709.3 610 711.4 608.1 707 612C702.6 615.9 705.9 615 698.7 610.7C691.5 606.4 694.3 606.7 685.5 599C676.7 591.3 678.9 595.2 672.3 587.5C665.7 579.8 665.1 584.2 665.7 576Z" fill="#ffffff"/>
<path d="M708.6 620.6C712.2 618.9 711.4 621 716.9 627C722.4 633 721.1 631 725 638.7C728.9 646.4 729 643.4 728.5 650C728 656.6 729 655.7 723.5 658.5C718 661.3 717.5 662.3 712 658.5C706.5 654.7 709 655.8 707 647C705 638.2 705.5 640.8 706 632C706.5 623.2 705 622.3 708.6 620.6Z" fill="#ffffff"/>
<path d="M925 878C920.7 878.8 924.8 877.8 912 880.5C899.2 883.2 904.5 883.2 886.7 886C868.9 888.8 877.3 888.5 858.6 889C839.9 889.5 849.3 889.5 830.6 887.6C811.9 885.7 820.3 886.6 802.5 883.3C784.7 880 791.2 880.5 777.2 877.7C763.2 874.9 769.8 875.5 760.4 874.9C751 874.3 756.5 872.3 749 876C741.5 879.7 745.4 878 738 886C730.6 894 733.7 889.7 726.7 900C719.7 910.3 721.8 905.7 716.9 917C712 928.3 712.5 922.7 712 933.9C711.5 945.1 711.5 939.5 715.5 950.7C719.5 961.9 716.4 957.3 723.9 967.6C731.4 977.9 726.8 972.3 738 981.6C749.2 990.9 744.5 987.2 757.6 995.6C770.7 1004 763.7 998.1 777.2 1006.9C790.7 1015.7 788.4 1015 798 1022C807.6 1029 803.3 1026 806 1028L830 1065L985 1065L985 878Z" fill="#ffffff"/>
<path d="M427 395C427.9 400.2 428.4 392.4 429.7 410.7C431 429 429.9 420.2 431 450C432.1 479.8 431.3 474.5 433 500C434.7 525.5 430.5 508.8 436 526.4C441.5 544 437.3 536.3 449.5 552.8C461.7 569.3 456.2 562.8 472.7 576C489.2 589.2 481.4 584.8 499 592.5C516.6 600.2 510.2 597.9 525.5 599C540.8 600.1 534 601.3 545 595.8C556 590.3 551.8 593.6 558.5 582.6C565.2 571.6 558.5 575 565 562.8C571.5 550.6 567 555.9 578 546C589 536.1 582 538.4 598 533C614 527.6 610 531.4 626 529.7C642 528 635 531.3 646 528C657 524.7 653.7 526.9 659 519.8C664.3 512.7 655 513.2 662 506.6C669 500 667.3 507.5 680 500C692.7 492.5 689 496.7 700 484C711 471.3 705.7 480 713 462C720.3 444 717 445.8 722 430C727 414.2 718 422.7 728 414.7C738 406.7 736.3 411.2 752 406C767.7 400.8 759 402 775 399C791 396 786.7 397.3 800 397C813.3 396.7 805 399.3 815 398C825 396.7 820 396.7 830 393C840 389.3 835 389.7 845 387C855 384.3 855 385.7 860 385L880 360L880 150L395 150L395 400Z" fill="#d9c682"/>
<path d="M532 655C536.3 647.3 534 640.7 545 632C556 623.3 547.3 630.5 565 628.8C582.7 627.1 577.7 626.4 598 627C618.3 627.6 605.7 627.7 626 630.5C646.3 633.3 639.2 629.4 659 635.4C678.8 641.4 670.1 639.8 685.5 648.6C700.9 657.4 692.1 651.3 705.3 661.8C718.5 672.3 714 675.6 725 680C736 684.4 729.5 681.1 738.4 675C747.3 668.9 745 672.8 751.6 661.8C758.2 650.8 752.7 655.3 758.2 642C763.7 628.7 759.2 635.2 768 622C776.8 608.8 772.5 611.7 784.6 602.4C796.7 593.1 789 595.7 804.4 594C819.8 592.3 813.3 594.6 830.9 597.4C848.5 600.2 841.9 601.3 857.3 602.4C872.7 603.5 863.8 605.2 877 600.7C890.2 596.2 881.5 598.3 896.9 589C912.3 579.7 907.9 582 923.3 572.7C938.7 563.4 931 566.6 943.2 561C955.4 555.4 945.1 557.1 960 556C974.9 554.9 974.7 556.5 988 557.8C1001.3 559.1 996 559.3 1000 560L1005 565L1005 640L965 698L950 699C946.7 700 945.3 695.7 940 702C934.7 708.3 936.7 701.7 934 718C931.3 734.3 934.8 733.4 932 751C929.2 768.6 932.2 758.8 925.5 770.8C918.8 782.8 923 776 912 787C901 798 907.8 794.7 892.5 803.9C877.2 813.1 885.8 806.3 866 814.5C846.2 822.7 855 820.2 833 828.5C811 836.8 819 834.8 800 839.3C781 843.8 792.8 838.9 776 842C759.2 845.1 767.2 843.3 749.6 848.6C732 853.9 740.7 851.6 723.1 857.8C705.5 864 714.3 861.4 696.7 867.1C679.1 872.8 687.9 870.6 670.3 875C652.7 879.4 661.4 878.1 643.8 880.3C626.2 882.5 635 882.5 617.4 881.6C599.8 880.7 607.7 882.1 591 877.7C574.3 873.3 582.2 876.8 567.2 868.4C552.2 860 559.2 864.9 546 852.6C532.8 840.3 539 847.3 527.6 831.4C516.2 815.5 520.1 822.6 511.7 805C503.3 787.4 506.2 796.9 502.5 778.6C498.8 760.3 499.5 771.3 500.6 750C501.7 728.7 499.6 736.4 505.7 714.7C511.8 693 510.2 704.9 519 685C527.8 665.1 527.7 665 532 655Z" fill="#d9c682"/>
<path d="M230 700C230.5 703.7 230.3 696.3 231.6 711C232.9 725.7 235.2 723 234 744C232.8 765 234.3 754 228 774C221.7 794 221 790.2 215 803.9C209 817.6 211.7 811.3 210 815L150 835L55 835L55 800L222 695Z" fill="#d9c682"/>
<path d="M462 250C463.3 253.1 461.9 251.4 466 259.4C470.1 267.4 468.8 263.1 474.3 273.9C479.8 284.7 476.5 277.1 482.6 291.8C488.7 306.5 487 298.3 492.5 318C498 337.7 493.5 329 499 351C504.5 373 503.5 362 509 384C514.5 406 514.6 395 515.6 417C516.6 439 517.5 428 512 450C506.5 472 505 465.3 499 483C493 500.7 494 491.8 494 503C494 514.2 493 507.6 499 516.5C505 525.4 501 523.6 512 529.7C523 535.8 519.8 535.3 532 534.7C544.2 534.1 538.7 533.6 548.6 528C558.5 522.4 552 526.3 561.8 518C571.6 509.7 568.1 514.7 578 503C587.9 491.3 582.7 498.3 591.6 483C600.5 467.7 591.7 475.7 604.8 457C617.9 438.3 611.3 445.7 631 427C650.7 408.3 642 418.5 664 400.8C686 383.1 679.3 387.8 697 374C714.7 360.2 706 367.5 717 359.5C728 351.5 725.7 353.2 730 350L745 335L745 150L450 150L450 245Z" fill="#a6d390"/>
<path d="M571.6 761C572.1 754.3 571.4 751 573 741C574.6 731 569.8 740.9 576.5 731C583.2 721.1 580.9 725.6 593 711.4C605.1 697.2 600.7 701.5 612.8 688.3C624.9 675.1 616.2 679 629.4 671.8C642.6 664.6 633.8 667.9 652.5 666.8C671.2 665.7 665.7 665.2 685.5 668.5C705.3 671.8 694.4 669.5 712 676.7C729.6 683.9 723 683.9 738.4 690C753.8 696.1 747.2 694.9 758.2 694.9C769.2 694.9 765.9 693.3 771.4 690C776.9 686.7 770.3 691.1 774.7 685C779.1 678.9 776.9 680.6 784.6 671.8C792.3 663 786.8 666.2 797.8 658.5C808.8 650.8 802.2 655.2 817.6 648.6C833 642 826.4 645.3 844 638.7C861.6 632.1 852.9 635.4 870.5 628.8C888.1 622.2 879.3 625.5 896.9 618.9C914.5 612.3 909.4 613.4 923.3 609C937.2 604.6 924.8 606.8 938.7 605.7C952.6 604.6 952.9 605.6 965 605.7C977.1 605.8 971.7 605.9 975 606L990 612L990 678L945 680C940.7 680.3 943 678.3 932 681C921 683.7 925.2 682.3 912 688C898.8 693.7 903.5 690.3 892.5 698C881.5 705.7 885.6 700 879 711C872.4 722 879.2 717.7 872.7 731C866.2 744.3 872.7 738.8 859.5 751C846.3 763.2 852.8 756.5 833 767.5C813.2 778.5 823.3 773 800 784C776.7 795 786.3 790.7 763 800.6C739.7 810.5 752 806.1 730 813.8C708 821.5 719 819.3 697 823.7C675 828.1 686 827.6 664 827C642 826.4 653 829.7 631 822C609 814.3 615.1 817.6 598 803.9C580.9 790.2 588.6 795.1 579.8 780.8C571 766.5 574.3 767.6 571.6 761Z" fill="#a6d390"/>
<path d="M131 789C130.3 787.2 131.3 786.5 134 785.5C136.7 784.5 137 784.8 139 786C141 787.2 141 787.3 140 789C139 790.7 139 791 136 791C133 791 131.7 790.8 131 789Z" fill="#a6d390"/>
<path d="M516 215C516.6 219.5 517.1 215.7 517.7 228.4C518.3 241.1 516.3 236.5 517.7 253C519.1 269.5 518.4 262.8 521.8 278C525.2 293.2 521.3 283 528 298.6C534.7 314.2 529.7 309.5 542 324.8C554.3 340.1 546.3 335.9 565 344.6C583.7 353.3 576 350.5 598 351C620 351.5 613.1 351 631 346C648.9 341 639.3 343.4 651.6 336C663.9 328.6 657.7 331.7 668 323.9C678.3 316.1 673.6 319.5 682.6 312.5C691.6 305.5 690.9 306.2 695 303L725 290L725 150L516 150Z" fill="#8bc766"/>
<path d="M611.9 743.2C610.9 755.1 610.4 748.1 613.4 758C616.4 767.9 613.4 763.6 620.8 773C628.2 782.4 623.8 779.6 635.7 786.3C647.6 793 641.6 790.5 656.5 793C671.4 795.5 664.5 795 680.3 793.8C696.1 792.6 688.7 793.8 704 789.3C719.3 784.8 713.4 787.3 726.3 780.4C739.2 773.5 734.3 777 742.7 768.5C751.1 760 747.9 763.4 751.6 755C755.3 746.6 754.8 751.1 753.8 743.2C752.8 735.3 754.3 739.2 748.6 731.3C742.9 723.4 746.6 727.9 736.7 719.5C726.8 711.1 729.8 713.9 718.9 706C708 698.1 714.9 702.4 704 695.7C693.1 689 698.6 690.5 686.2 686C673.8 681.5 678.8 683 666.9 682.3C655 681.6 660.4 680.8 650.5 683.8C640.6 686.8 645.6 684.3 637.2 691.2C628.8 698.1 632.2 694.2 625.3 704.6C618.4 715 620.9 709.5 616.4 722.4C611.9 735.3 612.9 731.3 611.9 743.2Z" fill="#8bc766"/>
<path d="M921 646C917.7 642.8 921.7 643.3 925 640.5C928.3 637.7 925.7 639.3 931 637.5C936.3 635.7 936 632.5 941 635C946 637.5 948 640 946 645C944 650 943.3 649.7 935 650C926.7 650.3 924.3 649.2 921 646Z" fill="#8bc766"/>
<path d="M561.4 281C560.7 290.3 560.3 286.3 563.5 293C566.7 299.7 564.8 297.2 571 301C577.2 304.8 573.3 304 582 304.5C590.7 305 587.3 305.7 597 302.5C606.7 299.3 603.5 301.2 611 295C618.5 288.8 615.8 291.7 619.5 284C623.2 276.3 622.5 279.5 622 272C621.5 264.5 622.7 267.2 618 261.5C613.3 255.8 616.7 257.8 608 255C599.3 252.2 602.7 252.7 592 253C581.3 253.3 584.8 252 576 256C567.2 260 570.4 256.7 565.5 265C560.6 273.3 562.1 271.7 561.4 281Z" fill="#70bf4b"/>
<path d="M634.9 729.9C634.9 738.8 634 734.8 637.2 743.2C640.4 751.6 638.2 748.3 644.6 755C651 761.7 647.6 759.8 656.5 763.3C665.4 766.8 660.9 765.7 671.3 765.5C681.7 765.3 676.8 766.1 687.7 762.6C698.6 759.1 695.3 761.5 704 755C712.7 748.5 709.5 751.1 713.7 743.2C717.9 735.3 716.9 738.7 716.7 731.3C716.5 723.9 717.2 727.3 713 720.9C708.8 714.5 710.9 718.4 704 712C697.1 705.6 700.1 707.3 692.2 701.6C684.3 695.9 688.7 697.6 680.3 694.9C671.9 692.2 675.8 692.7 666.9 693.4C658 694.1 661.5 692.8 653.5 697C645.5 701.2 648.4 699.5 643 706C637.6 712.5 639.9 708.5 637.2 716.5C634.5 724.5 634.9 721 634.9 729.9Z" fill="#70bf4b"/>
<path d="M649.8 719.5C649.1 725.5 649.1 723 651.3 728.4C653.5 733.8 651.8 731.6 656.5 735.8C661.2 740 659 739 665.4 741C671.8 743 668.9 743 675.8 741.8C682.7 740.6 680.5 741.3 686.2 737.3C691.9 733.3 690.2 735.4 692.9 729.9C695.6 724.4 695.1 726.9 694.4 720.9C693.7 714.9 694.4 717.2 690.7 712C687 706.8 689.2 708.5 683.2 705.3C677.2 702.1 679.7 702.9 672.8 702.4C665.9 701.9 668.8 701.1 662.4 703.8C656 706.5 657.7 705.3 653.5 710.5C649.3 715.7 650.5 713.5 649.8 719.5Z" fill="#2daa4f"/>
<path d="M664 712C663.3 716.2 663.7 715.7 666 719C668.3 722.3 667.7 722 671 722C674.3 722 674 722.3 676 719C678 715.7 677.7 716 677 712C676.3 708 677 708.8 674 707C671 705.2 671.3 704.8 668 706.5C664.7 708.2 664.7 707.8 664 712Z" fill="#1f9d55"/>
<path d="M1001.5 461.3l7.2 2.8 7.3 2.7 7.4 2.3M1001.5 461.3l1.4-7.9 2.9-7.6 2-7.7M1033.1 431.7l-14.3-4.1M1033.1 431.7l2 8.2 1.1 8.2-1.8 8.4M1034.4 456.5l-6.2 5.7-4.8 6.9M1007.8 438.1l11-10.5M1034.1 493.5l-9.2-2.9M1034.1 493.5l1.2 7.6 1.9 7.5-1.1 7.9 1.1 7.6M1024.9 490.6l-7.1 2.5-6.7 3.4-7 3M1007.6 513l-3.5-13.5M1007.6 513l8.4 5.7 9.7 2.6 9.3 3.5M1037.2 524.1l-2.2 .7M1033.1 431.7l10.3-3.8M507.2 917.4l-6.5 5.7-6.3 5.9-6.8 5.3-5.8 6.5M507.2 917.4l-8.1-3.6-6.7-5.7-7.6-4.4-6.8-5.4-6.9-5.4M481.8 940.8l-9.9-.2-9.7-1.9-9.7-1.8-9.6-3.2-9.9-.2-9.6-2.8-10 .1M471.1 892.9l-8.8 .1-8.6 1.3-8.8 .6-8.6 1.2M436.3 896.1l-6.1 8-4.3 9.1-5.3 8.5-7.6 6.8M413.4 930.8l-.4-2.3M305.1 1094l-9.7-.7-9.3-3.2-9.9 .8-9.7-.3-9.4-3-9.3-2.7M305.1 1094l4.7-6.3 4.5-6.6 4.7-6.3 6.2-5.1M258.2 1042.7l9.2-3.5 9.1-4.4 9.9-1.6 9.7-2.1M258.2 1042.7l-4.9 8.4-1.9 9.3-2.2 9.2-3.8 8.7M245.4 1078.3l2.4 6.6M296.1 1031.1l7.2 6.7 3.8 9.3 6.2 7.4 7.1 6.8 4.8 8.4M386.7 670.3l-9.8 .9-9.2 3.5-9.7 1.3-9.6 1.7M386.7 670.3l.9 8.1 3.7 7.3M391.3 685.7l-5.7 8.3-6.6 7.5-8.4 5.6M348.4 677.7l4.3 8.4 5.3 7.4 7.1 6.2 5.5 7.4M1001.5 461.3l-2.3 1.7M1024.9 490.6l.9-7.3-2.8-7 .4-7.2M1004.1 499.5l-6.7-2.8M999.2 463l.7 8.5-1.3 8.4-1 8.3-.2 8.5M1000 410.7l-8.3 3.7-8.9 1.6-8.6 2.4-9.2 0M1007.8 438.1l-8-1-8.1 .2-8-1.2-8 2.3M975.7 438.4l-5.2-5.8-1.9-7.6-3.6-6.6M195.3 1068.8l8.6 .2 8.3 2.1 8 3.2 8.1 2.8 8.5 .9 8.6 .3M1023.2 538.1l4.7 7 5.3 6.7 3.8 7.6M1023.2 538.1l-7.2 1.1-7.5-1.5-7 2.4M1001.5 540.1l-5.7 5.7M995.8 545.8l3.4 9.1 6.2 7.4 5 8.1M1037.2 524.1l3.6 1.3M1035 524.8l-7.1 5.6-4.7 7.7M1052.1 543.5l-4.1-5.9-2-7-5.2-5.2M1007.6 513l-1.9 9-1.6 9.2-2.6 8.9M1158 433.5l-9.6 1.5-9.9-.3-9.7 1.7-9.5 3-9.7 1.4-9.7 .9-10-2-9.6 1.9M1080.3 441.6l-2.7-9.2-3.7-8.8-2.4-9.3-5.8-7.9M1034.4 456.5l6.8 4.5 6.5 5M1043.4 427.9l7.8 6.3 6.1 7.9 6.5 7.6 6.1 7.9M1047.7 466l7.6-2.3 6.7-4.6 7.9-1.5M1120.5 475.4l-8.6-1.7-8.7-1.4-8.6-1.6-8.8-1.2-8.3-2.9M1080.3 441.6l-5.2 7.8-4 8.5M1077.5 466.6l-6.4-8.7M459.4 770.6l-3.9 7.5-3.7 7.6-2.9 7.9M459.4 770.6l8.3 2.6 8.2 2.7 8.3 2.2 6.8 6.1 8 3.1M448.9 793.6l9.1 .1 9 1.3 9.1-.1 8.9 1.9 8.7 3.1M493.7 799.9l5.3-12.6M537.5 929.4l-4.7-5.1M537.5 929.4l8.9 .9 9.1-.3 8.8 2.3M611.8 883.5l-3.7 8.1-2.6 8.6-5.6 7.4-1.6 9.1-4.8 7.6M611.8 883.5l-2.4-4.4M534.4 922l-1.6 2.3M534.4 922l8.7-3.7 7.1-6.1 8.4-4.1 7.1-6.1 6.5-7 8.6-3.8 8.8-3.5 6.6-6.8 7.8-5.1M604 875.8l5.4 3.3M564.3 932.3l7.6-.8 6.8-3.8 7.9 0 6.9-3.4M611.8 883.5l7.3 3.8 7.3 4 7 4.5M593.5 924.3l7.4 5 7.8 4.2 8.5 2.5 8 3.8M633.4 895.8l.2 9.2-2 8.7-2.7 8.6-.2 9-3.5 8.5M564.3 932.3l6.3 7 7.7 5.8 5 8.2 8.3 5.2 5.2 8.2 6.9 6.4M603.7 973.1l6.6-5.8 4.4-7.9 7.3-5.2 5.3-7M627.3 947.2l-.3-4.8M625.2 939.8l1.8 2.6M247.8 1084.9l-.1 9.7-3 9.4-1.4 9.6-.1 9.8M391.3 685.7l11.8 8M370.6 707.1l-.1 2.6M403.1 693.7l-3.7 9.3-.3 10-1.1 9.8-1.9 9.7M370.5 709.7l7.4 4.5 4.8 7.6 5.7 6.5 7.7 4.2M348.4 677.7l-13.2-4.5M370.5 709.7l-7.2 5.9-8.4 3.8M320.7 710.6l8.3 3.4 8.2 3.4 8.9 1 8.8 1M320.7 710.6l3.8-8.6 1.3-9.4 4-8.6 2.1-9.1M335.2 673.2l-3.3 1.7M43.2 842.1l8.6-4.8 9.2-3.4 9.4-2.6 9.5-2.5 9-3.9 8.4-5.3 9.5-2.4 9.2-3.4M965 418.4l-3.4-1.9M961.6 416.5l-.2-8.1-1-8.1 .7-8.2-1.7-8M999.2 463l-14.4-2.1M984.8 460.9l-4.5-6.9-2-7.8-2.7-7.5M456.7 202.1l9.4 3.2 10 .2 9.6 2.5M485.7 208l5.1-8.4 6.3-7.7 4.4-9 6.6-7.5 5.3-8.4 6.3-7.6 4.2-9.2 6.5-7.5M240.4 1005.3l6.7-7.2 7.3-6.6 7.8-5.9 8.2-5.5 6.9-7 6.6-7.2 7.4-6.4M249.2 945.5l8.8 1.5 7.7 4.9 9.2 .6 7.6 5.2 8.8 1.8M306.1 1022l-10 9.1M306.1 1022l-.7-9.3-2.8-9.1-1-9.3-.5-9.3 1.4-9.5-2.1-9.1-.8-9.3M299.6 957.1l-8.3 2.4M726.2 821.7l-1.5-14M726.2 821.7l9.9-.3 9.7 1.8 9.6 1.8M724.7 807.7l6.5-4 7.3-2.9 5.6-5.5 6.5-4M750.6 791.3l3.3 7.7 1.8 8.5 5.4 6.8M761.1 814.3l-5.7 10.7M715.4 839.4l8.4 4.1 9 2.3 9.3 1.8 8.4 4 8.2 4.5M715.4 839.4l4.2-5.5 2.9-6.4 3.7-5.8M758.7 856.1l-1.2-7.7 .9-8-2.6-7.5-.4-7.9M751.1 788.4l-5.3-11.5M751.1 788.4l-.5 2.9M745.8 776.9l-8.6 3.7-9.4-.5-8.4 4.3-9.3 .4M710.1 784.8l3.7 15.5M713.8 800.3l10.9 7.4M799.4 811.3l-3.5-7.1-1-7.9-4.3-6.8-.7-8M799.4 811.3l-.9 2.4M798.5 813.7l-9.3 .2-9.4 1.8-9.4-2.2-9.3 .8M789.9 781.5l-9.5 2.7-9.8 1.1-9.6 2.7-9.9 .4M385.9 642.3l6.1-7.5 8.8-4.7 6.5-7.1M385.9 642.3l-8.4-3-6.5-6.3-8.5-2.9M407.3 623l-3.8-8-4.9-7.2-5.7-6.7-5.7-6.6M362.5 630.1l1.2-8.3 3.8-7.5 3.6-7.5 2.6-7.8M387.2 594.5l-13.5 4.5M386.7 670.3l5.2-12.4M391.9 657.9l-3.3-7.6-2.7-8M349.8 633.7l-4 7.5-2.5 8.1-2.3 8.1-2.7 8-3.1 7.8M349.8 633.7l12.7-3.6M243.2 1123.4l7.3 7.1 9.9 3 8.8 4.7 8.3 5.6 7.9 6.1 7.9 6.1 8.2 5.6M301.5 1161.6l-6.4 6-5.8 6.6-4.6 7.8-6 6.3-7.2 5.3M1036.6 492.9l11.9-9.7M1036.6 492.9l7.2 3.7 7.1 3.9 5 6.8 7.1 3.8M1048.5 483.2l9.1 .6 8.9 1.6M1066.5 485.4l1.5 9 2.7 8.5 5.5 7.5M1063 511.1l13.2-.7M1034.1 493.5l2.5-.6M1047.7 466l-.8 8.6 1.6 8.6M1040.8 525.4l7.2-5.1 8.5-3.1 6.5-6.1M1077.5 466.6l-2.3 7.1-6.1 4.8-2.6 6.9M1079.8 512.5l-3.6-2.1M149.2 799.7l.8-9.7 .3-9.6 1.8-9.6M152.1 770.8l-9.5-1.4-9.6-1.1-9.7 1.5-9.6-.1-9.7 1.1-9.5-2.8M120.4 807.8l-4.5-8.4-4.2-8.6-4.6-8.3-6.3-7.3-6.3-7.2M160.9 754.2l-3.5 8.8-5.3 7.8M349.8 633.7l-6.1-4-6.8-3.1-4.3-6.3M351.6 579.1l-8.9-2.1M351.6 579.1l7.9 6.1 6 8.1 8.2 5.7M332.6 620.3l1.6-8.7 2.1-8.7 2.6-8.5 2.3-8.6 1.5-8.8M425.7 811.1l-.7 8.4-2.8 8-2.4 8.1-1.5 8.3-.9 8.5-1.9 8.2M425.7 811.1l8.3 5.4 7.9 6 9.2 4 7.2 7.1 8.5 4.9M466.8 838.5l-3.5 9.3-2 9.7M461.3 857.5l-9.5 3-10 1.4-9.2 3.9-9.6 2.7M415.5 860.6l1.4 4M423 868.5l-6.1-3.9M448.9 793.6l-6.7 7.2-8 5.5-8.6 4.6M493.7 799.9l-1.5 7-.7 7 2.8 6.9M482 834.2l5.2-7.6 7.1-5.8M482 834.2l-15.2 4.3M509.5 917l-2.3 .4M509.5 917l-.7-8.4 2.4-8.3-.2-8.4-1.8-8.4 1.7-8.4M471.1 892.9l-1-9.2-4.9-8.2-2.6-8.8-1.3-9.2M510.9 875.1l-6-5.9-3.3-7.9-3.9-7.5-6.2-5.8-3.5-7.7-6-6.1M436.3 896.1l-3.5-6.8-5-6.1-.7-8.2-4.1-6.5M164.1 752.5l7.3-.5M171.4 752l7 5 6.4 5.9 8.8 2.2 6.7 5.4M162.5 813l7.7-4.6 8-3.5 8.3-2.6 8.3-2.6 8.7-1.7 8.3-2.7M200.3 770.5l2.7 8.7 5.3 7.6 3.5 8.5M458.7 761.5l-8.3-2.8-8.9 .8-8.5-2M458.7 761.5l5.5-8.3M464.2 753.2l-2.7-9-4.8-8-3.5-8.7M433 757.5l1-9.5 1.5-9.4-2.4-9.5M453.2 727.5l-6.6 1.3-6.6 1.4-6.9-1.1M403.1 693.7l8.1-.6 8.2-.7 8.1-1.1M396.3 732.9l7.6-1.7 7.3-2.4 7.9-.4 7.1-3.3M426.2 725.1l1.7-8.4-.3-8.4 .6-8.5-.7-8.5M398.1 502.5l-3.1 8.4-.9 8.9 .2 9.1-4.1 8.2-1.2 8.8M398.1 502.5l-7.8-8.7M389 545.9l-7.6-1.9-7.8-.9-7.7-1.2-7-3.8M390.3 493.8l-8.3-1.8-7.7-3.7M353.4 518.6l1.1 6.7 .9 6.8 3.5 6M581.1 239.4l5.3-4.7 6.4-2.3 6.6-2M581.1 239.4l2.4 8.5 4.7 7.8 2 8.6 1.8 8.8M615.6 240.6l-3.3 8.4 .5 9.2-2.8 8.5M610 266.7l-8.7 2.7-8.1 4.3M629.6 313.6l7.9-.6 7.5-2.7 7.9-.4M629.6 313.6l-2-8-1.8-7.9-.6-8.2 .1-8.3-2.6-7.8M652.9 309.9l-1.8-7.9-3-7.8-2.2-7.8 .1-8.5-2.3-7.8M622.7 273.4l6.7-2.8 7.1-.4 7.2-.1M591 301.5l1-9.3 1-9.2 .2-9.3M591 301.5l6.1 6.2 6.8 5.4 8.1 3.4 7.1 4.8M619.1 321.3l10.5-7.7M610 266.7l12.7 6.7M591 301.5l-9 4.6M582 306.1l-.9 7.9-2.5 7.4-3.3 7.1-3.2 7.1M619.1 321.3l-2.7 15.2M572.1 335.6l7.5 2.6 7.4 2.9 6.3 5 6.7 4.1M616.4 336.5l-6.2 3.7-5.5 4.5-4.7 5.5M275.7 885.8l-6.9 4.9-8.2 2.4-6.9 4.8-6.7 5.3-8.4 1.9M275.7 885.8l7.4 6 7.7 5.5M299.6 957.1l4.3-4.3M303.9 952.8l-4-8.8-3.2-9 .7-9.9-3.1-9.1-.6-9.6-2.9-9.1M353 997.6l-4.2 8.6-6.7 6.6-6.1 7.1M353 997.6l-2.5-8.4-1.4-8.7-3.9-8-2.6-8.3-2.4-8.5M336 1019.9l-7.5-.2-7.6-.5-7.5-.5-7.3 3.3M303.9 952.8l9.2-.9 8.9 3.3 9 1.4 9.2-.9M884.9 939.3l-2.2-6.4-.6-7-3.2-6.1M884.9 939.3l-5.5 7.5-6.6 6.5M878.9 919.8l-8.3-1.9-7.4-4.7-8.4-1.7M872.8 953.3l-8.3-.1-7.8-3.3-8-1.6-8.3 0M854.8 911.5l-14.8 4.7M840 916.2l-3.4 6.5-3 6.7-5.4 5.1M840.4 948.3l-6-7-6.2-6.8M893.8 982.2l5.6 6.3 5.8 6.3 3.6 8 5.1 6.8 7.1 5.1M893.8 982.2l-12.9-.6M921 1014.7l-6.4 13.6M880.9 981.6l-8.8 11.4M904.9 1031.5l-6.4-5.1-7.5-2.8-7.2-3.6-7.4-3M876.4 1017l-1.6-7.9 .1-8.3-2.8-7.8M732 1037.1l5.3-6.7 3.4-7.7 4.8-6.9 2.8-8.1 4.4-7.1M732 1037.1l3.2 8.1 4.3 7.6 4.2 7.7M775.1 1008.1l-7.2-3.2-7.6-2.3-7.6-2M775.1 1008.1l-.9 8.4-.3 8.3 1.5 8.3 1.2 8.3-.1 8.3M776.5 1049.7l-8.3 2.6-8.3 2.2-8 3.3-8.2 2.7M791.7 775.9l-4.8-5.3-3.1-6.5-4.6-5.4M791.7 775.9l6.8-3.6 6.2-4.7 7.2-3.1M811.9 764.5l.5-7.1-2.7-6.7-1.1-6.9M781.5 748.8l-2.3 9.9M781.5 748.8l5.8-4.1 6.5-3.1 5.3-4.9M799.1 736.7l9.5 7.1M537.5 929.4l2.5 9.2 1 9.4-1.3 9.6 1.6 9.3M541.3 966.9l7.1 4.7 6.3 5.5 6.1 5.9 5 6.9 6.2 5.7M603.7 973.1l-1.1 7.5M572 995.6l7.3-4.3 8.5-2.1 7.3-4.4 7.5-4.2M853.5 1036l8.5-5.3 8.1-5.7 6.3-8M853.5 1036l1.9 8 1.7 8.1 2.1 8M921 1014.7l5.3-6.6 7.3-4.2 6.9-4.6 6.7-4.9M500 786.2l7.7-1.8 8.1 .5 7.9-.7 7.3-3.7M531 780.5l9.3 5.1M494.3 820.8l9.1 2 8.9 2.6 9 2.3M540.3 785.6l-4.8 8-2 9.2-3.6 8.5-4.1 8.3-4.5 8.1M575.3 774.4l7.6 4.9 7 5.6 6.6 6 5.4 7.3M575.3 774.4l-5.6 5.8-6.3 4.9-7.7 2.8M559.4 809.7l-2.4-7.1 .9-7.6-2.2-7.1M559.4 809.7l7.5 3.1 6.9 4.1 6 5.5 6.7 4.4M586.5 826.8l2.5-7.9 4.8-6.6 2.6-7.8 5.5-6.3M604 875.8l-5.7-7.3-5.5-7.4M609.4 879.1l7.5-5.3 5.2-7.6 7.5-5.1 6.7-6.1 5.6-7.2M641.8 837.5l.1 10.3M641.8 837.5l-6.2-13.2M592.8 861.1l-.3-9 .5-9.1M593 843l8-5 8.4-3.9 9.4-1.7 8.6-3.7 8.2-4.4M633.4 895.8l9 .2 9-.5 8.9-1.3M641.9 847.8l5.7 6.7 4.9 7.5 6.8 5.8 5.9 6.5 6.6 5.9M671.8 880.2l-6.1 6.7-5.4 7.3M627 942.4l7.2-5.3 7.7-4.4 8.6-2.5 7.6-4.6 8.8-2M660.3 894.2l1 7.5 1.5 7.4 1.3 7.4 2.8 7.1M798.5 813.7l3.7 8.6 .7 9.3M758.7 856.1l6.5 10M802.9 831.6l-4.6 8.5-5.5 8-3.5 9.2-5 8.3-5.6 7.9M765.2 866.1l13.5 7.4M779.6 917l7.1 4.7 7.7 3.2 8.1 2.5 7.4 3.8 7.7 3.4M779.6 917l-2.5-3.7M840 916.2l-3.8-9-4-8.9-.7-9.9-2.1-9.4M829.4 879l-9.6-1.5-9.7 2.1-9.7-1.6-9.7 1.1-9.6-.4M817.6 934.6l10.6-.1M777.1 913.3l1.4-8.6 1.5-8.6 .7-8.6 .4-8.8M802.9 831.6l10 1.3 9.2 4 9.9 1.5M832 838.4l3 7.7 2.5 7.7 1.7 7.9 .6 8.2M839.8 869.9l-10.4 9.1M778.7 873.5l2.4 5.2M285.2 650.7l-2 7.8-3.5 7.3-3.3 7.3 .4 8.4M285.2 650.7l8.5-1.3 8.7-.8M276.8 681.5l9.1-.9 8.5-3.4 8.6-3 9.3-.7 8.3-3.9M302.4 648.6l6.7 6.5 4.9 8 6.6 6.5M320.7 710.6l-5.5 5.4M331.9 674.9l-11.3-5.3M315.2 716l-7-5-7.3-4.7-5.6-7-8.2-3.4-6.5-5.8-6.2-6M274.4 684.1l2.4-2.6M332.6 620.3l-6.8-.5M302.4 648.6l3.5-9.4 1.5-10M307.4 629.2l7-1.4 5.9-3.6 5.5-4.4M354.9 719.4l-.2 6.8 1.2 6.6 1.4 6.6M312.2 723.6l3-7.6M312.2 723.6l8.1 5 7.5 5.6 8.2 4.8 6 7.6M342 746.6l7.3-4.2 8-3M458.7 761.5l.7 9.1M425.6 810.9l-2.9-1.8M433 757.5l-12.3 9.5M422.7 809.1l-.8-8.4 1-8.5-.2-8.4-2.8-8.3 .8-8.5M343.5 953.5l-3.3 2.2M343.5 953.5l1.8-9.5 4.8-8.6 2-9.4 2.5-9.3M303.4 894.2l10.1-.1 9.9 1 9.1 4.9 9.8 1.8M303.4 894.2l-12.6 3.1M354.6 916.7l-7.1-6.7-5.2-8.2M404.4 954.2l2.5-8 3.5-7.6 3-7.8M404.4 954.2l-8.6-.7-8.7-1-8.7-1-8.8 2.3-8.7-1-8.7 1.7-8.7-1M413 928.5l-5.2-7.8-6.4-6.5-8-5-6.3-6.6M354.6 916.7l8.7-2.1 7.1-5.8 9.1-1.5 7.6-4.7M416.9 864.6l-7 5.2-4.3 7.9-6.7 5.5-6 6.3-6.3 5.9M387.1 902.6l-.5-7.2M383.3 835.1l3.3 6.2 3.6 6.2 1.3 7.1M383.3 835.1l-7.1 4.3-7.1 3.9-8.5 .3M391.5 854.6l-8.7 4.5-6.1 7.9-8.2 5.1M360.6 843.6l-2.2 6.6-1.9 6.7-1.7 6.7M368.5 872.1l-10.9-5.1M354.8 863.6l2.8 3.4M398.8 808.1l-3 7.2-4.3 6.5-5.2 6.1-3 7.2M415.5 860.6l-7.8-2.8-8.3-.6-7.9-2.6M422.7 809.1l-8-.2-7.8-2.1-8 1.2M347.3 817l8.9 .2 8.6-1.3 8.7-1.2 8.1-3.8 8.9-.1 8.3-2.7M347.3 817l3.3 9.5 5.9 8.1 4.1 9M386.6 895.4l-7.6-6.6-4.8-8.7-5.7-8M339.2 862.1l15.6 1.5M339.2 862.1l-6.6-7.4-6.4-7.5-7.1-6.8-6.1-7.9M313 832.5l6.8-5.6 7.9-4 7.1-5.3 8.4-3M343.2 814.6l4.1 2.4M342.3 901.8l4.6-8.4 2.9-9 3.7-8.8 4.1-8.6M339.2 862.1l-5.9 7.7-6.7 7-7.3 6.3-7.4 6.1-8.5 5M312.2 723.6l-6.2 6-7.3 4.8-4.7 7.6M342 746.6l-.5 8.6 .1 8.6 1 8.6-2.7 8.4M339.9 780.8l-9.1-2.5-9.4-.5M321.4 777.8l-6.3-6.6-6-6.7-5.7-7-3.5-8.7-5.9-6.8M274.4 684.1l-7.9 2M263.3 710.6l0-8.3 .9-8.2 2.3-8M263.3 710.6l3.6 7.5 3.9 7.4 4.6 6.9 4.5 6.9M294 742l-2.7 .5M279.9 739.3l11.4 3.2M430.2 679.4l5-6.6 6.6-4.9 6.6-4.8 5.4-6M430.2 679.4l-2.1 11.3M428.1 690.7l8.8 4.5 9.4 2.7 8.8 4.6 9.7 1.9M453.8 657.1l5 7.3 2.8 8.5 5.1 7.2 4 7.9 3.5 8.1M474.2 696.1l-9.4 8.3M391.9 657.9l8 .9 8 .5M407.9 659.3l6.8 7.4 6.6 7.7 8.9 5M461.6 716.9l-8.4 10.6M461.6 716.9l3.2-12.5M433.1 729.1l-6.9-4M358.9 538.1l-5.7 6.5-7.6 3.9M390.7 549.7l-1.7-3.8M390.7 549.7l6.4 5.8M398.1 502.5l8.7 2.9 9.2-.9M416 504.5l6.8 7.3 7.7 6.3 8.1 5.8M438.6 523.9l-1.8 8.5-3.4 8.1 0 8.9M433.4 549.4l-9.4-.2-8.7 3.3-9 2.1-9.2 .9M390.7 549.7l-8.7 4.6-8 5.7-8.3 5.3-7.3 6.5-6.8 7.3M387.2 594.5l5.9-7.1 6.2-6.9M399.3 580.5l.2-8.4-1.2-8.3-1.2-8.3M567.4 302.9l-2.9-7.1-2.4-7.4-4.4-6.3-3.4-6.9M567.4 302.9l-5.7 3.7-6.7 1.4-5.8 3.5M549.2 311.5l-5.4-4.6-2.6-6.8-5.5-4.5M535.7 295.6l.5-5M536.2 290.6l5.2-6.1 7.3-3.7 5.6-5.6M582 306.1l-14.6-3.2M592 273.1l-8.6-1.7-8.8-.8-8.5-2-8.9 .4M557.2 269l-2.9 6.2M485.7 208l9.8 12.4M449.6 237.4l8.5 .6 8.3-1.8 8.4 .4 8.3-1.8 8.4-1.1M495.5 220.4l-4 13.3M449.6 237.4l5.7 6.5 6.2 6.1 5.3 7 5.6 6.7 7.8 4.4M480.2 268.1l8.3-2 8.2-1.9 8.5-.6M505.2 263.6l1.7-3.6M491.5 233.7l3.8 6.5 4.6 6.2 2.8 7.2 4.2 6.4M591.3 451.1l4.4 6.5 2.7 7.3 4 6.7 2.7 7.3M591.3 451.1l-7.1 6.6-8.2 5.2-8.4 4.9M567.6 467.8l-1.1 4.8M566.6 472.8l7.5 5.4 8.5 3.5 8.2 4.3 8.1 4.3M598.9 490.3l6.2-11.4M940.2 725l-12.2-9.3M959.7 707.7l-7.1-6.6-5.6-7.6-6-7.4-5.7-7.7M927.5 686.2l-.1 9.8 1.8 9.8-1.2 9.9M927.5 686.2l2.8-8.1M930.3 678.1l5 .3M370.6 445.3l8.3-1.5 8.3-.1 8.3 1.9 8.3 .7M412.3 418.2l-3.9 9.1-2.8 9.4-1.8 9.6M436.2 383.1l-9.1 2.2-9.3 .5-9.2 1-9.1 2.1-9 2.6-8.9 2.8-9.5-.9M436.2 383.1l-3 7.8-.3 8.2M412.3 418.2l5.9-7.4 6.5-6.8 8.2-4.9M390.3 493.8l6.1-5.7 4.9-6.5 4.9-6.6 1.8-8.5 4.4-6.9M412.4 459.6l-8.6-13.3M710.1 784.8l-4.6-4.6M713.8 800.3l-5.5 3.7-4.8 5-6.5 2.3M697 811.3l-6.7-6.3-8.5-3.8M681.8 801.2l2.8-15.1M705.5 780.2l-6.6 3.3-6.8 2.7-7.5-.1M789.9 781.5l1.8-5.6M745.8 776.9l-.2-11.7M779.2 758.7l-9.7-1.4-9.7 2.2-9.7-.1M745.6 765.2l4.5-5.8M828.2 1022.4l2.5-7.8 4.6-7.1 2.6-7.9 1.9-8.1M828.2 1022.4l-8.3-1.8-7.1-4.6-7.4-4.2-7.8-3-8-2.3-8.4-1.5M781.2 1005l3.4-7.9 5.8-6.4 3.7-7.5M835.2 984.2l-9.1-2.3-9.3 .4-9-2.2-9.3 .6M835.2 984.2l4.6 7.3M798.5 980.7l-4.4 2.5M828.7 1023.6l7.4 5.9 8.2 4.1 9.2 2.4M872.1 993l-8.1 0-8.1 .8-8-1.8-8.1-.5M775.1 1008.1l6.1-3.1M772.6 948.7l5 6.5 4.6 6.7 4.6 6.7 4.5 6.8 2.8 7.8M772.6 948.7l-7.3 4.9-6.3 6-6.7 5.4-5.9 6.6-6.9 5.2-6.3 6.1M733.2 982.9l5.8 6.6 7.9 4.5 5.8 6.6M840.4 948.3l-1.9 8.9-.9 9 .3 9.2-2.7 8.8M817.6 934.6l-2.5 9.7-5 8.8-2.1 9.9-4.9 8.8-4.6 8.9M880.9 981.6l-4.1-9-2.9-9.4-1.1-9.9M779.6 917l-2.3 7.8-.6 8.2-3.8 7.5-.3 8.2M947.5 936.6l-4.5 8.2-4.5 8.1-4.9 8-1.9 9.4M922.9 922.6l-6.1 6.5-6.1 6.4-8 4M902.7 939.5l4.5 6.6 3.5 7.1 3.8 7 3 7.4M917.5 967.6l14.2 2.7M947.2 994.4l-4.3-8.6-5.6-7.8-5.6-7.7M889.8 902.3l8.6-1.5 8.6 1.2 8.7 .4M889.8 902.3l-5.2 4.9-2.1 6.8-3.6 5.8M884.9 939.3l8.9-.5 8.9 .7M915.7 902.4l.6 7.3 3.7 6.3 2.9 6.6M893.8 982.2l8.3-4.2 8.5-3.9 6.9-6.5M854.8 911.5l4.9-7.7 4-8.3 2.5-8.8 3-8.7M839.8 869.9l7.9 1.8 8 .5 7.9-1.5M863.6 870.7l5.6 7.3M889.8 902.3l-3.5-7.1-4.5-6.4-3.8-6.9M878 881.9l-8.8-3.9M799.4 811.3l8.2-1.8 6.4-5.5 7.8-2.7 7.1-4.2 7.4-3.5M811.9 764.5l1.8 .6M813.7 765.1l4.4 8.1 7.6 5.6 4.4 8.1 6.2 6.7M831.4 730.5l-6.9 5.6-7.9 3.9-8 3.8M831.4 730.5l12.9 6.8M813.7 765.1l8.6-1.7 7.8-3.6 7.2-4.8M837.3 755l5.8-5.8 2.9-7.7M844.3 737.3l1.7 4.2M674.7 1046.4l8.4-1.5 6.9-5M674.7 1046.4l-6.5-6.5-5-7.6-5.1-7.5-3.2-8.9-5.7-7.1-5.9-6.9M661.2 982.8l6.6 6.8 5.1 8.1 4.6 8.5 5.3 7.8 5.5 7.8 8.3 5.4M661.2 982.8l-5.5 6.8-6.7 5.7-5.7 6.6M690 1039.9l6.1-8.6M696.1 1031.3l.5-4.1M627.3 947.2l7.9 5.3 7.3 6 5.9 7.6 7 6.4 7.6 5.5M663 978l-1.8 4.8M602.6 980.6l7.2 5.8 7 6 6.2 6.8 6.1 7M629.1 1006.2l14.2-4.3M732 1037.1l-8.8-2.7-9.2 .3-9.2-.1-8.7-3.3M743.7 1060.5l-4.7 8.3-6.6 7-4.4 8.5M728 1084.3l-6.3-7.5-6.9-6.9-5.9-7.7-5.5-8.2-6.9-6.9-6.5-7.2M652.9 309.9l2.1 .5M616.4 336.5l5.1 6.1 7 3.6 5.6 5.5 6.8 3.9M655 350.6l-14.1 5M655 350.6l1.3-9.3 4-8.7 .9-9.3M661.2 323.3l-6.2-12.9M643.7 270.1l7.3-5.7 6.9-6.2M655 310.4l7-5.8 8.1-4.2 7.3-5.3M657.9 258.2l2.7 8 2.8 7.9 4.2 7.3 5.5 6.5 4.3 7.2M657.9 258.2l3.5-7.6 4.2-7.4 1.2-8.5 4.4-7.3 .7-8.7M528.8 849.6l2.4-12.9M528.8 849.6l7.5 5 6.3 6.7 7 5.6 8.8 3.1M531.2 836.7l15.2-3.8M546.4 832.9l8.7 7M555.1 839.9l2.6 8.9 3.5 8.6 .8 9.4M558.4 870l3.6-3.2M510.9 875.1l5.2-5.8 2.9-7.6 4.5-6.4 5.3-5.7M521.3 827.7l9.9 9M509.5 917l8.1 1.3 7.9 2 7.3 4M534.4 922l2.7-9.3 5.2-8.1 3-9.1 5.7-7.9 3-9.1 4.4-8.5M559.4 809.7l-4.5 7.6-4 7.9-4.5 7.7M555.7 787.9l-15.4-2.3M586.5 826.8l2.5 10.6M589 837.4l-8.5 .3-8.3 2.4-8.7-1.8-8.4 1.6M592.8 861.1l-7.4 3.4-7.8 .5-7.6 2-8-.2M593 843l-4-5.6M673.3 879.7l7.8 5.8 7.9 5.7 9.5 3 8 5.5M673.3 879.7l4.1-7.2 4.4-6.9 6.8-5.2 2.9-8 5.9-5.9M706.5 899.7l12.8-7.6M700 846.2l6.6 5.3 3.9 7.4 6.5 5.4 4.3 7.1 4.1 7.2M725.4 878.6l-6.1 13.5M641.8 837.5l8.1-1.4 8.1 0 8.1-.5 8.2 .9 8.1 .6M682.4 837.1l7.3 5.1 7.7 4.3M671.8 880.2l1.5-.5M715.4 839.4l-7.3 4.3-8.1 2.5M765.2 866.1l-7.5 3.8-8.4 1.3-8.3 1.3-8.2 1.8-7.4 4.3M697 811.3l1 8.7-1.5 8.8-.8 8.7 2.9 8.6M777.1 913.3l-7 3.5-8-.7-7.4 1.8M754.7 917.9l-7.1-5-6.8-5.7-6-6.6-7.3-4.9-8.2-3.6M689.3 961.3l7.4 4 7.9 2.9 7.1 4.4 5.9 6.4 7.7 3.4M689.3 961.3l1-9.1-1.4-9.1M688.9 943.1l4.4-7 6.2-5.3 6-5.5M731.2 982.2l-5.9 .2M731.2 982.2l-.1-9.1 1.4-9 1.9-8.8 .8-9 3.3-8.6 .5-9.1M739 928.6l-8.5 .1-8.4-.4-8.4-.2-8.2-2.8M663 978l5.9-5.2 7.2-3.2 7.5-2.8 5.7-5.5M696.6 1027.2l5.8-6.8 4.2-7.9 3.7-8.1 5.7-6.9 5.3-7.2 4-7.9M666.9 923.6l7.1 6.7 6.7 7.3 8.2 5.5M706.5 899.7l.6 8.5-2.1 8.5 .5 8.6M733.2 982.9l-2-.7M754.7 917.9l-8.6 4.2-7.1 6.5M225.6 698.1l6 5.1 4.9 5.9 2.7 7.6M199.3 720.2l7 6.1 7.1 6 8.2 4.3 8 4.5M239.2 716.7l-2.3 8.2-2.8 8-2.4 8.1M231.7 741l-2.1 .1M263.3 710.6l-8.4 .7-7.4 4.4-8.3 1M171.4 752l5.3-6.6 7-5.1 4.6-7.2 5.1-6.8 5.9-6.1M200.3 770.5l5.6-6.2 7.2-4.5 4.5-7.2 5.2-6.6 6.8-4.9M247.7 751.2l8.2-2.5 8.6-1.5 7.2-5.3 8.2-2.6M247.7 751.2l-7.3-6.3-8.7-3.9M307.4 629.2l-6.2-5-7.2-3.4-6.7-4.2-6.7-4.2M325.8 619.8l-7.4-6.7-6-7.7-3.4-9.7-6.4-7.4M366.1 744.2l.8 8.1-2.1 8 .5 8.1-.4 8M366.1 744.2l7.4-2.6 7.5-2.4 7.2-3.4 7.7-1.6M395.9 734.2l.9 8.4 2.3 8.2M399.1 750.8l-4.8 7.7-5.1 7.5-5.8 6.9-6.2 6.7M364.9 776.4l12.3 3.2M357.3 739.4l8.8 4.8M341.1 781.6l8-1.4 8-1.4 7.8-2.4M420.7 767l-8.3-3.9-6.9-5.9-6.4-6.4M398.9 808l-5.7-6.9-6.3-6.4-4.1-8.1-5.6-7M343.2 814.6l-.1-8.3-.3-8.2 .1-8.3-1.8-8.2M273.9 792.9l-7.6 1.4-7.4 2.2-7.9-.3-7.3 2.7M273.9 792.9l6.3 5 6.8 4 8.2 .8M295.2 802.7l2.8 7.3 2.7 7.3 1.8 7.6 2.8 7.3M234.4 826.7l-.2-9.2-.6-9.2M234.4 826.7l5.6 6.9 6.1 6.5 7.1 5.4 8.2 4 5.2 7.4 7 5.4M305.3 832.2l-7.5 4.8-5.9 6.5-5.9 6.5-6.1 6.3-6.3 6M233.6 808.3l10.1-9.4M247.7 751.2l-1.4 9.5-1.6 9.5-1.6 9.5-.2 9.5 .8 9.7M291.3 742.5l-4.2 7.9-2.4 8.6-3.8 8.1-1.1 9-3.3 8.3-2.6 8.5M321.4 777.8l-7.4 5.3-5.1 7.7-8 4.7-5.7 7.2M313 832.5l-7.7-.3M207.1 849.4l7.8-4.5 5.7-7.1 5.7-7 8.1-4.1M211.8 795.3l6.8 5 7.5 3.9 7.5 4.1M275.7 885.8l-2.1-7.7-1.4-7.8 1.4-8M522.2 741.4l-5.9-6.2-5.3-6.7-3.1-8.1-4.6-7.2M522.2 741.4l-7.6 2.4-7.9 1.7-7.2 4-8 1.4M487.9 734.3l1.5 15.1M487.9 734.3l4.3-6.8 4.2-6.7 3.1-7.4M499.5 713.4l3.8-.2M489.4 749.4l2.1 1.5M526 742.3l4-7.7 2.4-8.4 4.4-7.6 2.8-8.2M526 742.3l-3.8-.9M522.5 698l-5.3 6.4-7.3 4-6.6 4.8M522.5 698l5.1 4.8 5.9 4 6.1 3.6M500 786.2l-3.6-8.5-2.5-8.7-3.1-8.6 .7-9.5M531 780.5l-2.6-8.8 .1-9.1 0-9-.5-9M528 744.6l-2-2.3M464.2 753.2l8.6 .2 8.3-2.3 8.3-1.7M461.6 716.9l6.8 4.1 5.4 6.1 6.7 4.2 7.4 3M475.7 696l9 4.3 6.6 7.6 8.2 5.5M572.1 335.6l-8.7 1.2-7.9 4.3-8.8 .8M597.5 363.5l2.5-13.3M597.5 363.5l-7.4 5.3M590.1 368.8l-7.8 2.3-8-1.6-7.8 1-7.9 .3M546.7 341.9l3.5 7 3.7 6.9 1.1 8 3.6 7M549.2 311.5l.6 7.7-1.9 7.4-2 7.5 .5 7.6M552.3 258.1l-9.3-3.1-9.4-2.5-9.2-3M552.3 258.1l4.3-7.8 4.1-8 4.4-7.8M524.4 249.5l.2-8.2 .3-8.1 3.9-7.6 1.3-8 .3-8.1M565.1 234.5l-4.1-7.5-.7-8.5M536 202l-5.6 7.5M536.2 290.6l-6.3-6.9-8.4-4.2-6.1-7.1-8.5-3.9M557.2 269l-4.9-10.9M506.9 268.5l-1.7-4.9M506.9 260l5.7-3.7 5.4-4.2 6.4-2.6M581.1 239.4l-8.1-2-7.9-2.9M495.5 220.4l9.2-1.3 8.7-2.8 8.4-4 8.6-2.8M499.8 500.6l3.5 5.9-.3 7.3 3.4 5.9M499.8 500.6l-5.9-6.6-8.2-3.5M482.4 537.3l-5.9-4.6-5.7-4.8-4.1-6.4M482.4 537.3l8.6-5 8.3-5.5 7.1-7.1M485.7 490.5l-6 7-2.8 8.9-6.3 6.8-3.9 8.3M438.6 523.9l7.9-3.1 8.2-2.3M433.4 549.4l5.2 5.7M482.4 537.3l-.2 8.5M482.2 545.8l-8.4 3.5-8.8 1.2-9.1 .3-9.1 .3-8.2 4M454.7 518.5l12 3M399.3 580.5l6.9 2.8 7.4 1.9 6.1 4.6M438.6 555.1l2 8 2.3 8M419.7 589.8l8.8-4.9 6.5-7.8 7.9-6M407.3 623l8.4 .4 8.1-1.3 8.1-1.7M419.7 589.8l2.5 7.9 4.3 7.1 4.1 7.2 1.3 8.4M597.5 363.5l4.4 6.1 5.5 5.2 5.5 5.2M640.9 355.6l-1 10M639.9 365.6l-7.2 2.7-5.7 5.7-7.6 1.9-6.5 4.1M590.1 368.8l-.3 9.1-1.4 9-1.5 8.9-2.8 8.7-3.4 8.5M612.9 380l1.8 7.8M614.7 387.8l-5.7 6.2-2.2 8.4-5 6.6M601.8 409l-6.9 2.2-7.4-.8-6.8 2.6M553.6 450.5l4.3 6 3.9 6.5 5.8 4.8M553.6 450.5l6.7-5.5 6.5-5.9 6.5-5.8 8.2-3.5M591.3 451.1l.5-2.1M581.5 429.8l2.8 6.7 3.4 6.4 4.1 6.1M571.3 411.4l7.9 2.5M571.3 411.4l-1.7-9.9-3.1-9.3-6.4-8.1-2.8-9.4M557.3 374.7l1.3-3.9M580.7 413l-1.5 .9M781.5 748.8l-6.8-5.8-3.1-8.6-6-6.4M750.1 759.4l-1-8.8 3.1-8.6-.6-8.7M765.6 728l-14 5.3M799.1 736.7l-2.2-6.7 .4-7.3-3-6.5M794.3 716.2l-8.9 3.3-8.7 3.5-9.1 2.6M765.6 728l2-2.4M831.4 730.5l-2.2-8-3.7-7.3-4.1-7.1M821.4 708.1l-10.6-5.4M794.3 716.2l3.3-6.8M810.8 702.7l-13.2 6.7M909.5 416.5l8.1 .8 7.5 3M909.5 416.5l-6.2 5.5-7.1 4-7.9 2.7-6.3 5.4-6.9 4.4M875.1 438.5l7.4 6.7 9.2 3.6 7.7 6.2 9 4M908.4 459l7.2-4.2 8.5-1.7 6.9-4.9M931 448.2l3.2-8.9 1.1-9.3M935.3 430l-10.2-9.7M908.5 383.1l-11.2 7.2M897.3 390.3l2.6 9.4 5.5 8.1 4.1 8.7M926.5 396l.1 8.1-1.4 8.1-.1 8.1M961.6 416.5l-9.2 3.6-8.6 5-8.5 4.9M937.3 486.7l.3-9.1-.5-9-3.6-8.7 .1-9.1M937.3 486.7l8.7 1.5 8.7 1M954.7 489.2l10.8-4.8M955.7 461.8l5.1 7.5 4.7 7.9M955.7 461.8l-7.6-3.3-6.9-4.5-7.6-3.2M965.5 477.2l0 7.2M984.8 460.9l-6.6 5.2-5.7 6.3-7 4.8M975.6 438.7l-5.2 5.6-4.3 6.3-4.4 6.3-6 4.9M931 448.2l2.6 2.6M997.4 496.7l-7.9 1.7-8.1-.2M981.4 498.2l-4.8-5.2-5.3-4.6-5.8-4M908.4 459l1 7-3.2 6.5-.5 6.9M937.3 486.7l-12.8 6.3M924.5 493l-6.6-4-7.2-3.3-5-6.3M984.8 544.9l11 .9M984.8 544.9l-5.6-4.1-5.1-4.8-6.1-3.3M981.4 498.2l-1.8 8.8-3.1 8.3-4.1 7.9-4.4 7.7M968 532.7l0-1.8M954.7 489.2l-.8 7-3.3 6.2-2.9 6.3M968 530.9l-4-6.5-5.6-5.1-5.5-5.2-5.2-5.4M924.5 493l.1 7.1 1.8 7.1-1 7.2M947.7 508.7l-7.5 1.7-7.5 1.5-7.3 2.5M436.2 383.1l.9-1.4M437.1 381.7l.5-7.9-2.2-7.5-.6-7.7M553.6 450.5l-7.2-2.4M566.5 472.6l-7.3 2-7.8-1.2-7.4 1.8M544 475.2l-6.1-7.6-5.1-8.4M546.4 448.1l-5.9 6.6-7.7 4.5M535.7 295.6l-6.9 3.5-5.7 5.2-5.5 5.4M539.6 342.2l6.8-.5M539.6 342.2l-12.9-5.6M526.7 336.6l-3.2-8.9-4.2-8.6-1.7-9.4M506.9 268.5l-1.9 8.5-.7 8.7-2.7 8.3M501.6 294l6.3 6.6 4.9 7.6M517.6 309.7l-4.8-1.5M499.8 354.1l4.8-12.8M499.8 354.1l-8.7 1.8-8.7 .6-8.7-.5-8.7 0-8.8 .4-8.7-1.3-8.7 .8M438.8 355.9l5.5-5.3 5.5-5.3 6-4.8 5.2-5.6M461 334.9l8.8-.8 8.4 1.4 8.4 1.8 8.3 2.8 8.6 .2M526.7 336.6l-7.4 1.4-7.1 2.9-7.6 .4M496 320.9l5.2-4.8 5.6-4.2 6-3.7M496 320.9l3.3 6.2 3.5 6 .7 7.2M528 744.6l9-1.2 9.2 1.6 9-1.6 9-1.5 9.2 1.4M575.3 774.4l2.3-9.5 3.4-9.3M573.4 743.3l7.6 12.3M601.9 798.2l7.6 .9 7.7-1.3 7.5 1.7M624.7 799.5l-.4-7.7 2.9-7.1 .8-7.5 1.4-7.4M629.4 769.8l-9.9-1.4-9.7-1.9-8.7-5.4-9-4.5-9.9-1.2M705.5 780.2l-.5-9.4 2.1-9.2M745.6 765.2l-7-1.3-6.3-3.3-6.2-3.1M726.1 757.5l-9.3 3-9.7 1.1M923.3 884.8l-3.2-6.6-6-4.6-3-6.7M911.1 866.9l-.3-12M910.8 854.9l7-3.1 5.4-5.8 6.8-3.5M915.7 902.4l4.6-8.5 3-9.1M878 881.9l8.3-3.7 8.8-2.6 8.2-4 7.8-4.7M871.2 853.3l7.6-2.2 8 .8 7.9-.5 7.4-3.2M871.2 853.3l-4.3 8.5-3.3 8.9M902.1 848.2l8.7 6.7M902.1 848.2l-2.1-7.7-2.6-7.7-3.2-7.5 .4-8.3M910.6 815l-8.1-.2-7.9 2.2M910.6 815l11.5 6.1M922.1 821.1l1.2 7.7 2.4 7.2 4.3 6.5M922.1 821.1l6.1-5.7 7.3-3.7 7.2-4M942.7 807.7l4.6 7.7 5.4 7.1 5.5 6.9M952.7 792.2l7.8 2.2 7.6 2.7 8 1.2M952.7 792.2l3.7-7.5 2.5-7.9 2.1-8M940.8 739.7l-6.6 6.7-5.3 7.8-4.7 8.2M924.2 762.4l9.5 .1 9.2 1.6 8.7 4.1 9.4 .6M984.8 544.9l-3.5 8.7-3.1 8.9-3.9 8.4-5.5 7.8M982.4 588.4l-6.5-5-7-4M930.3 678.1l-3.1-3.4M927.2 674.7l2-9.4 4.1-8.9 1-9.7M954.3 640.1l-6.4 3.1-6.3 3.3-7.3 .2M951.5 603.7l-3.4 8.9-4.3 8.6M951.5 603.7l-2.9-9.5M948.6 594.2l-2.6-1M946 593.2l-7.4 1.8-7.3 2.3-7.4 1.7-7.8-2.2M916.1 596.8l5.8 5.8 4.9 6.5 3.7 7.3 5.4 6.2M935.9 622.6l7.9-1.4M974.2 615.6l-6.8-5.4-7.2-4.7-8.7-1.8M954.7 632.7l-10.9-11.5M968.9 579.4l-7.1 4.5-7.3 4.1-5.9 6.2M926.7 633.2l7.6 13.5M926.7 633.2l9.2-10.6M871.2 853.3l-2.2-8.1-2-8.2-3.3-7.8M893.4 816.2l-6.9 4.3-7.7 2.8-7.6 2.7-7.5 3.2M832 838.4l6.6-5 7-4.3 6.1-5.6M851.7 823.5l12 5.7M836.3 793.6l9.8 1.2M851.7 823.5l-.4-9.9-3.2-9.3-2-9.5M837.3 755l4 8.7 2.8 9 4.5 8.5 1.8 9.5M846.1 794.8l4.3-4.1M924.2 762.4l-2.3 1.3M952.7 792.2l-6.4 2.7M921.9 763.7l6.4 7.6 5.7 8.1 6.4 7.6 5.9 7.9M910.6 815l5.9-7.5 4.1-8.6M942.7 807.7l-.4-3.4M920.6 798.9l7.1 2.4 7.5 .8 7.1 2.2M942.3 804.3l4-9.4M821.4 708.1l8.4-2.1 7.4-4.7 8.3-2.4 8.1-2.5M844.3 737.3l4.9-6.8 5-6.9 5.5-6.5 3.2-8.1M853.6 696.4l9.5 9.5M862.9 709l.2-3.1M846 741.5l8.1 3.3 7.5 4.4M850.4 790.7l10.5-5.1M861.6 749.2l-1.8 9.1-.8 9 2.6 9.2-.7 9.1M893.4 816.2l-.6-7.6-1.9-7.3-4-6.8-.6-7.6M860.9 785.6l8.5 .2 8.4 1.3 8.5-.2M629.1 1006.2l-4.4 8-4.1 8.3-4.3 8.2M674.7 1046.4l-4.3 6.7-5.2 6-5.5 5.9-4.9 6.2M654.8 1071.2l-6.8-6.5-6.6-6.5-5-8.1-7.6-5.6-7.7-5.5-4.8-8.3M481.8 940.8l-3.9 12.5M541.3 966.9l-5.5 7.7-5.9 7.5-5.4 7.8-6.3 7.1-5.4 7.8-4.9 8.2M477.9 953.3l3 8.3 2.7 8.4 4 7.8 5.7 7.1 2.7 8.5 3.9 7.9 3.1 8.2M507.9 1013l-4.9-3.5M477.9 953.3l-7.5 5.3-5.7 7.1-6.7 6.1-5.1 7.6-6.8 6.1-5 7.7-7.2 5.6M503 1009.5l-9.7-2.4-9.9-1.7-9.7-2.8-10.1-.1-9.7-2.5-10.1 0-9.9-1.2M404.4 954.2l2.6 8.4 4.2 7.9 2.8 8.3 .9 9 2.9 8.2 2.8 8.4M353 997.6l9.2 1.8 9.1 3.1 9.5 .7 9.5 .7 9.2 2 9.4 1 9 3.6M417.9 1010.5l2.7-6.1M420.6 1004.4l13.3-5.6M301.5 1161.6l8.5 .5 8.5-1.5 8.4 .9 8.5 .9M318.2 1235.8l8.2-4.5 5.8-7.6 7.3-5.7 7.4-5.5M335.4 1162.4l.8 8.6 4.3 7.8 2.7 8.2 .5 8.6 1.6 8.5 1.6 8.4M435.8 1571.7l3.4-8.8 2.8-9 1.6-9.4 3.6-8.8 1.9-9.3 4.9-8.3 3.8-8.7 3.2-8.8 3.6-8.8 2-9.3M381.1 1492.8l2.4-9.5 4.1-8.8 5.2-8.4 2.2-9.6 5-8.4 4.8-8.5 3.2-9.2 2.6-9.5 5.6-8.1M466.6 1482.5l-5.4-7.8-4.5-8.7-7.6-6.2-6.5-7.2-5-8.1-4.2-8.8-7.1-6.7-4.5-8.5-5.6-7.7M690.8 291.3l-5.8 3.6M677.4 295.1l7.6-.2M308.3 550.4l7.9 5.1 8.2 4.6 8.3 4.2 8 4.9M302.9 586.3l8.1-1 7.8-2.3 8.2-1.1 7.3-4.4 8.2-.7M342.5 576.8l-1.8-7.6M345.6 548.5l-2 6.8-.8 7.1-2.1 6.8M635.6 824.1l-.2-8.8-3.5-8M635.6 824.1l9.4-.7 8.9-3 8.8-3.3 9.3-1.7M631.9 807.3l7.3-3.9 7.3-4.1 7.4-3.7M653.9 795.6l6.5 5 8.3 .9 7 3.8M672 815.4l3.7-10.1M624.7 799.5l7.2 7.8M682.4 837.1l-3.5-7.2-4.1-6.9-2.8-7.6M681.8 801.2l-6.1 4.1M684.6 786.1l-5.3-6.6-7.7-3.8-5.2-6.6M666.4 769.1l-5.3 8.3-4.6 8.6-2.6 9.6M499.8 500.6l5.9-6.3 6.5-5.7 8.5-2.6M506.4 519.7l7.2 1.8M520.7 486l7.3 5.6 8.2 4.1M536.2 495.7l.8 1.5M537 497.2l-5.6 6.3-6.8 5.1-4.1 7.7-6.9 5.2M437.1 381.7l9.9 1.5 9.7 2.2 9.2 3.7 9.2 3.9M432.9 399.1l3.9 8.2 .9 9.3 2.7 8.6 3.8 8.2 3 8.5M475.1 393l2.4 7.3 2.3 7.4-.2 8 3.3 7.1M482.9 422.8l-5.6 8.2-3.9 9.2M473.4 440.2l-8.7 1.8-8.7 1-8.8-1.1M412.4 459.6l7.4-2.1 7.6 1 7.4-1.6 7.6 1.6M442.4 458.5l2.7-8.2 2.1-8.4M416 504.5l5.4-7.6 7.1-5.7 5.7-7.2 7.2-5.6 7.1-5.9M442.4 458.5l6.1 14M454.7 518.5l1.8-8.3-1.8-8.4 .6-8.3 .5-8.3-.5-8.4M448.5 472.5l6.8 4.3M510.8 642.6l-.7 9.6 .1 9.7-.4 9.7M510.8 642.6l11.1-10.1M521.9 632.5l7.7-.3 7.5 1.7 7.7-1.1M513.9 673.9l6.6-6.8 6.8-6.5 6.7-6.7 7.5-5.9 7.6-5.6M513.9 673.9l-4.1-2.3M549.1 642.4l-4.3-9.6M520.3 681.6l-6.4-7.7M520.3 681.6l7.2-3.3 7.5-2 7.7-1.1 7.8-.6M550.5 674.6l-.2-9 4-8.3 .7-8.9M555 648.4l-5.9-6M475.7 696l6.7-5.2 6.7-5.4 5.2-6.9 6.2-5.8M520.3 681.6l.6 8.3 1.6 8.1M500.5 672.7l9.3-1.1M407.9 659.3l6.7-5.9 6-6.8 7.4-5 7.6-4.9 6.1-6.6M431.9 620.4l7.7 4M441.7 630.1l-2.1-5.7M442.9 571.1l4.7 5 5 4.9 6.6 2.6M459.2 583.6l.9 16M439.6 624.4l5.8-5.7 5.2-6.1 3.5-7.5 6-5.5M555 648.4l10.7 1.5M565.7 649.9l6.9-5.4 8-3.3 8-3.2 8.3-2.6 7.5-4.3M603.7 623.2l.7 7.9M603.7 623.2l-9.9-1.1-9.8-2-10.1 1.4-10.1 .7-9.7-3.1M544.8 632.8l3.6-9.3M554.1 619.1l-5.7 4.4M601.8 409l5.6 5.2 6.6 3.7 6.7 3.6M581.5 429.8l-1.8-7.9-.5-8M591.8 449l9.7-1 9.2-2.9 9.1-3.2M620.7 421.5l.9 6.9-.2 6.8-1.6 6.7M566.6 472.8l-2.3 9.3-2.6 9.1 .1 9.7M598.9 490.3l-1 11.3M597.9 501.6l-9-.2-9.1 .5-9-.6-9-.4M536.2 495.7l2.6-6.9 2.2-6.9 3-6.7M537 497.2l5.2 4.6 6.6 1.9 6.1 3M561.8 500.9l-6.9 5.8M926.7 633.2l-7.3-1.4-7.5 .7-7.3-1.3M916.1 596.8l-2.5-.6M904.6 631.2l4.2-8.2-.4-9.5 2.7-8.6 2.5-8.7M937 565.9l3.2 9.1 1.7 9.5 4.1 8.7M937 565.9l-8.3 4.7-8.7 3.9-7.6 6-8.9 3.6M913.6 596.2l-10.1-12.1M819.6 390.2l7.4 2.2 6.4 4.4 6.6 4.1 7.8 1M847.8 401.9l3.2-5.7M851 396.2l-2.1-7.7-1.1-8.1-3.8-7.2-3-7.4-2.8-7.6M899.9 517.2l.4-8-1.2-8 0-8.1-.8-8M899.9 517.2l-7.5 3.6-8.3 1.2M867.6 517.4l8.6 1.1 7.9 3.5M867.6 517.4l4.6-7 3.8-7.3 3.9-7.3 .9-8.5M880.8 487.3l8.7-1.3 8.8-.9M905.7 479.4l-7.4 5.7M925.4 514.4l-4.7 9.6M920.7 524l-6.9-2.2-7.1-1.8-6.8-2.8M873.8 438.3l-6.9 1.4M866.9 439.7l-1.1 9.4-1.8 9.2-4.5 8.4M859.5 466.7l6.7 7.3 6.6 7.4 8 5.9M966.8 533.3l-9 1.1-8.6-3.1-8.9 .3-8.9-1-8.8-1.1M966.8 533.3l-4.7 6.2-4.1 6.9-6.2 5.3-4 6.8M947.8 558.5l-7.9 1.5M939.9 560l-5.3-7.9-6-7-7.8-5.6M920.8 539.5l1.8-10M920.7 524l1.9 5.5M968.8 578.7l-7.2-6.5-6.2-7.5-7.6-6.2M937 565.9l2.9-5.9M895.4 562.7l-2.3 4.8M895.4 562.7l7-5 6.3-5.9 6.8-5.3 5.3-7M893.1 567.5l2.9 12.3M903.5 584.1l-7.5-4.3M895.4 562.7l-1.1-8.4-2.7-8.1-2.6-8-3-8-1.9-8.2M803.2 635.2l-7.6 3.3-7.6 3.4-7.2 4.4-7.6 3.4-8 2.4M803.2 635.2l13.9 4.3M817.1 639.5l4 7.5 4.5 7.2 6.5 5.8M765.2 654.1l0-2M765.2 654.1l7.5 6 8.7 4.2 7.2 6.5 7.9 5.4 7.8 5.6 7.8 5.6M832.1 660l-5.8 6.2-4.9 7-3.3 8.1-6 6.1M762.4 598.8l1.4 8.5 .5 8.5-2.9 8.4-1.5 8.5 .7 8.4 1.7 8.5M762.3 649.6l2.9 2.5M799.5 597.4l-9.1 1.6-9.2-.2-9.2-1-9.1 .6M799.5 597.4l.4 9.5 .8 9.5 1.6 9.4 .9 9.4M849.9 665.3l.4 7.8-.4 7.9 .3 7.9 3.4 7.5M849.9 665.3l-8.6-3.5-9.2-1.8M810.8 702.7l1.3-15.3M859.5 466.7l-5.9 4.3-5.4 5-5.9 4.3M842.3 480.3l.6 12.9M867.6 517.4l-3.1 .9M842.9 493.2l4.2 7.4 7.3 4.6 6.5 5.4 3.6 7.7M842.9 493.2l-6.7 5.5-7.7 4.3-5.6 6.9M864.5 518.3l-6.2 9.2M856.3 528.1l2-.6M856.3 528.1l-7.7-3.3-8.1-1.9-7.8-2.5-8-2.3M824.7 518.1l-1.8-8.2M837 542.9l7.6-3.5 6.6-4.6 5.1-6.7M837 542.9l-7.5-.5-7.6 1.2-7.5-1.3M824.7 518.1l-4.7 7.5-2.6 8.4-3 8.3M520.7 486l-2.7-7.2-1.3-7.5-1.8-7.4M532.8 459.2l-13.7 .9M514.9 463.9l4.2-3.8M539.6 342.2l-3.3 8.5-5 7.5-7 6.2-4.3 8-4.3 7.9M499.8 354.1l1.5 9.4 4.1 8.9 .4 9.6M505.8 382l9.9-1.7M475.1 393l7.3-2.7 7.5-1.6 7.8 .5M505.8 382l-8.1 7.2M557.3 374.7l-7.5 5.5-7.9 5-9 2.8M515.7 380.3l9 3.1 8.2 4.6M463.8 330.2l6-5.8 6.4-5.3 7.9-3.1M463.8 330.2l-2.2-8 .7-8.3-1.2-8.1-.8-8.1-.1-8.2M484.1 316l1.4-14.9M485.5 301.1l-5.4-5.5-5.7-5.1-7.1-3.3M467.3 287.2l-7.1 2.3M496 320.9l-11.9-4.9M461 334.9l2.8-4.7M439.1 285l6.9 2 6.8 2.7 7.4-.2M501.6 294l-8.2 3.4-7.9 3.7M480.2 268.1l-3.7 6.7-3.1 7.2-6.1 5.2M604.1 704.4l-8.6 2.4-8.9 1.9-7.6 5.1-8.2 3.6M604.1 704.4l0-10.1-2.6-9.7-1.5-9.8M584.1 675l15.9-.2M584.1 675l-6.6 5.5-7.5 4.5-6.2 6.1M563.8 691.1l-1 8.7-.5 8.7M562.3 708.5l8.5 8.9M565.7 649.9l6 5.2 3.7 7 3.1 7.3 5.6 5.6M616.3 656.8l-6.5 5.1-4.8 6.5-5 6.4M616.3 656.8l0-6.3M604.4 631.1l4.6 6.1 4.1 6.4 3.2 6.9M550.5 674.6l3.2 6.5 5.4 4.7 4.7 5.3M539.6 710.4l7.5-1.1 7.5-1.5 7.7 .7M573.4 743.3l-1.9-8.5-.4-8.7-.3-8.7M726.1 757.5l-1.5-9.9 1.7-10-1.7-9.8M707.1 761.6l-2.9-3.3M704.2 758.3l1-7.7-.2-7.6-3.4-7.2M701.6 735.8l6.6-9.3M708.2 726.5l8.2 .7 8.2 .6M751.6 733.3l-7.5-5.3-7.7-4.9M736.4 723.1l-11.8 4.7M616.3 656.8l4.4 5.8 6.8 3.3 4.8 5.5M650.1 638.2l-9.1 1.3-8.5 2.9-8.7 2.6-7.5 5.5M650.1 638.2l5.3 6.9 2.6 8.4 5.9 6.5 2.5 8.5 5.1 7M632.3 671.4l9.7 1.3 10-.9 9.7 2.3 9.8 1.4M582.2 755.4l8.3-4.9 8.1-5.3 8.9-4 6.8-7.1M604.1 704.4l9.2 5.3M613.3 709.7l-.6 8.2 2.2 8-.6 8.2M632.3 671.4l-1.7 8.2-.9 8.2-.8 8.2 2.9 8.2M613.3 709.7l9-3.7 9.5-1.8M665.1 707.7l-8.2 .8-7.8 2.7M665.1 707.7l6.3-4.7 4.5-6.2 3.9-6.6M679.8 690.2l-3.4-12.1M676.4 678.1l-4.9-2.6M631.8 704.2l9.1 2.3 8.2 4.7M701.6 735.8l-8.5 1.5-8.5-.5M708.2 726.5l-1.9-8.6-4.5-7.3-2.9-8-5.3-6.9M693.6 695.7l-13.8-5.5M665.1 707.7l3.9 14.4M684.6 736.8l-5.7-4.4-3.9-6.2-6-4.1M704.2 758.3l-7.9-.8-7.8 1.5-7.9-.2-7.9 .9M684.6 736.8l-5.2 7-4.1 7.6-2.6 8.3M631.5 767.6l8.6 1.4 8.5-.6 8.4-2.1 8.5 0M631.5 767.6l1.5-8.5-1.8-8.3-.7-8.4M630.5 742.4l8.7-5.1M639.2 737.3l7.6 1.6 6.2 4.7 6.8 3.3M659.8 746.9l2.9 8.4 4.1 8M665.5 766.3l1.3-3M629.4 769.8l2.1-2.2M666.4 769.1l-.9-2.8M614.3 734.1l8.4 3.5 7.8 4.8M649.1 711.2l-4.9 8.1-4 8.4-1 9.6M669 722.1l-2.8 8.3-2.5 8.6-3.9 7.9M672.7 759.7l-5.9 3.6M862.9 709l5.9 7.5 5.2 7.9 5.8 7.5M861.6 749.2l7.7-1.8M879.8 731.9l-6.3 7.1-4.2 8.4M886.3 786.9l4.3-6.8 6.5-4.8 5.7-5.6M869.3 747.4l6.7 4.4 5.6 6.1 7.5 3.2 6.7 4.5 7 4.1M920.6 798.9l-2.3-8.2-1.1-8.6-1.7-8.4-5.2-7.3M902.8 769.7l7.5-3.3M921.9 763.7l-10 1.3M911.9 765l-1.6 1.4M688.7 1107.9l-7.9-6.3-7.5-6.7-6.1-8-5.9-8.1-6.6-7.5M572 995.6l.8 8-2.2 7.8 .2 7.9M616.3 1030.7l-7.6 3.1-7.9 2.1M570.8 1019.3l7 5.1 8.4 2.4 6.6 6 8 3.1M336.5 1413.1l9.6-2.7 8.3-5.6 9-4 8.4-5.5 9.7-2.4 8.6-4.8M416.2 1412.8l.8-10.5M417 1402.3l-6.2-4.5-6.6-3.9-6.9-3.1-7.2-2.7M321.2 1320.2l9.2 .9 9.3 1.1 9.1 1.5 9.3 .9M390.1 1388.1l-3.7-8.1-2.8-8.5-3.2-8.4-5.5-7.2-3.8-8-5.3-7.3-2.9-8.4-4.8-7.6M570.9 584.1l6.8 2.2M570.9 584.1l-2 1.5M603.7 623.2l2.7-11.3M568.9 585.6l-2.4 9-5.7 7.5-2.1 9-4.6 8M577.7 586.3l7.2 6.4 6 7.7 7.8 5.7 7.7 5.8M678.3 620.3l-8.2 2.6-8.4 2.4-6.8 5.7M678.3 620.3l-4.1-6.1-4.8-5.7-1.5-7.4M654.9 631l-4.5-7.9-6.7-6.1-4.8-7.6-6.8-5.9-6.4-6.3M667.9 601.1l-9.5-2.1-9.4-2.5-9.4-2.5-8.3-5.7M625.7 597.2l5.6-8.9M650.1 638.2l4.8-7.2M606.4 611.9l7.2-3.9 6.9-4.3 5.2-6.5M577.7 586.3l7-5.7 5.7-7 7.9-4.5 8-4.4 5.8-7 6.6-6M618.7 551.7l4.7 8.3 3.6 8.8 4.9 8.2M631.9 577l-.6 11.3M521.9 632.5l-2.3-6.7-2.8-6.5-5.7-4.7M548.4 623.5l-5.4-6.9-5.2-6.9-5.4-6.9-3.3-8.2M511.1 614.6l5-7.6 7.1-5.7 5.9-6.7M568.9 585.6l-7.9 1.2-8.1-.9-7.9 1.5-8.1-1.6-8 1.8M528.9 587.6l.2 7M495.4 637.9l-6.2 4.8-3.4 7.2-5.4 5.5M495.4 637.9l-8.2-13M487.2 624.9l-8.3 5.4-9.3 3.4-9.7 2.7-7.9 6.2M480.4 655.4l-8.3-2.1-8.8 1.1-8.3-2.3M455 652.1l-3-9.5M500.5 672.7l-6.1-6.4-7.2-5.2-6.8-5.7M510.8 642.6l-7.3-3.5-8.1-1.2M511.1 614.6l-7-1-6.4-2.9-6.6-2.1M491.1 608.6l-2.8 7.9-1.1 8.4M441.7 630.1l6.5 5.1 3.8 7.4M460.1 599.6l7.3 3.6 7.7 2.5 8 1.2 7.9 1.5M453.8 657.1l1.2-5M659.2 414.5l-6.1-9M659.2 414.5l6.4 4.7 5.7 5.6 7.9 2.4M679.2 427.2l4.7-7.7 7.7-5 5.3-7.1 6.3-6.3 5.4-7.1M654.5 397l-1.7 4.9M654.5 397l7.1-5.8 6.7-6.5 7.3-5.7M675.6 379l6.9 3.4 7.2 2.4 7.9-.5M652.8 401.9l.3 3.6M708.6 394l-11-9.7M639.9 365.6l3 8.1 5.1 7.2 4.4 7.6 2.1 8.5M614.7 387.8l7.9 2.1 8 1.9 7.9 2 7.6 2.8 6.7 5.3M655 350.6l6.9 1.5 6 3.5 5.7 4M673.6 359.6l-.3 9.8 2.3 9.6M620.7 421.5l7.3-5.5 9.2-1.8 8.3-3.6 7.6-5.1M627.3 456.3l5.9 7.4 6.8 6.8M627.3 456.3l-1.3-9.4M626 446.9l8.1-2.4 8.2-2.1M642.3 442.4l6.5 6.9 6.7 6.8M655.5 456.1l-5 4.9-5.2 4.7-5.3 4.8M606.3 478.5l6.5-4.4 4.7-6.1 3.7-6.9 6.1-4.8M619.8 441.9l6.2 5M659.2 414.5l-3.9 7.2-2.9 7.8-6.3 5.7-3.8 7.2M715.9 431.9l6.2 5 5.6 5.7M715.9 431.9l-8.3 .1-7.7 1.9-7.3 3.8-7.8 2M727.7 442.6l-4.3 7.6-7.4 5-6.6 5.6-3.8 8M684.8 439.7l.5 8.3-1.5 8.2M683.8 456.2l3.6 9.7M679.2 427.2l5.6 12.5M655.5 456.1l9.4-1.6 9.4 1.9 9.5-.2M642.8 538.3l5.4-7.9 5.6-7.8 8.1-5.7 5-8.2M642.8 538.3l9.6 1.7 9.1 3.6 8.9 3.9M666.9 508.7l11.8 10.7M678.7 519.4l-3.7 9.1-3.1 9.2-1.5 9.8M695.4 339.1l3.9-4.5M695.2 340l2.9 8 5.1 6.7M699.3 334.6l7-3.1 7.4-2 7.2-2.7M703.2 354.7l9.6 2.8 9.2 3.7 8.5 5.3M661.2 323.3l8.6 3.9 7.9 5.4 9.5 1.9 8.2 4.6M685 294.9l3.1 7.9 1.4 8.4 2.5 8.1 4.8 7.2 2.5 8.1M673.6 359.6l7.9-5.8 7.2-6.5 6.5-7.3M697.6 384.3l3-7.1-.1-7.6 2.3-7.3 .4-7.6M759.3 414.9l3.9-8.7 4.8-8.3M759.3 414.9l-6.9 1.1-6.7 1.6-5.6 4.5M768 397.9l-9.2 .6-8.8-1.7-8.9-.9-8.8-2.1-8.8-1.9M740.1 422.1l-4.8-4.8-5.4-4.1-6.4-2.5M723.5 410.7l-1.9-8-2-7.9M719.6 394.8l3.9-2.9M708.6 394l11 .8M715.9 431.9l.9-7.6 1.9-7.4 4.8-6.2M730.5 366.5l-2.2 8.5-2.5 8.4-2.3 8.5M775.2 396.2l-4.4 .2M775.2 396.2l5-6.1 4.9-6.1 2-7.9 4.5-6.5M770.8 396.4l-5.4-7.6-2-9.3-6-7.3-4.8-7.9-3.2-8.8M768 397.9l2.8-1.5M627.9 511.7l9.2-.9 8.5-3.9 8.4-4.2 9.3-.6M627.9 511.7l.2-9.5 0-9.5 2.8-9.3M640.5 477.5l-9.6 5.9M640.5 477.5l7 6.4 7.6 5.5 9 3.3M664.1 492.7l-.8 9.4M617.2 542.4l-7.3-9.9M617.2 542.4l8.7-.3 8.6-.6 8.3-3.2M666.9 508.7l-3.6-6.6M610.5 527.1l-.6 5.4M610.5 527.1l6.3-4.5 5.9-5 5.2-5.9M606.3 478.5l8.1 2.6 8.4 .2 8.1 2.1M597.9 501.6l4.8 8.2 3.3 8.9 4.5 8.4M640 470.5l.5 7M687.4 465.9l-7 5.6-6.7 6-4.9 7.5-4.7 7.7M549.8 526l5.4-13.5M549.8 526l1.2 10.5M555.2 512.5l7.3 6.4 7.9 5.1 8.7 3.9 9.2 2.9 8 4.9M551 536.5l5 5.9 5.7 5.5 2.5 7.6M596.3 535.7l-7.6 5.7-9.1 3.2-8.6 4-6.8 6.9M513.6 521.5l3 3.1M516.6 524.6l8.3 1.8 8.3-.9 8.3 0 8.3 .5M554.9 506.7l.3 5.8M516.6 524.6l2.1 7.4 1.3 7.7 3.3 7M523.3 546.7l9.1-3.9 8.9-4.2 9.7-2.1M609.9 532.5l-13.6 3.2M570.9 584.1l-3-9.1-2.2-9.3-1.7-9.4M617.2 542.4l1.5 9.3M879 638.5l15.9 .4M879 638.5l-4.7 6.1-4.3 6.4-4.1 6.6M894.9 638.9l4.2 8.9 4.8 8.5 8.3 6.1 5 8.3M865.9 657.6l4.6 7.2 7.3 4.6 4.3 7.6 6.9 5M889 682l7-2.9 6.4-4.5 6.7-3.7 8.1-.2M904.6 631.2l-9.7 7.7M896 579.8l-5.7 6.6-7.8 4.1-6.6 5.5-6.3 5.9M864.4 610.4l5.2-8.5M864.4 610.4l5 6.3 3.6 7.1 3.5 7.1 2.5 7.6M927.2 674.7l-10-4M849.9 665.3l8.4-3 7.6-4.7M885.3 699l-7.8 .9-7.2 2.9-7.2 3.1M885.3 699l1.5-8.6 2.2-8.4M927.5 686.2l-8.7 4.1-6.9 6.9-8.9 3.9-8.1 5.1M894.9 706.2l-9.6-7.2M844.5 613.4l8.7-3.2M844.5 613.4l-6.5-7.2-8.4-4.6-8.5-4.7-7.3-6.1-7.3-6.2M853.2 610.2l-4.2-7-3.6-7.3-3.3-7.4-5.5-6.2-3.2-7.5M833.4 574.8l-7.3 1.2-7.3 1.1-7.4-1.9M811.4 575.2l-4.8 9.1M864.4 610.4l-11.2-.2M817.1 639.5l6.3-7.1 8.3-5 7.3-6.1 5.5-7.9M799.5 597.4l7-12.8M869.6 601.9l-4-7-4-7-3.5-7.4-4.3-6.8-5-6.5M846.3 567.3l2.5-.1M846.3 567.3l-12.9 7.5M837 542.9l3.7 7.9 4 7.8 1.6 8.7M814.4 542.3l-9.4 5.9M805 548.2l1.6 9.1 .5 9.4 4.3 8.5M764 569.7l1.1 9.6-3.1 9.5 .9 9.6M764 569.7l9 1.3 8.7 2.5 8.7 2.5 8.3 3.6 7.9 4.7M863.1 390.3l8.1 .2 8 .4 7.3 4.3M863.1 390.3l3.6-8 2.9-8.2 .7-8.8M880.6 366.4l5 7.9 5.4 7.6 4.3 8.3M895.3 390.2l-8.8 5M851 396.2l12.1-5.9M897.3 390.3l-2-.1M873.8 438.3l3.1-8.4 2-8.8 1-9.1 2.1-8.8 4.5-8M887.4 565.1l-4.6-7.6-6.3-6.1-4.9-7.3-6-6.4-6.1-6.3M887.4 565.1l-8-.5-8-.6-8 .7-8-1.2M855.4 563.5l.3-8.1 1.5-8 2.5-7.8-.2-8.2M893.1 567.5l-5.7-2.4M858.3 527.5l1.2 3.9M848.8 567.2l6.6-3.7M819.6 390.2l-6.7 6.6-4.8 8.2-7 6.4M775.2 396.2l5.6 5.8 7.1 4 5.9 5.5M801.1 411.4l-7.3 .1M759.3 414.9l0 6.9 2.5 6.5-.2 6.8M789.4 428.3l1.6-8.5 2.8-8.3M789.4 428.3l-6.3 5.4-7 4.7-6.9 4.7M761.6 435.1l7.6 8M740.1 422.1l1 8.6-1.6 8.5M761.6 435.1l-7.1 2.9-7.5 .6-7.5 .6M727.7 442.6l8.1 1.3M739.5 439.2l-3.7 4.7M510.6 464.1l-7.2-3.9-6.8-4.7-6.4-5.1M510.6 464.1l-7.3 4.7-5.4 7.1-5.9 6.4-8.2 3.7M483.8 486l-11.4-7.7M472.4 478.3l1.5-7.6 5.4-5.9 1.8-7.5 3.8-6.7M484.9 450.6l5.3-.2M485.7 490.5l-1.9-4.5M514.9 463.9l-4.3 .2M455.3 476.8l8.7-.4 8.4 1.9M473.4 440.2l11.5 10.4M482.9 422.8l7 1.2 6.9 1.5 5.4 5.3M502.2 430.8l-5 5.9-2.3 7.6-4.7 6.1M545 417.1l-2.7 9.2M545 417.1l-3.3-2.7M541.7 414.4l-10 .4-9.9-1.7-9.9 1.1M542.3 426.3l-8.2 4.9-9 3.4-8.6 4.1M511.9 414.2l-4.8 15.2M516.5 438.7l-9.4-9.3M571.3 411.4l-8.7 2.2-8.4 3.7-9.2-.2M546.4 448.1l-1.2-7.3-.5-7.5-2.4-7M532.9 388l1.5 9.3 1.9 9.1 5.4 8M497.7 389.2l4.9 8.3 5.8 7.7 3.5 9M519.1 460.1l1-7.4-1.9-7-1.7-7M502.2 430.8l4.9-1.4M736.8 718.5l-4.2-6.5-3-7-3.7-6.8 0-8.1M736.8 718.5l4.9-7 7.2-4.7 6-5.9 6-5.9M725.9 690.1l8.1-5.9 8.4-5.4 8.7-4.7 9.8-2.6M760.9 695l3.4-12.3M764.3 682.7l-3.4-11.2M736.4 723.1l.4-4.6M693.6 695.7l8.3-2.2 7.9-3.5 8.6-1.3M718.4 688.7l7.5 1.4M767.6 725.6l-2.6-7.5 .3-8-3-7.4-1.4-7.7M797.6 709.4l-7.8-4-7.1-4.8-4.9-7.5-7-4.9-6.5-5.5M765.2 654.1l-.7 9-3.6 8.4M909.8 758.2l-5.2-6.9-4-7.9-6.5-5.9-5.6-6.6M909.8 758.2l2.6-9.1-1.3-9.5 1.3-9.2 1.1-9.3M888.5 730.9l3.9-8.4 6.6-6.5M913.5 721.1l-14.5-5.1M879.8 731.9l8.7-1M911.9 765l-2.1-6.8M928 715.7l-14.5 5.4M894.9 706.2l4.1 9.8M654.7 1071.3l-7.5 3.2-6.3 4.9-5.8 5.7-6.5 4.6M600.8 1035.9l-.5 9.4-5.3 8-3.1 8.7-3 8.8-.3 9.4M628.6 1089.7l-8.3-.9-7.8-2.7-8-2-8.1-1.3-7.8-2.6M542.4 1430.4l-7.1-6.3-7.9-5.2-6.7-6.8-8.2-4.8-8-5.2-6.6-6.8-7.4-5.9M490.5 1389.4l1.9-9.5 4.5-8.7 3-9.2 4.7-8.6 1.4-9.8 3-9.1 3.2-9.1 2.4-9.4M466.6 1482.5l7.4-5.5 6.8-6.3 8.3-4.2 8.1-4.5 8.4-3.9 6.9-6.2 7.6-5.3 8.1-4.5 8.1-4.4 6.1-7.3M417 1402.3l8.1-3.3 7.7-4.1 7.4-4.8 8.7-2M448.9 1388.1l8.4-1.4 8.2 1.9 8.4-.6 8.3-.7 8.3 2.1M448.9 1388.1l-1.4-9.1-1-9.2 1-9.4-.3-9.2-1.8-9.1-2.7-9.1 .4-9.3 .9-9.4-2.9-9-1-9.1M440.1 1296.2l9.5 1.6 9.2 3 9.1 3.1 9.5 1.9 9.2 2.8 9.7 1.1 9.6 1.6 8.7 4.7M336 1019.9l5.1 8.6 7.4 7.1 4 9.3 5.7 8.2M417.9 1010.5l.2 14.1M418.1 1024.6l-4.6 6.5-5.9 5.3-6.5 4.7-5.2 5.9M395.9 1047l-9.7 .2-9.2 2.4-9.2 3.1-9.6 .4M325.2 1069.7l7.7-.7 7.5-2.4 7.8 1.2M348.2 1067.8l4.3-7.8 5.7-6.9M563.6 1207.7l-7.5 3.4-8 1.4-7.7 2.5-8.3 .1M532.1 1215.1l-1.6 8.3-1.3 8.4-.9 8.5-1.6 8.3-4.2 7.7M522.5 1256.3l3.5 7.5 2.8 7.8 4.7 6.8 5.6 6.4 4 7.2M465.5 1246.6l-2.6-9.1-5.8-7.7-3.6-8.7-2.3-9.1M465.5 1246.6l-4.1 8-5.3 7.3-5.2 7.3-3.3 8.5-3.9 8.2-6.7 6.4M378.2 1229.5l8.6-3.5 7.2-6.3 8.8-3.3 8.6-3.4 8.6-3.6 7.6-5.5M378.2 1229.5l4.3 9.3 3.1 9.5-.1 10.3 2.8 9.6 1.3 10 3.2 9.5M427.6 1203.9l8.1 2.2 7.2 4.5 8.3 1.4M392.8 1287.7l8.6 2.8 9.1-1.4 9-.4 8.9 0 8.6 3.6M440.1 1296.2l-3.1-3.9M522.5 1256.3l-9.5-1.9-9.5-1.6-9.4-1.9-9.6-1.2-9.3-2.4-9.7-.7M346.9 1212.5l7.8 4.4 7 5.8 7.9 4 8.6 2.8M358.1 1324.6l4.5-7.3 7.1-5 4.3-7.5 7.4-4.7 6.5-5.4 4.9-7M748.4 645.1l-7.9 1.8-7.7 2.5-7.2 4-7.9 1.9M748.4 645.1l-6.8-5.4-4.7-7.1-5.9-6.2-4.9-7M726.1 619.4l-6.8 5.2-6.1 6.1-5.9 6.3-7.5 4.3-7.3 4.7M717.7 655.3l-7.8-3.6-8-2.7-8.7 .7M693.2 649.7l-.7-3.7M762.3 649.6l-13.9-4.5M718.4 688.7l-.6-8.3 .5-8.4-1-8.3 .4-8.4M762.4 598.8l-8.7-1.9-8.9 .3M744.8 597.2l-6.3 5.9-7.9 3.7-6.7 5.5M723.9 612.3l2.2 7.1M678.4 620.3l3.6 9.2 5.7 8 4.8 8.5M678.4 620.3l8.2-3.9 6.5-6.5 8.8-2.9 6.6-6.2M723.9 612.3l-8.3-4.8-7.1-6.7M676.4 678.1l4.4-7 3.3-7.6 3.9-7.2 5.2-6.6M497.4 590.7l8.9-3.4 9.4-2.1 8.7-3.9M497.4 590.7l-5.3-7.7-4.2-8.5-5.6-7.5M486.2 555.5l-3.9 11.5M486.2 555.5l8.3 2 8.6 0 8.2 2.6 8.4 .7M524.4 581.3l-.2-14.1M519.7 560.8l4.5 6.4M491 608.4l1.8-9.4 4.6-8.3M528.9 587.6l-4.5-6.3M459.2 583.6l7.1-6.4 7.8-5.3 8.2-4.9M482.2 545.8l4 9.7M523.3 546.7l-3.6 14.1M564 556.3l-7.9 2.5-8.3 .9-8 2.2-7.7 2.8-7.9 2.5M689.3 466.8l3 8.5 3.3 8.5 2.9 8.5 1.8 8.9M678.7 519.4l1.9-.1M700.3 501.2l-7.6 5-5.7 6.9-6.4 6.2M725.5 478.9l-3 9-5.5 8-2.3 9.4M725.5 478.9l-6.5-3.6-5.8-4.9-7.6-1.6M700.3 501.2l14.4 4.1M708.5 600.8l-.4-9M667.9 601.1l4.6-6.3 1.8-7.5 3-6.9M708.1 591.8l-7.3-3.8-8.4-1.1-7.2-4-7.9-2.5M631.9 577l8.4-2.8 7.9-3.7 8.9-1.4 8.6-1.7 7.5-5.2M677.3 580.4l-1.7-9.2-2.4-9M670.4 547.5l4.2 12.1M673.2 562.2l1.4-2.6M708.1 591.8l2.7-7.7 3.5-7.4M674.6 559.6l7.9-1.8 8 .1 7.9-.6M714.3 576.7l-5.9-5.9-3.9-7.7-6.1-5.8M680.6 519.3l6.8 5 8.1 2.3 6.8 4.8 7.9 2.6M698.4 557.3l4.1-7.7 3.6-7.9 4.1-7.7M714.7 505.3l1.5 7 4.2 5.8 3.5 6.1M723.9 524.2l-.2 4.7M710.2 534l13.5-5.1M790.4 540l7.6 3.5 7 4.7M790.4 540l-2.5-9.8M822.9 509.9l-8.1-5.3-9.3-2.5M787.9 530.2l4.7-6.2 4-6.7 2.4-7.4 2.3-7.4M805.5 502.1l-4.2 .4M842.3 480.3l-9.5-1.6-8.2-5.1M805.5 502.1l4-7.6 3.6-7.9 4.6-7.3 6.9-5.7M801 449.6l-4.5-6.7-3.9-7.1-3.2-7.5M801 449.6l-4.7 7-6.1 5.5-6.8 4.9M769.2 443.1l.1 12.6M783.4 467l-8-4.4-6.1-6.9M801.3 502.5l-4.7-7.4-5.6-6.5-7.1-5.2M823.6 472.6l-9.4 2.5-9.6-.3-9.6 .1-9.5 .9M785.5 475.8l-1.6 7.6M735.8 443.9l3.7 6.6 2.6 7 2.9 7M769.3 455.7l-7.6 4.2-7.8 3.9-8.9 .7M820.1 458.6l6.1-6 6.5-5.6 5.8-6.3 5.2-6.9 6.9-5.2M820.1 458.6l-11.5-9M808.6 449.6l3.9-8.7 4-8.6 4.3-8.5M820.8 423.8l9.1 .4 9 2.3 9.1-1.3M848 425.2l2.6 3.4M866.9 439.7l-7.9-5.8-8.4-5.3M823.6 472.6l-3.5-14M801 449.6l7.6 0M783.4 467l2.1 8.8M801.1 411.4l6.9 3.6 7 3.5 5.8 5.3M847.8 401.9l.4 7.7-1 7.8 .8 7.8M586 1157.9l-3.6-7.9-6.7-5.5M575.7 1144.5l7.8-4.5 7.7-4.5 6.4-6.5 7.7-4.6 6.7-6.1 7.3-5.1 8.8-2.9M611 1168.6l5.9-6.2 3.2-8 2.9-8.1 6.6-5.8 5-6.8 3-8.1M637.6 1125.6l-6.1-6.8-3.4-8.5M668.3 1135.9l-7.5-2.9-8.3-.9-7.3-3.6-7.6-2.9M628.6 1089.7l-.9 6.8 2 7-1.6 6.8M507.9 1013l2.6 8.2 2.4 8.2 1.7 8.4 1.3 8.5M418.1 1024.6l5.9 6.9 7 5.6 5.6 7.2 7.1 5.6 6.3 6.4 7.7 4.9M515.9 1046.3l-8.6 1.3-8 2.9-7.1 5.3-8.4 1.7-8.6 1.1-7.6 4.2M457.7 1061.2l9.9 1.6M397.1 1096.9l-9 4.2-9.2 3.4-9.4 2.7-9.7 1.9M397.1 1096.9l5.6 6 8.1 2.2 5.8 5.7 7.3 3.4M423.9 1114.2l.6 1.9M424.5 1116.1l-6.6 6.4-5.8 7.1-4.8 7.9-3.7 8.6-6.3 6.6M397.3 1152.7l-9.6 .3-9.5 1.1-9.6 1.3-9.5 .1-9.6 1.4-9.6-1.5M359.8 1109.1l-4.5 7.9-4.1 8.1-4.2 8.1-6.2 6.9M340.8 1140.1l-.9 15.3M395.9 1047l.1 10 1 10-.8 10 1.7 9.9-.8 10M348.2 1067.8l3.9 7.8 3.3 8-.6 9 1.1 8.6 3.9 7.9M457.7 1061.2l-5.8 7-2.7 8.9-4.4 7.9-5.6 7.1-6.4 6.5-4.9 7.5-4 8.1M467.6 1062.8l3.3 8.5 .9 9.2 2 8.8 1.8 8.9 5 8.1 1.2 9.1M481.8 1115.4l-4.6 7.3-3.6 8-6.2 6.2M454.5 1135.7l-7.9-4.4-6.7-6-7.7-4.7-7.7-4.5M454.5 1135.7l12.9 1.2M424 1185.7l-4.2-7.6-7-5.2-3.9-7.8-4.5-7.2-7.1-5.2M424 1185.7l4.4-8.7 4.4-8.8 7.3-7 4.5-8.7 4.9-8.4 5-8.4M335.4 1162.4l4.5-7M424 1185.7l2.2 9 1.4 9.2M305.1 1094l6.6 7.2 6.9 6.9 6.4 7.3 4.6 8.8 4.2 9.1 7 6.8M733 573.6l-4.7-1.8M733 573.6l7.5-1.3 7.5-1.2 7.8-.4 6.8-4.1M728.3 571.8l2.4-8.8-.9-9.3 .5-9.2 3.3-8.7M765.3 554.5l-2.7 12.1M765.3 554.5l-5-5.8-5.7-5-6.2-4.2-7.1-3.2M741.3 536.3l-7.7-.5M744.8 597.2l-2.5-8.6-6.2-6.8-3.1-8.2M714.3 576.7l14-4.9M764 569.7l-1.4-3.1M723.7 528.9l9.9 6.9M790.4 540l-8 5.5-7.6 6.1-9.5 2.9M787.9 530.2l-8.4-4.7-6.8-6.8-7.9-5.3M764.8 513.4l-5.6 6-4.7 6.9-7.4 4.2-5.8 5.8M763.6 508.4l-6.8-3.5-7.2-2.1-7.5-1.2M763.6 508.4l4.2-8.5 3.4-8.7M771.2 491.2l-7.4-4.7-8.5-2.8-7.3-5-7.8-4.1M742.1 501.6l-3.4-7.4-.8-8.2-2.7-7.7M735.2 478.3l5-3.7M723.9 524.2l7.5-6.3 4.1-9.2 6.6-7.1M764.8 513.4l-1.2-5M783.9 483.4l-12.7 7.8M745 464.5l-4.8 10.1M725.5 478.9l9.7-.6M532.1 1215.1l-5.7-6.2-2.1-8.3-5.1-6.6M451.2 1212l6.5-6.4 6.1-7 6.9-6 8.6-3.9 6.6-6.3 7.2-5.6M493.1 1176.8l7.6 2.7 6.8 3.8 5.4 6 6.3 4.7M467.4 1136.9l5.8 6.3 3.3 8.1 6.7 5.7 4.7 7.1 4.7 7.1M493.1 1176.8l-.5-5.6M575.7 1144.5l-3.1-2.2M519.2 1194l5.7-7.4 8.1-5.1 6-7.2 6.2-6.9 5.8-7.4 8.9-4.2 5.9-7.3 6.8-6.2M521.9 1108.3l5.4 5.7 5.2 5.8 5.6 5.5M521.9 1108.3l0-8.7-2.2-8.6 1-8.7-.2-8.7 1.1-8.8-1.4-8.6-2-8.6M581 1083.8l-4.5 9-1.6 9.9-3.3 9.4-2.2 9.8-4.9 8.8M581 1083.8l-6.6-6.1-6.9-6-8.8-3.1-7.7-4.7-6.9-5.9-7.7-4.6-6.8-6M564.5 1130.7l-8.8-1.7-8.6-2.7-9-1M529.6 1047.4l-11.4 .2M481.8 1115.4l8.2-.4 8.1-.8 7.6-3.8 8.3 .2 7.9-2.3M492.6 1171.2l5.4-7.6 6-7.1 8.6-4.5 5-8 6.2-6.9 6.1-6.9 8.2-4.9M515.9 1046.3l2.3 1.3M588.6 1080.2l-7.6 3.6M572.6 1142.3l-8.1-11.6M570.8 1019.3l-7.4 6.8-9 4.6-8.8 4.7-9.1 4.4-6.9 7.6" fill="none" stroke="#3c2814" stroke-opacity="0.2" stroke-width="0.75"/>
</g>
<path d="M478.9 216.8l.6-3.1 2-2.6 .8-3 1.6-2.6 1.1-2.8 1.4-2.7 1.9-1.6 2.6-.2 1.8-1.6 3.5 1.1-1.9 2.7-1 3.1 2.3 4.6-2.9 1.4-2.8 1.5-.9 2.6-.9 2.6 3 .1 2.8 1.1 1.7 2.9 0 3.4 .8-2.6 1.3-2.3 .8-2.6 .9-3.4 2.7-2.5 1.1-3.3 1.1-3.3 1.5-3.1 2-2.9 4-1.1 1.1 2.8-.5 2.9-2.1 1.9-.9 2.6-1 2.5-2.3 1.9-1.2 2.7 1.6 2.4 1.9 2.2 .2 2.5-1.1 2.2-.9 2.3 3.5 1.1 1.2-2.7 .5-3 1.8-2.4 2.1-2.2 .7-3 1.7 2.5 1.2 2.7-1 3.4-2.6 2.5-1 3.4 1.9-2 2.7-.9 2.2-2.5 .9-3.3 1.6-2.9 1.4-2.5 1-2.6 1.6-2.4 3.4-.3 3.5-.3-.5 4.6-1.1 2.3-1.4 2.1-2.2 1.4-1.8 2.7-.5 3.1 4.7-1.1 1 2.8 .1 2.9-1.3 2.8-.4 3 .9 2.6-1 2.9 1.2 2.6 3.1 1 3.3-.4 2.6-1.7 2-2.4 .9-2.6 0-2.8 .3-2.7 3.4-2.8 3.5 2.8 .2 3 1 2.8 4.6 2.3 2.3 2.5 1.2 3.3-1.7 2.1-1.8 2 4.6-1.8 1.3-2.1-.3-2.7 1.3-2.1 2.4-2.5 1.1-3.3 3.5-2.9 4 .6-1 2.8 .4 3-2.8 1.8-3 1.6-1.5 3-1.9 2.8-.3 3.1-.3 3.1-.6 3.1 .6 2.4 2.3 1.3 1.2 2.1 .2-3 1-2.6 1.7-2.5 1.9-1.9 1.9-1.8 .8-2.7 2-2.3 2-2.2 1.2-2.7 1.3-2.7 1.2-2.7 2.7 .8 2.8-.1 1.1 2.3 0 2.7 .8 2.4-.1 2.9-.1 2.9 .2 2.9-2.7 1.8-2.9 1.2-3.1 .7-3.7 2.5 3.3 .1 3.2 1.5 3.4-.4 1.2 2.4 .7 2.5-.8 2.9-.1 3-1 2.8 1.4 4.8 4 1.5 2-2.6 1.1-2.9 1.6-2.5 2.3-2 2.2-2.6 1.6-3 1.2-3.1 1.4 3 1 3.2 1.3-2.4 .9-2.4 1.3-2.4 .3-2.7 .5 2.8 2.1 2.1 1.1 2.5 1.2-2.7 .2-2.8-.3-2.8 .1-2.8 1.3-2.8 0-3 .6-2.9 3.7 1.3 .8 2.8 .8 2.8 .2 3 2.5 4.4 2.9 1.6 3.3 .2 3.7 3.7-3.7 2.5 3.7 1.3 5-1.3-1.8-2.9-.7-3.3 2.2-1.9 2.8-.5 2.5-1.7 2-2.1 1.7-2.4 2.4-1.6 2.5-1.5 4.3 2.4-1.6 2.1 .3 2.8-1.7 2-2.2 2.2-2.8 1.5-.9 2.3-1.4 1.9-1.4 2 .4 2.9 0 2.9-1 2.8 3.5 .4 3.3 .9 1.3 2.6 2.4 1.7 1.7-2.4 .4-2.8 .4-2.8 3.7 2.4 1.6-2.1 1.3-2.3 2-1.8 2.6 .6 2.4-1 2.5-.2 3 1.3 3.2 .6 2.3 1.5 1.4 2.3 1.2 2.4-1.6 2.2-1 2.5-.5 2.7-2.5-2.2-3.1-.9-2.5 .9-2.4 1.3-2.5 .9-2.2 2-2.4 1.7-1.6 2.5 2.6 .5 2.4 1.2 2.5 .8 4.9 0-1.3 2.3-2.3 1.5-1.3 2.4-2.1 2-3 .2-2.4 1.5 3.4 .4 3.1-2.1 3.4 .4 2.9-.2 2.9-.3 2.9-.7 1.2-2.3 .2-2.6 .5-2.5 2.9 .9 2.6 1.6 .6 2.4-.5 2.7 1.2 2.3 2.8-.6 2.1-1.9 1.3 3 0 3.2 3.7 2.5 .1 3.2-1.4 3-4.9 1.8 2.3-1.3 2.4-.7 2.7 .2 1.9 2.4 1.8 2.5 1.3 2.7-.7 3.1 1.3 2.7-2.3 1.8-1.4 2.7-2.5 1.5-3.1 .9-3.1 1.1 2.9 .2 2.8 .8 2.9 0 2.8 1-1.9 2.6-2.4 2.1-2.6 1.9-2.5 2-2.3 2.5-1.8 3-2 2.8 .1 2.9-1.9 2.4-.3 2.8-3.1 1.5-2.7 2.1-2.4 2.4-2.9 .3-2.4 2.2-3-.1 2.8 1.3 3.1 .7 2.4 2.1 .2 2.9 1.7 2.5 .1 2.9-2.3 1.1-1.6 2.1-2.3 1 2.3-1.8 1.6-2.6 1.7-2.4 2.7-1.5 1.5-2.6 1.5-2.7 2.6-1.9 .7-3.2 2-2.3 2-2.7 2.1-2.6 1.9-2.7 3.2-1 2-3 3.2-1.1 2.7 1.2 2.8 .9 2.8 1 1.2 2.7 1.2 2.7 2.5 1.9 1.3 2.7 .7 3.3 1.3 3.1 1 3.2 1.1 3.1 .1 2.6-2 2.1-.1 2.6-3.2 1.3-2.1 2.9-2.9 1.8-2.7-.7-2.1-2.1-3.2 .5-2.3-1.7 0 3.5-.6 3.3-1.5 3.2-1.6 2.4-1 2.7-.6 2.9-1.2 2.6-1.7 2.5-.6 3.1-2.4 2.1-1.3 2.7-1.1 2.9-1.3 2.8-1 3-1.2 2.9-1.4 2.8 0 3.4-.1 3.3-1.1 3.2-.1 3.4-.9 3.2-1.4 2.7-1.2 2.7-.8 2.9-.6 3-1.1 2.8 1.7 3 1 3.3 1.1 3.2 1.3 3.2 1.6 1.9 1.3 2.2 2.3 1.2-1.3 2.7-2.4 1.7-1.9 2.2-2.1 1.9-1.6 2.5-3 1.6-2.5 2.3-2.4 2.3-2.4 2.3-2.6 .9-2.2 1.4-2.6 1-2 1.9-.7 3.1-.3 3.1 0 3.1 2.1 2.1 .8 3 2.3 1.9 4.4-2.5-.9-2.5-.2-2.7-.9-2.5 2.6-2.1 2.4-2.2 2.2-2.5 1.5-3 1.6-2.3 2.4-1.2 2.2-1.6 2.3-1.3 1.9-2.5 1.6-2.6 2.6-1.8 1.9-2.4 1.8-2.4 2.5-1.6 2.9-1 2-2.1 2-2.2 1.9-2.4 1.5-2.7 3.1-1.4 1.6-2.6 1.3-2.9 2.4-2 .2-3.1 1.1-2.9 .6-2.9 .2-3.1 .1-3.2 1.8-2.9-.6-3.3 .8-3 .6-3.3 2-2.8-.2-3.5 1.6-3 .3-3.4-.8-3.4 .7-3.4-.6-3.5 .2-3.4 .2-3.4 3.1-1 2.2-2.5 2.7-1.6 3.1-1 3.3-.6 2.9-1.5 3.1-1.1 3.3-.5 3.2-.7 2.9-1.6 2.9-1.4 3.6 0 2.7-2 2.6-1.1 2.8 1.2 2.6-.1 2.6-1 .1 3.1 .9 2.9 .4 2.8-1.4 2.4 .3 2.8-1.3 2.5-2.5 2.4-2.4 2.4-1.7 3-2 2.8-3 1.9-1.6 2.5-.8 2.9-1.8 2.3-1.8 2.3-2.5 1.7-3 .9-2.1 2.4-2.7 1.4-2.6 2.2-3.5 .7-3 1.6-2.7 2.1-2.9 1.7 2.6 .7 2 1.6 1.8 1.8 2.6-.7 2.6-.2 2.5-1.1 2.7 0 .1 2.9 .6 2.7 1.3 2.6 2.6-1.5 2-2.1 .9-3.2 2.8-1.3 1.9-2.2 3 0 2.4 2.1 3 0 1-2.5 .5-2.6-.5-2.8 1.1-2.5 .3-2.6 2.3-1.6 .5-2.5 2.5-2 2.3-2.1 2.2-2.3 2.8-2 2.9-2 2.2-2.6 1.3-3.2 4.6 2.3 .9-3 1.4-2.8 2.6 1.4 2.1 2.1 .5-2.4 .7-2.3 1.1-2.2 2.2 1.6 2.4 1.2 1.8-2.3 .5-2.9 4.6 1.2 3.5-3.5 2.1 1.5 1.6 1.9 .9 2.4 2.4-2.3 2.3-2.3 1.3 2.9 2.3 2.2 1 3 1.4-2.6 2.1-2 .4-3.2 1.9-2.6 4.6-1.2 2.3-4.6 3.5-1.2 1.2 2.2-.5 2.5 .4 2.3 2.1 2 2.5 1.4 1.5 3 2 2.8 2.3-2.3-1.4-2.9-.8-3.1-.1-3.2 2.6 0 2.1-1.5 2.3-.8-2.8-1.4-2.4-2-2.9-1.3-1.4-2.5-2.1-2.1 2.3-2.3 2.3-2.3 3-1.2 3.3 1 3-1 2.9-.4 2.9-.1 2.8 .7 2.9 .4 2.9 .8 2.8 .9 3.1-.1 2.8 1.3 2.8 1.4 3 .6 3.1 .4 2.7 1.6 2.5 2 2.8 1.5 2.6 1.6 3 1.1 3.1 .8 2.3 2.4 3 1 2.8 1.9 3.4 .7 2.9 1.9 3.1 1.3 3.5 .3 2.7 2.2 3.1 1.2 3.3 1.1 3.6-.1 2.8 2.1 3.3 .3 3.2 .8 2.9 .8 2.9 .3 2.2 2 2.1 2.1 2.4 1.7 2.9 1.2 1.9 2.3 2.1 2.3 2.9 1 2.3 2.1 3.1 .6 2.3 2.1 2.2 1.3 2.5-.5 2.3 .3 1.2 3.5 2.7 .3 2.7-.3 2.6-.6 3.4 .9 3.5-.7 3.5 .4 2.4 3.5 3.1 .1 2.6 1.6 2.2-1.9 2.1-2 2.7-1.3-.6-4 2.9-2.4 2.3 2.4 2.9 .2 2.9 .6 2.9-.7 2.9 .4 3.5-.7 3.4-.2 3.4 .8 3.5 .1 2.3 4.7 3.5 2.3 .6-2.9 3.3 .1 3.4-1 3.3 1.2 3.3-.3 2.9-.4 2.9-.1 2.9 1.6 2.9-.7 1.3 2.5 1.4 2.5-3.8 3.8-1.1 2.3 .6 2.4 0 2.4-.4 2.3-1.5 2 .6 2.8 2.2 1.9 2.1 1.8 1.8 2.1 .9 2.7 1.9 2-.7 2.2-1.9 1.7 .2 2.7-1.4 1.9-2.2 1.7-.4 2.8-1.8 1.8-1.3 2.3-2.7 .7-2 1.8-2 1.7-1.8 2.2-.8 2.7 .1 3.1-1.9 2.2-2.2 1.5-1.3 2.3-1.3 2.3-1.9 1.7-2.4 1.8-3.1 .2-2.4 1.8-2.9 .7-2.5 1.5-2.4 1.8-2.1 1.8-.6 2.6-1.6 2.1-1.2 2.3-1.1 2.3-2.1 1.7-2.9 .1-1.7 2.4-2.7 .5-2 1.8-2.9 .1-2.4 1.5-2.3 1.9-3.1-.3-2.4 1.5-2.8 .6-2.4 1.7-2.6 1.1-2.9 0-2.7 .9-1.9 1.6-2.8-.8-2 1.6-2.3-.8-2.2-.8-2.3-.8-.9 2.3-1.6 2.1-1.5 2-.4 2.6-1.7 2.3-2 1.9-2.2 1.7-1.6 2.4-2.3 1.6-1.9 2-1.9 2.1-1.5 2.1-2 1.7-1.5 2.2-1 2.5-2.2 1.5-.9 2.7 1.2 2.7-.2 2.7 .1 2.7-.2 2.7-1.9 2-1.2 2.3-.5 2.8-1 2.4-.6 2.6-2.6 1.7-.5 2.7-1.4 2.5-2.4 1.6-1.6 2.3-1.8 2.1-1.9 2-1.6 2.3-1.7 2.2-2.5 1.5-1.7 2.2-2 1.9-1.5 2.3-.9 2.7-2.4 1.7-1.4 2.4-1 2.8-2.2 2-2.3 1.8-1.8 2.2-1 2.9-2.3 1.9-1.1 2.7 0 2.5 0 2.5-.2 2.5 .2 2.5-.1 2.8 1.3 2.3 1.3 2.4 .4 2.6 1 2.5 1.1 2.4 2.2 1.4 1.5 2.2 1.9 1.7 2.3 1.3 2.1 1.4-.2 2.9 2.3 2.3-.3 2.9 .4 2.8 .8 2.6-1.4 2.2-1.4 2.3-2.4 1.5-1.2 2.3-1.4 2.3-1.3 2.3-3 1-.9 2.6 .5 2.8 .7 2.8 .1 2.8 .2 2.9-.9 2.9 1.5 2.7-.3 2.9 1.7 2.4 1.6 2.5 .7 3 1.8 2.4 .8 2.9 1.2 2.5 .2 2.8 .6 2.8 1.1 2.5 1.5 2.4 1.6 2.6 .1 3.1-.2 3 2.2 2.5 .4 2.9 .2 3 .7 2.9 .9 2.5 .1 2.8 .8 2.6 1.1 2.5 .7 2.6-.1 2.9-.6 2.8-.7 2.8-.2 2.9-1.7 2.5-.3 2.9-1.4 2.6-2.9 1.3-1.6 2.5-1 2.9-2.5 1.7-1.9 2.2-2.1 1.8-1.2 2.8-2.6 1.4-1.4 2.6-2.6 1.3-2 1.9-.5 3-2.6 1.5-2.2 1.8-1.4 2.3-1.1 2.6-1.3 2.3-2.1 1.7-1.1 2.4-2 1.8-1.9 1.8-.7 2.6 .1 2.6 1.5 2.6-.7 2.6-.2 2.6-.3 2.6 .9 2.6-1.2 2.6-.1 2.6 .7 2.6 .3 2.8 .7 2.8-.6 3 1 2.7 .9 2.8 .2 2.8 .6 2.8-.3 2.9 .1 3 1.3 2.6 .3 2.9 .5 2.9 .4 2.9 1.6 2.6 2.3 1.5 1.6 2.1 1.2 2.5 2 1.7 2.4 1.4 1.7 2 1.8 1.8 2.6 .9 2 1.6 2.2 1.4 1.6 2.1 2.2 1.4 1.7 2 .8 2.8 0 3.1 2.3 2.4 .1 3 .9 2.8-1.5 2.6-.3 2.9-.7 2.9-1.3 2.7-.3 2.9 .4 3-2.2 2.5 0 2.8-.7 2.8-.5 2.8 .1 2.9-.3 2.8-1 2.4-1.3 2.4-1.6 2.2-1.8 2.2-1 2.5-.2 2.8-1.2 2.4-1.9 2.1-1.9 2.1-1.1 2.7-2.7 1.6-1.7 2.2-1 2.8-2.4-.6-2.4-.6-2.4 0-2.5 .1-2.4 .1-2.8 .7-2.8 .4-2.8 .5-2.7 .7-3.1-1.3-2.6 1.6-2.8 .8-2.9-.5-2.7 1.2-2.7 1.2-3 .2-2.7 1-2.9 .5-2.6 1.5-3 .3-2.8 1-2.8 1-2.9 .6-2-1.7-2.6-.3-2.1-1.5-1.9-1.7-2.6-.5-1.8-2.3-3-.8-2.7-1.1-1.3-3-2.9-1-2.3-1.6-3-.3-2.8-.7-2.8-1-2.8-1-2.9-.5-2.6-1.5-2.6 1.4-3.2-1.1-2.7 .9-2.5 1.9-3-.1-2.8 .6-3 .5-2.6 1.6-2.5 1.8-3.1 .3-2.8 .8-2.8 .4-3-.6-2.7 1.1-2.8 .7-2.8 .4-1.9 1.5-.9 2.5-2.6 .8-1.9 1.6-1.3 2.1-2.1 1.6-1.4 2.3-1.7 1.9-1.5 2.2-1.9 1.7-2.4 1.3-1.2 2.7-2.1 1.9-2.2 1.9-.9 2.9-2.1 2-1 2.4-1.4 2.2-1.1 2.4 0 2.8-2.6 1.7-.4 2.7-2.7 1.3-2.3 2-2.5 1.5-3 .8-2.8 1-2 2.5-2.6 1.3-2.8 1.2-2.5 1.6-2.2 1.6-2.7 .6-2.8 .2-2.2 1.6-2.7 .6-2.2 1.6-1.5 2.3-2.7 1.2-1.7 2.1-1 2.8-2.2 1.6-2.1 1.8-1.6 2.1-1.9 2-1.3 2.4-2.2 1.7-2.8 .5-2.7 .9-3-.2-2.7 1.4-3-.6-2.6 1.5-2.6 1.5-2.1 2.2-2.7 1.4-2.2 2.1-3.1 .7-1.8 2.7-3.1 .8-2.4 1.8-2.6 1.1-2.9-.1-2.3 1.9-2.9-.2-2.7 .7-2.4 1.6-2.7 1-2.7 .3-2.8 .2-2.5 1.5-2.8 .3-2.5 1.6-2.9 0-2.9 0-2.3 1.9-3.1-.7-2.5 1.5-2.5 1.4-2.7 .9-2.8 .2-2.8 .5-2.7 .7-1.7 2.2-1.9 1.8-2.6 1.1-1.8 2-2.2 1.4-2.1 1.7-2.4 1.3-1.8 2-1.3 2.7-.5 3-1 2.8-2.3 2.2 .3 3.4-1.9 2.4-.2 3.1-.7 2.9-2.2 2.4-.4 3.1-1.5 2.6-.3 3.1-.4 3-1.1 2.8-.4 3-1.1 2.8 .3 3.1-1.6 2.8 .2 3.1 .1 3-1.1 2.9-1 2.8-.4 3-.8 2.8-2.7 1.7-1.4 2.4-.8 2.8-2 2.1-1.1 2.6-1.2 2.6-1.3 2.5-.6 3-2.5 2.1-1.1 2.7-.4 3.1-1.1 2.8-.6 2.9-1.9 2.4-1 2.6-1.1 2.6 .1 2.9-.6 2.7-1.4 2.5-.5 2.7-1.3 2.2 .3 2.7-1 2.3-1.5 2.1-.5 2.4-1.1 2.8-3 1.2-1.1 2.8-2.5 1.6-1.3 2.7-1.4 2.5-1.6 2.4-1.9 2.1-2.4 1.7-1 2.6-2.2 1.9-1.5 2.3-1.2 2.5-.9 2.7-2 2-1.1 2.5-1.3 2.6-.1 3-.3 2.9-1.6 2.6-.4 2.9-1.3 2.6 1.6 2.5 .6 2.8 1.6 2.4-.4 3.3 2.1 2.2-.1 3.1 1.4 2.6 1.4 2.5 1.5 2.6-1.1 3.1 .7 2.7 1.1 2.6-.1 2.9 1.3 2.6 1.4 2.6 .3 2.8-.1 2.9 .8 2.4-.6 2.7 .5 2.4 1 2.4 2.9 1 2.2 1.9 2.7 1.2 2.1 2.2 1.5 2.5 .8 2.8 .9 2.7 1.4 2.6 .4 2.9-1.6 2.5-.6 3-2.4 2.2-.6 3-1.4 2.6 .3 2.9-.4 3 .9 2.8 .4 2.9 .4 2.9-.1 2.9 .2 2.9-.7 3 .6 2.9-.4 2.9-1.4 2.7 .1 3.1-.4 2.9-1.1 2.8-.9 2.8-.9 2.8-1.2 2.8 1 3.1-.5 2.8-.3 2.9-.5 2.9-1.8 2.7-.3 2.9 .9 3.1-.9 2.8-.2 2.8-1.8 2.2-1.1 2.4-.2 2.9-1.6 2.3-1.6 2.2 .4 3.1-1.9 2.1-1.4 2.1-1.1 2.3-.7 2.4-8.3 0 .4-2.6-.4-2.4-.5-2.5-1.1-2.3-2.7 1.3-3-.5-2.7 .8-2.9 .3-2.7 1.3-2.9-.2-3 0-2.8-1-3-.1-2.8-1-3 .2-2.9-.7-2.6-1.7-3 0-2.9-.7-2.2-1.9-1.9-2.2-2.7-1.3-2.6-1.5-1.3-2.9-2.6-1.5-1-2.5-1.1-2.4-1.2-2.4-.6-2.6-2.2-1.9-.5-2.7-1.6-2.2-.7-2.8-.2-2.9-.3-2.9-1.1-2.8-1-2.8 .3-2.9-.5-2.9-1.3-2.4-1.8-2.1-1.8-2-1.3-2.5-1.8-2-2.5-1.2-2.2-1.6-2-1.9-1.6-2.4-2.9-.8-1.8-2.1 .5-2.7 1.2-2.4 1.1-2.5 1.6-2.2 1.6-2.2 1.9-2.2 2.1-1.9 1-2.8 2-2.1-2.2-1.9-2.1-2-2-2.1-1.3-2.8-2.4-1.7-1-2.2-1.6-1.9-.7-2.4-2.7-.3-1.9-2.2-2.4-.9-2.3-1.2-2.8 .1-2.2-1.6-2.4-.9-1.2-2.8-2.4-1.9-1.3-2.8-3-1.4-.7-3.2-3.2-1.3-1.2-2.8-1.5-2.6-2-2.3 .1-3.3-1.6-2.5-.8-2.9-1.6-2.5-1.1-2.8-2-2.3-.6-3-2.1-2.2-2.4-1.4-2.9-.2-2.2-2.1-3 .1-2.7-.6-2.7-.7-2.3-1.7 1.1-2.4 .8-2.7 2.4-1.7 1.2-2.4-.1-3 1-2.5 1.9-2.1 1.5-2.5 .9-2.9 2-2.2 1.9-2.3 .6-3.1 1.7-2.4 2.3-2.1 .7-3 1.5-2.5-.3-2.9 1-2.9-.1-2.8 .2-2.9-.4-2.9-.6-2.8 .6-2.9-.4-2.9 2.3-1.8 1.6-2.5 1.3-2.7 1.9-2.1 2-2.1 2.4-1.8 1.5-2.5 1.8-2.2 1.8-2.3 .9-2.5-1.1-2.8 1.3-2.5-.3-2.6 .6-2.6 2.2-.8 2.3-.4 1.7-1.9 2.3-.4 3.1-.1 2.2-2.5 3.1-.1 2.8-.9 2.6-1.5 3-.4 2.7-1 1.6-2.2 1.7-2.1 2.1-1.8 .6-3 2.3-1.7 2.2-1.6 .8-2.9 2.2-1.7 1.4-2.6-.5-3.1 1.6-2.5-.2-3 1.2-2.7 .6-2.8 .9-2.7-1.9-2-.2-2.9-1.6-2.2-.8-2.5-1.5-2.3-1.2-2.4-1.3-2.3-2.1-1.4-2.4-1-1.6-2.3-3-.1-1.4-2.6-2.5-.8-3 .2-2.5 1.5-2.9 .3-2.7 1-2.7 1-2.7 1-2.8 .8-2.8 .5-2.8 .4-2.9 .5-3-.8-2.6 1.6-2.9 .2-2.1 1.8-2.2 1.7-2.7 1-1.8 2.2-2.3 1.6-2.1 1.7-2.3 1.7-2.5 1.2-2.3 1.5-2.8 .6-2.3-1.8-1.8-2.2-1.1-2.9-2.3-1.7-2.5-1.6-1.4-2.6-1.8-2.2-2.4-1.8-1.2-2.7-2-2.1-1.3-2.7-2.7-1.5-1-3-2.7-1.4-.7-3.2-2.6-1.6-1.4-2.6-2.6-1.8-.4-3.2-2.5-1.9-1.5-2.5-1.4-2.6-2.3-1.7-.7-2.9-2.8-1.2-1.2-2.6-1.6-2.3-2.4-1.6-1.5-2.3-2.5-1.5-1.6-2.3-2.3-1.5-.4-3.1-2.1-1.7-2.4-1.5-.5-3-1.7-1.9-2.8-1.2-1.2-2.4-2.5-.6-1.4-2.3-2.5-.6-1.4-2.2-2.2-1 2.1-1.9 2.4-1.5 2-2.1 2.4-1.5 2.2-1.8 1.9-2.2 2-2-1.5-2.4-2.1-2.1-1.4-2.5-2.8 .7-2.8 .1-2.8-1.5-2.8 1.3-2.8-.5-2.8 .2-2.8-.3-2-1.8-2.2-1.5-1.8-2.1-2.6-1-2.2-1.5-1.8-2-2.3-1.4 1-2.6 .8-2.7-.3-2.9 2.3-1.6 3-.2 2.6-1.1 2.5-1.2 1.8-2.7 2.7-.8 2.8-.6 2.3-1.7 2.2-1.9 .4-3.2 2.2-1.8 2.2-1.9 1.7-2.2 1.3-2.6 .2-2.9-.4-2.9 .6-2.9-.5-2.9 .6-2.9 .4-2.8 1-2.9-.3-2.9 0-2.9 .4-2.8 .3-2.8 .7-2.7 1.2-2.5 .2-2.9 .1-2.8 1.8-2.5 .1-2.8 1.3-2.6-.2-2.9 .5-2.7 .9-2.6 .3-2.7 1-2.5 1.3-2.5 .8-2.6 .1-2.7 .2-2.8 0-2.8 2.1-2.2 .1-2.8 .5-2.6 .8-2.6 .1-2.7 .7-2.6 1.4-2.4 1.8-2.3 .3-2.6 .6-2.6 .4-2.7-.6-2.8-1.6-2.5-1.1-2.6-.1-3-1.9-2.3 .1-3.1-1.1-2.6-.8-2.7-1.7-2.5-1-2.6-.1-3 .4-2.9-.2-3 1.3-2.8-.2-3 1-2.8 .6-2.8 .2-3 .2-2.9-.9-2.8-1.6-2.7-.7-2.9 .2-3.2-2.3-2.4-.9-2.8-.6-3-.4-2.5-.3-2.5 .1-2.6-.9-2.4-.4-2.9 1.3-2.9-1.8-2.9 1.5-2.9-.5-2.9 .7-2.9-1.5-2.9 .7-2.9-1.3-2.3-1.3-2.3-2-1.7-1.9-1.9-2.9-.3-2.1-2.4-2.7-1.1-3.2 .5-2.4-1.7-2.1-1.8-3 .1-2.4-1.3-1.8-2.4-2.4-1.1-2.2-1.6-2.8-.5-2.7-.7-2.7-.3-2.8-.1-2.6-1-2.6-1.3-2.9 .4-.5-2.4-.3-2.4-2-1.9 .3-2.6-1.2-2.2-2.1-2-3.1-.6-1.6-2.8-2.7-1.2-2.7 1.3-2.9 .6-2.7 1-3.1-.4-2.7 1.7-3.2-.9-2.6 1.6-3 .1-2.4-2.3-2.8-.7-2.8-.5-2.8-.8-2.8-.7-2.3-1.4-2.6-.6-2.8 .1-2.1-2.1-2.8-.1-2.3-1.2-2.6-.8-2.5-.8-2.7-1.2-2.9 .5-2.7-1.2-3 1-2.7-.9-2.7-1.1-2.8-.1-2.7 .4-2.8 .2-2.5 1.7-2.9-.5-2.6 1.2-1.7 2.3-.1 3-1.2 2.5-1.9 2.1-1.9 2.2-.6 2.8-.9 2.7-1.3 2.4-2.8 .6-2.9 0-2.6 1.1-2.8 .5-2.8 .5-2.7 .7-3.3-.7 140.5-110 2.9 .7 2.9 .6 3.1-.9 2.8 1.9 3.1-.6 1.9-2.1 2.7-.9 1.5-2.6 3-.6 1.5-2.6 2.6-1.1 2.1-1.7 1.9-1.9 1.9-1.8 1.4-2.4 2.5-1.4 2-1.7 1.2-2.6 .1-2.9 1.6-2.5 1.6-2.4 .5-2.9 .3-2.8 .9-2.7 1.7-2.4 2.9-1.4 .8-3.3 3-1.4 2.1-2.1 1-3 2.3-2 1.9-2.2 2.3-2 .7-2.7 .3-2.9 1.5-2.5 .7-2.8-.5-3 .9-2.7 2.7-1 1.3-3 2.2-1.6 2.9-.7 2.4-1.5 1.9-2.1 1.9-2 1.7-2.2 1.2-2.5 .4-3 2.2-1.9 1.7-2.1 .7-2.8 1.3-2.4 2.4-1.2 1.4-2.3 1.9-1.8 2.3-1.3 1.9-1.8 1.2-2.7 1.3-2.7-.6-3.3 1.5-2.6 1.7-2.6 .4-2.9 .4-3 .3-2.8-.4-2.8 .9-2.7-.5-2.9 .7-2.7 2-1.8 1.8-2 1.4-2.3 2.3-1.4 1.4-2.4 .5-2.7 .8-2.6 1.3-2.5-.4-2.9 .6-2.7 1.2-2.5 2.1-1.5 1.8-1.9 2.5-1 1.2-2.6 2.2-1.4 2.1-1.5 1-2.5 2.2-1.5 1.5-2.2 1.8-1.8 2.1-1.6 1.3-2.3 .2-2.9 2.6-2 .5-2.9 1.2-2.5 .5-2.8 .9-2.7 2.1-1.5 1.8-1.8 2-1.7 1.8-1.8 2.3-1.2 .4-2.9 .8-2.7 .8-2.8 1.9-2.4 0-3 .9-2.6 0-2.7-.8-2.8 .8-2.6 .8-2.5 .3-2.7 2.2-1.7 1.6-2.4 2.3-1.6 1.8-2.2-1-2.5-2.5-1.2-1.4-2.1-1-2.4-2-1.7-.8-2.4 .2-2.6-1.1-2.4-.3-2.5 1.4-2.3 2.5-1 1.5-2.1 2.9-.6 1.6-2 2.7-.6 2.1-1.7 2.7-.6 1.8-2.3 2.6-.7 .6-2.7 .1-2.7 1.3-2.5 2.4-1.8 3.3 .4 2.2-2.4 3-.2 .6-2.6-1-2.4 0-2.5-.6-2.4-1.2-2.5 1.2-2.9-.6-2.6-1.7-2.4-.2-2.7 .2-2.7 .4-2.9 1.6-2.4 .3-2.9 2.2-2.2 .5-2.8 2-1.3 2.3-1 1.6-2.1 2.4-.6 1.9-1.6 .9-2.5 1.4-2.3 .5-2.7 2.1-2.1 .7-2.5 1-2.5 .1-2.8 1.3-2.4 .3-2.8 .9-2.5 .8-2.6 2.4-2.1-.3-3 1.9-2.2-.3-2.9 1.6-2.4 .7-2.6 .1-2.3 .7-2.1 1-2.1-.2-2.8-1-2.7-.9-2.6-1.5-2.3-2.9-.6-2.1-1.7-2.3-1.4-1.5-2.3 1.7-2.4 2.4-1.7 2.8 .4 2.4-1.3 2.6-.7 2.6-.5 1.6-2.1 2.4-1.3 1.8-1.9 1.6-2.1 .1-2.6 .5-2.5 1-2.4 1.3-2.3 .2-2.4-.6-2.3-1.4-2.2 .1-2.4-.8-2.8-.2-2.9 .4-3-.6-2.8 1-2.2-.3-2.6 .7-2.3 .9-2.2 .7-2.2 2.4-1.2 .4-2.4-.5-2.3-.7-2.3-1.1-2.8-2.8-1.5-1.3-2.6 1.2-2.2 .9-2.4 .8-2.4z" fill="none" stroke="#111" stroke-width="1.25" stroke-linejoin="round"/>
<path d="M1031.5 437l4.5 1.5 6-.5 6 2.5 6 2.5-4 3-6 .5-6-2-4 1.5" fill="none" stroke="#111" stroke-width="2.6" stroke-linejoin="round"/>
<path d="M1031.5 437l4.5 1.5 6-.5 6 2.5 6 2.5-4 3-6 .5-6-2-4 1.5" fill="none" stroke="#cde6e6" stroke-width="1.1" stroke-linejoin="round"/>
<path d="M591.5 278.5l-2.9 6.5-1 7 1 5.5 4.4-.2 4.5-2.3 3-7-2-6-3.5-2.5" fill="none" stroke="#111" stroke-width="2.6" stroke-linejoin="round"/>
<path d="M591.5 278.5l-2.9 6.5-1 7 1 5.5 4.4-.2 4.5-2.3 3-7-2-6-3.5-2.5" fill="none" stroke="#cde6e6" stroke-width="1.1" stroke-linejoin="round"/>
<path d="M630.1 238.5l5.6-6.2 2.5-4.3 6.2-.6 7.4 3.1 1.9 5.6-4.4 3.7-4.9 1.8-5 4.4-4.9 1.2-2.5-3.7z" fill="#8bc766" stroke="#111" stroke-width="0.9" stroke-linejoin="round"/>
<path d="M665.2 257.7l3.9-1.8 3.1 3.7-1.2 4.3-4.3 .6z" fill="#8bc766" stroke="#111" stroke-width="0.9" stroke-linejoin="round"/>
<path d="M659.5 267l2.5-1 2.2 1.5-2.2 2-2.2-.5z" fill="#8bc766" stroke="#111" stroke-width="0.9" stroke-linejoin="round"/>
<path d="M514.9 209l2.1-1.5 1.8 2-1.3 2.3-2.2-.4z" fill="#a6d390" stroke="#111" stroke-width="0.9" stroke-linejoin="round"/>
<path d="M543.5 206.6l2.2 2.4-.7 5-1.7 4.5-1.4-3.5 .7-5z" fill="#8bc766" stroke="#111" stroke-width="0.9" stroke-linejoin="round"/>
<path d="M550.7 222.5l2.3-4.5 3.5-.6 1 3.1-2.5 2.8-3 .4z" fill="#8bc766" stroke="#111" stroke-width="0.9" stroke-linejoin="round"/>
<path d="M532.3 222l2.7-3.3 3 1.3 1 4-3 2.6-3-1.1z" fill="#8bc766" stroke="#111" stroke-width="0.9" stroke-linejoin="round"/>
<path d="M693 475.6l1-7.6 1-9 6-12.3 9.6-7.2 1.4 6.5-.4 6.9-3.1 16.5-7.5 10.3-6 4.2z" fill="#d9c682" stroke="#111" stroke-width="0.9" stroke-linejoin="round"/>
<path d="M817.4 384.9l2.3-2.9 1.2-5.8 6.9-3.5 8.1-2.3 2.3 4.6-5.8 2.3 .6 9.3-2.9 4.6-8.1 3.5-4.6-1.2 3.5-4.6z" fill="#d9c682" stroke="#111" stroke-width="0.9" stroke-linejoin="round"/>
<path d="M802.4 398.2l5.8-7 5.7-3.5 1.2 2.4-4.6 5.7-5.8 7z" fill="#d9c682" stroke="#111" stroke-width="0.9" stroke-linejoin="round"/>
<path d="M835.9 389.5l4.6-2.9 4.6 .6 .6 4-2.9 4.6-3.4-1.1z" fill="#f09660" stroke="#111" stroke-width="0.9" stroke-linejoin="round"/>
<path d="M847.5 388.9l3.4-.6 .6 4.1-2.9 1.1z" fill="#f09660" stroke="#111" stroke-width="0.9" stroke-linejoin="round"/>
<circle cx="445.5" cy="305" r="5" fill="#fff" stroke="#111" stroke-width="1"/><circle cx="445.5" cy="305" r="2" fill="#000"/>
<circle cx="581.2" cy="286" r="5" fill="#fff" stroke="#111" stroke-width="1"/><circle cx="581.2" cy="286" r="2" fill="#000"/>
<circle cx="589.6" cy="369.4" r="5" fill="#fff" stroke="#111" stroke-width="1"/><circle cx="589.6" cy="369.4" r="2" fill="#000"/>
<circle cx="741.9" cy="417.3" r="5" fill="#fff" stroke="#111" stroke-width="1"/><circle cx="741.9" cy="417.3" r="2" fill="#000"/>
<circle cx="887.5" cy="406.4" r="5" fill="#fff" stroke="#111" stroke-width="1"/><circle cx="887.5" cy="406.4" r="2" fill="#000"/>
<circle cx="1095.6" cy="457.9" r="5" fill="#fff" stroke="#111" stroke-width="1"/><circle cx="1095.6" cy="457.9" r="2" fill="#000"/>
<circle cx="379.2" cy="471" r="5" fill="#fff" stroke="#111" stroke-width="1"/><circle cx="379.2" cy="471" r="2" fill="#000"/>
<circle cx="540.4" cy="517" r="5" fill="#fff" stroke="#111" stroke-width="1"/><circle cx="540.4" cy="517" r="2" fill="#000"/>
<circle cx="631.2" cy="525.8" r="5" fill="#fff" stroke="#111" stroke-width="1"/><circle cx="631.2" cy="525.8" r="2" fill="#000"/>
<circle cx="598" cy="550.8" r="5" fill="#fff" stroke="#111" stroke-width="1"/><circle cx="598" cy="550.8" r="2" fill="#000"/>
<circle cx="694.6" cy="560.4" r="5" fill="#fff" stroke="#111" stroke-width="1"/><circle cx="694.6" cy="560.4" r="2" fill="#000"/>
<circle cx="598.2" cy="586.9" r="5" fill="#fff" stroke="#111" stroke-width="1"/><circle cx="598.2" cy="586.9" r="2" fill="#000"/>
<circle cx="397.7" cy="576.6" r="5" fill="#fff" stroke="#111" stroke-width="1"/><circle cx="397.7" cy="576.6" r="2" fill="#000"/>
<circle cx="790.6" cy="559.2" r="5" fill="#fff" stroke="#111" stroke-width="1"/><circle cx="790.6" cy="559.2" r="2" fill="#000"/>
<circle cx="873.7" cy="588.2" r="5" fill="#fff" stroke="#111" stroke-width="1"/><circle cx="873.7" cy="588.2" r="2" fill="#000"/>
<circle cx="1008" cy="533.7" r="5" fill="#fff" stroke="#111" stroke-width="1"/><circle cx="1008" cy="533.7" r="2" fill="#000"/>
<circle cx="424" cy="670.8" r="5" fill="#fff" stroke="#111" stroke-width="1"/><circle cx="424" cy="670.8" r="2" fill="#000"/>
<circle cx="713.8" cy="653.3" r="5" fill="#fff" stroke="#111" stroke-width="1"/><circle cx="713.8" cy="653.3" r="2" fill="#000"/>
<circle cx="730.3" cy="679" r="5" fill="#fff" stroke="#111" stroke-width="1"/><circle cx="730.3" cy="679" r="2" fill="#000"/>
<circle cx="788" cy="661.8" r="5" fill="#fff" stroke="#111" stroke-width="1"/><circle cx="788" cy="661.8" r="2" fill="#000"/>
<circle cx="939.7" cy="649" r="5" fill="#fff" stroke="#111" stroke-width="1"/><circle cx="939.7" cy="649" r="2" fill="#000"/>
<circle cx="615.4" cy="707.4" r="5" fill="#fff" stroke="#111" stroke-width="1"/><circle cx="615.4" cy="707.4" r="2" fill="#000"/>
<circle cx="669.4" cy="715" r="5" fill="#fff" stroke="#111" stroke-width="1"/><circle cx="669.4" cy="715" r="2" fill="#000"/>
<circle cx="945.3" cy="710.4" r="5" fill="#fff" stroke="#111" stroke-width="1"/><circle cx="945.3" cy="710.4" r="2" fill="#000"/>
<circle cx="875" cy="743.4" r="5" fill="#fff" stroke="#111" stroke-width="1"/><circle cx="875" cy="743.4" r="2" fill="#000"/>
<circle cx="137.8" cy="782.4" r="5" fill="#fff" stroke="#111" stroke-width="1"/><circle cx="137.8" cy="782.4" r="2" fill="#000"/>
<circle cx="274.5" cy="846.8" r="5" fill="#fff" stroke="#111" stroke-width="1"/><circle cx="274.5" cy="846.8" r="2" fill="#000"/>
<circle cx="600.5" cy="841.9" r="5" fill="#fff" stroke="#111" stroke-width="1"/><circle cx="600.5" cy="841.9" r="2" fill="#000"/>
<circle cx="466" cy="887.4" r="5" fill="#fff" stroke="#111" stroke-width="1"/><circle cx="466" cy="887.4" r="2" fill="#000"/>
<circle cx="756.2" cy="875.8" r="5" fill="#fff" stroke="#111" stroke-width="1"/><circle cx="756.2" cy="875.8" r="2" fill="#000"/>
<circle cx="911.2" cy="867.8" r="5" fill="#fff" stroke="#111" stroke-width="1"/><circle cx="911.2" cy="867.8" r="2" fill="#000"/>
<circle cx="743.2" cy="919.2" r="5" fill="#fff" stroke="#111" stroke-width="1"/><circle cx="743.2" cy="919.2" r="2" fill="#000"/>
<circle cx="921.2" cy="1026.4" r="5" fill="#fff" stroke="#111" stroke-width="1"/><circle cx="921.2" cy="1026.4" r="2" fill="#000"/>
<circle cx="463.4" cy="1053.7" r="5" fill="#fff" stroke="#111" stroke-width="1"/><circle cx="463.4" cy="1053.7" r="2" fill="#000"/>
<circle cx="698.9" cy="1091.5" r="5" fill="#fff" stroke="#111" stroke-width="1"/><circle cx="698.9" cy="1091.5" r="2" fill="#000"/>
<circle cx="277.8" cy="1108.2" r="5" fill="#fff" stroke="#111" stroke-width="1"/><circle cx="277.8" cy="1108.2" r="2" fill="#000"/>
<circle cx="409.3" cy="1110.4" r="5" fill="#fff" stroke="#111" stroke-width="1"/><circle cx="409.3" cy="1110.4" r="2" fill="#000"/>
<circle cx="300" cy="1162.7" r="5" fill="#fff" stroke="#111" stroke-width="1"/><circle cx="300" cy="1162.7" r="2" fill="#000"/>
<circle cx="499" cy="1364" r="5" fill="#fff" stroke="#111" stroke-width="1"/><circle cx="499" cy="1364" r="2" fill="#000"/>
<text transform="translate(439.7 299) scale(0.948 1)" font-size="13.4" text-anchor="end" font-weight="normal" fill="#383838">BOA VISTA DO GURUPI</text>
<text transform="translate(588.6 279.9) scale(0.948 1)" font-size="13.4" text-anchor="start" font-weight="normal" fill="#383838">TURIAÇU</text>
<text transform="translate(597 363.3) scale(0.948 1)" font-size="13.4" text-anchor="start" font-weight="normal" fill="#383838">SANTA HELENA</text>
<text transform="translate(749.3 411.2) scale(0.948 1)" font-size="13.4" text-anchor="start" font-weight="normal" fill="#383838">SÃO LUÍS</text>
<text transform="translate(894.9 400.3) scale(0.948 1)" font-size="13.4" text-anchor="start" font-weight="normal" fill="#383838">SANTO AMARO DO MA</text>
<text transform="translate(1089.8 451.9) scale(0.948 1)" font-size="13.4" text-anchor="end" font-weight="normal" fill="#383838">ILHA GRANDE-PI</text>
<text transform="translate(386.6 464.9) scale(0.948 1)" font-size="13.4" text-anchor="start" font-weight="normal" fill="#383838">PARAGOMINAS-PA</text>
<text transform="translate(547.8 510.9) scale(0.948 1)" font-size="13.4" text-anchor="start" font-weight="normal" fill="#383838">ZÉ DOCA</text>
<text transform="translate(638.6 519.7) scale(0.948 1)" font-size="13.4" text-anchor="start" font-weight="normal" fill="#383838">CAJARI</text>
<text transform="translate(592.2 544.8) scale(0.948 1)" font-size="13.4" text-anchor="end" font-weight="normal" fill="#383838">MONÇÃO</text>
<text transform="translate(599.6 554.6) scale(0.948 1)" font-size="13.4" text-anchor="start" font-weight="normal" fill="#383838">MIRANDA DO NORTE</text>
<text transform="translate(605.6 580.8) scale(0.948 1)" font-size="13.4" text-anchor="start" font-weight="normal" fill="#383838">BELA VISTA DO MA</text>
<text transform="translate(405.1 570.5) scale(0.948 1)" font-size="13.4" text-anchor="start" font-weight="normal" fill="#383838">TUFILÂNDIA</text>
<text transform="translate(798 553.1) scale(0.948 1)" font-size="13.4" text-anchor="start" font-weight="normal" fill="#383838">VARGEM GRANDE</text>
<text transform="translate(881.1 582.1) scale(0.948 1)" font-size="13.4" text-anchor="start" font-weight="normal" fill="#383838">CHAPADINHA</text>
<text transform="translate(1015.4 527.6) scale(0.948 1)" font-size="13.4" text-anchor="start" font-weight="normal" fill="#383838">SÃO BERNADO</text>
<text transform="translate(431.4 664.7) scale(0.948 1)" font-size="13.4" text-anchor="start" font-weight="normal" fill="#383838">BURITICUPU</text>
<text transform="translate(708 647.3) scale(0.948 1)" font-size="13.4" text-anchor="end" font-weight="normal" fill="#383838">ALTO ALEGREDO MARANHÃO</text>
<text transform="translate(737.1 683.8) scale(0.948 1)" font-size="13.4" text-anchor="start" font-weight="normal" fill="#383838">PERITORÓ</text>
<text transform="translate(795.4 655.7) scale(0.948 1)" font-size="13.4" text-anchor="start" font-weight="normal" fill="#383838">TIMBIRAS</text>
<text transform="translate(947.1 642.9) scale(0.948 1)" font-size="13.4" text-anchor="start" font-weight="normal" fill="#383838">MIGUEL ALVEZ-PI</text>
<text transform="translate(609.6 701.4) scale(0.948 1)" font-size="13.4" text-anchor="end" font-weight="normal" fill="#383838">LAGO DA PEDRA</text>
<text transform="translate(676.8 708.9) scale(0.948 1)" font-size="13.4" text-anchor="start" font-weight="normal" fill="#383838">BERNADO DO MEARIM</text>
<text transform="translate(952.7 704.3) scale(0.948 1)" font-size="13.4" text-anchor="start" font-weight="normal" fill="#383838">UNIÃO-PI</text>
<text transform="translate(882.4 737.3) scale(0.948 1)" font-size="13.4" text-anchor="start" font-weight="normal" fill="#383838">CAXIAS</text>
<text transform="translate(145.2 776.3) scale(0.948 1)" font-size="13.4" text-anchor="start" font-weight="normal" fill="#383838">S. PEDRO DA ÁGUA BRANCA</text>
<text transform="translate(281.9 840.7) scale(0.948 1)" font-size="13.4" text-anchor="start" font-weight="normal" fill="#383838">IMPERATRIZ</text>
<text transform="translate(607.9 835.8) scale(0.948 1)" font-size="13.4" text-anchor="start" font-weight="normal" fill="#383838">BARRA DO CORDA</text>
<text transform="translate(473.4 881.3) scale(0.948 1)" font-size="13.4" text-anchor="start" font-weight="normal" fill="#383838">GRAJAÚ</text>
<text transform="translate(763.6 869.7) scale(0.948 1)" font-size="13.4" text-anchor="start" font-weight="normal" fill="#383838">FORTUNA</text>
<text transform="translate(918.6 861.7) scale(0.948 1)" font-size="13.4" text-anchor="start" font-weight="normal" fill="#383838">PARNARAMA</text>
<text transform="translate(750.6 913.1) scale(0.948 1)" font-size="13.4" text-anchor="start" font-weight="normal" fill="#383838">COLINAS</text>
<text transform="translate(928.6 1020.3) scale(0.948 1)" font-size="13.4" text-anchor="start" font-weight="normal" fill="#383838">FLORIANO-PI</text>
<text transform="translate(470.8 1047.6) scale(0.948 1)" font-size="13.4" text-anchor="start" font-weight="normal" fill="#383838">FORTALEZA DOS NOGUEIRAS</text>
<text transform="translate(706.3 1085.4) scale(0.948 1)" font-size="13.4" text-anchor="start" font-weight="normal" fill="#383838">BENEDITO LEITE</text>
<text transform="translate(285.2 1102.1) scale(0.948 1)" font-size="13.4" text-anchor="start" font-weight="normal" fill="#383838">CAROLINA</text>
<text transform="translate(416.7 1104.3) scale(0.948 1)" font-size="13.4" text-anchor="start" font-weight="normal" fill="#383838">RIACHÃO</text>
<text transform="translate(307.4 1156.6) scale(0.948 1)" font-size="13.4" text-anchor="start" font-weight="normal" fill="#383838">GOIATINS-TO</text>
<text transform="translate(506.4 1357.9) scale(0.948 1)" font-size="13.4" text-anchor="start" font-weight="normal" fill="#383838">ALTO PARNAÍBA</text>
<text x="142.4" y="450.3" font-size="18" font-weight="bold" textLength="52.5" lengthAdjust="spacingAndGlyphs">PARÁ</text>
<text x="92.2" y="1110.2" font-size="18.5" font-weight="bold" textLength="110.6" lengthAdjust="spacingAndGlyphs">TOCANTINS</text>
<text x="815.5" y="1178.2" font-size="18.5" font-weight="bold" textLength="50.5" lengthAdjust="spacingAndGlyphs">PIAUÍ</text>
<text x="1002" y="174.5" font-size="15" font-weight="bold" font-style="italic" textLength="129.3" lengthAdjust="spacingAndGlyphs">OCEANO ATLÂNTICO</text>
<rect x="994.2" y="819.2" width="155.5" height="763.6" fill="#fff"/>
<text x="1071.7" y="862.9" font-size="25.5" text-anchor="middle" textLength="83.5" lengthAdjust="spacingAndGlyphs">mm/dia</text>
<rect x="1001.9" y="875.3" width="43.4" height="43" rx="1.5" fill="#3c4b78" stroke="#2a2a2a" stroke-width="1"/>
<text x="1054.7" y="905" font-size="20.5">&gt;</text><text x="1076.2" y="905" font-size="20.5" textLength="31.4" lengthAdjust="spacingAndGlyphs">120</text>
<rect x="1001.9" y="928.4" width="43.4" height="43" rx="1.5" fill="#6b5ca7" stroke="#2a2a2a" stroke-width="1"/>
<text x="1054" y="958.1" font-size="20.5" textLength="86.7" lengthAdjust="spacingAndGlyphs">100 - 120</text>
<rect x="1001.9" y="981.5" width="43.4" height="43" rx="1.5" fill="#8272ba" stroke="#2a2a2a" stroke-width="1"/>
<text x="1054" y="1011.2" font-size="20.5" textLength="76" lengthAdjust="spacingAndGlyphs">80 - 100</text>
<rect x="1001.9" y="1034.7" width="43.4" height="43" rx="1.5" fill="#728c86" stroke="#2a2a2a" stroke-width="1"/>
<text x="1054" y="1064.4" font-size="20.5" textLength="64.2" lengthAdjust="spacingAndGlyphs">70 - 80</text>
<rect x="1001.9" y="1087.8" width="43.4" height="43" rx="1.5" fill="#1f9d55" stroke="#2a2a2a" stroke-width="1"/>
<text x="1054" y="1117.5" font-size="20.5" textLength="64.2" lengthAdjust="spacingAndGlyphs">60 - 70</text>
<rect x="1001.9" y="1140.9" width="43.4" height="43" rx="1.5" fill="#2daa4f" stroke="#2a2a2a" stroke-width="1"/>
<text x="1054" y="1170.6" font-size="20.5" textLength="64.2" lengthAdjust="spacingAndGlyphs">50 - 60</text>
<rect x="1001.9" y="1194" width="43.4" height="43" rx="1.5" fill="#70bf4b" stroke="#2a2a2a" stroke-width="1"/>
<text x="1054" y="1223.7" font-size="20.5" textLength="64.2" lengthAdjust="spacingAndGlyphs">40 - 50</text>
<rect x="1001.9" y="1247.1" width="43.4" height="43" rx="1.5" fill="#8bc766" stroke="#2a2a2a" stroke-width="1"/>
<text x="1054" y="1276.8" font-size="20.5" textLength="64.2" lengthAdjust="spacingAndGlyphs">30 - 40</text>
<rect x="1001.9" y="1300.3" width="43.4" height="43" rx="1.5" fill="#a6d390" stroke="#2a2a2a" stroke-width="1"/>
<text x="1054" y="1330" font-size="20.5" textLength="64.2" lengthAdjust="spacingAndGlyphs">20 - 30</text>
<rect x="1001.9" y="1353.4" width="43.4" height="43" rx="1.5" fill="#d9c682" stroke="#2a2a2a" stroke-width="1"/>
<text x="1054" y="1383.1" font-size="20.5" textLength="64.2" lengthAdjust="spacingAndGlyphs">10 - 20</text>
<rect x="1001.9" y="1406.5" width="43.4" height="43" rx="1.5" fill="#f09660" stroke="#2a2a2a" stroke-width="1"/>
<text x="1054" y="1436.2" font-size="20.5" textLength="53" lengthAdjust="spacingAndGlyphs">5 - 10</text>
<rect x="1001.9" y="1459.6" width="43.4" height="43" rx="1.5" fill="#b8431f" stroke="#2a2a2a" stroke-width="1"/>
<text x="1054" y="1489.3" font-size="20.5" textLength="42" lengthAdjust="spacingAndGlyphs">2 - 5</text>
<rect x="1001.9" y="1512.7" width="43.4" height="43" rx="1.5" fill="#ffffff" stroke="#2a2a2a" stroke-width="1"/>
<text x="1054" y="1542.4" font-size="20.5" textLength="46" lengthAdjust="spacingAndGlyphs">&lt;= 2</text>
<g transform="translate(90 1175) scale(0.17754)" stroke="#000" stroke-width="7.6" stroke-linejoin="round" fill="#e4e5e5"><path d="M165 270L245 258L275 295L350 262L370 270L395 340L415 360L430 330L485 315L490 340L565 380L505 515L510 565L420 570L400 555L370 550L345 580L300 600L280 605L220 575L60 550L50 545L75 500L90 470L175 445L165 310Z"/><path d="M320 200L350 215L435 185L440 170L460 180L465 250L490 285L485 315L430 330L415 360L395 340L370 270L350 262L340 230Z"/><path d="M490 285L565 255L600 265L655 255L680 330L700 345L740 310L780 330L840 355L800 440L775 465L790 475L750 540L725 590L600 585L540 580L510 565L505 515L565 380L490 340L485 315Z"/><path d="M655 255L695 200L710 215L740 290L740 310L700 345L680 330Z"/><path d="M50 545L60 550L220 575L280 605L225 650L165 655L160 605L130 615L85 605L75 580Z"/><path d="M300 600L345 580L370 550L400 555L420 570L415 590L430 630L465 640L455 700L405 690L350 680L315 640Z"/><path d="M420 570L510 565L540 580L600 585L725 590L715 660L710 720L660 790L640 805L575 800L540 810L515 775L470 775L455 700L465 640L430 630L415 590Z"/><path d="M725 590L750 540L790 475L800 520L820 540L815 560L830 590L835 680L785 680L730 665L715 660Z"/><path d="M960 395L975 410L995 520L985 560L960 570L900 580L880 610L850 600L865 550L860 520L900 510L925 490L950 430Z"/><path d="M975 410L1015 400L1060 430L1080 460L1060 490L1040 510L1050 530L1030 545L995 520Z"/><path d="M1080 460L1135 460L1145 500L1100 505L1060 490Z"/><path d="M1060 490L1100 505L1145 500L1150 535L1100 540L1050 530L1040 510Z"/><path d="M985 560L995 520L1030 545L1050 530L1100 540L1150 535L1145 570L1090 575L1050 590L1000 565L985 580Z"/><path d="M1090 575L1145 570L1120 610L1075 595Z"/><path d="M1075 595L1120 610L1095 640L1065 630Z"/><path d="M835 680L830 590L850 600L880 610L900 580L960 570L985 560L985 580L1000 565L1050 590L1075 595L1065 630L1060 680L1035 690L1030 790L1015 830L1000 770L1010 760L900 710L830 740L810 750L790 745L835 720Z"/><path d="M715 660L730 665L785 680L835 680L835 720L790 745L810 750L810 810L770 825L715 855L690 830L660 815L660 790L710 720Z"/><path d="M810 810L810 750L830 740L900 710L1010 760L1000 770L990 800L975 830L955 900L930 920L900 925L850 945L835 940L815 865L770 865L740 870L715 855L770 825Z"/><path d="M1000 770L1015 830L990 880L955 900L975 830L990 800Z"/><path d="M955 900L990 880L975 920L930 945L880 955L875 940L900 925L930 920Z"/><path d="M715 855L740 870L770 865L815 865L835 940L850 945L875 940L880 955L830 985L790 1005L770 1020L755 960L745 940L685 940Z"/><path d="M540 810L575 800L640 805L660 790L660 815L690 830L715 855L685 940L650 950L640 985L610 980L600 945L580 935L545 935L530 870Z"/><path d="M650 950L685 940L745 940L755 960L770 1020L780 1030L730 1045L660 1050L640 1020L640 985Z"/><path d="M660 1050L730 1045L780 1030L790 1080L760 1110L720 1080L670 1065Z"/><path d="M670 1065L720 1080L760 1110L745 1160L700 1215L680 1245L685 1215L630 1180L575 1160L600 1120L640 1080Z"/><path d="M793 752L806 752L806 762L793 762Z"/><path d="M840 355L870 365L890 390L960 395L950 430L925 490L900 510L860 520L865 550L850 600L830 590L815 560L820 540L800 520L800 480L775 465L800 440Z" fill="#ff8000" stroke-width="4"/></g><rect x="95.3" y="1180.7" width="204.2" height="223.9" fill="none" stroke="#222" stroke-width="1.2"/>
<g stroke="#000" stroke-width="0.8"><circle cx="201" cy="1458.3" r="7.4" fill="#e4e5e5"/>
<path transform="rotate(0 201 1458.3)" d="M198.7 1450.5L201 1441.8L203.3 1450.5Z" fill="#000" stroke="none"/>
<path transform="rotate(90 201 1458.3)" d="M198.7 1450.5L201 1441.8L203.3 1450.5Z" fill="#000" stroke="none"/>
<path transform="rotate(180 201 1458.3)" d="M198.7 1450.5L201 1441.8L203.3 1450.5Z" fill="#000" stroke="none"/>
<path transform="rotate(270 201 1458.3)" d="M198.7 1450.5L201 1441.8L203.3 1450.5Z" fill="#000" stroke="none"/>
</g>
<text x="201" y="1439.7" font-size="3.6" font-weight="bold" text-anchor="middle">N</text>
<text x="201" y="1479.8" font-size="3.6" font-weight="bold" text-anchor="middle">S</text>
<text x="180.5" y="1459.6" font-size="3.6" font-weight="bold" text-anchor="middle">W</text>
<text x="221.2" y="1459.6" font-size="3.6" font-weight="bold" text-anchor="middle">E</text>
<rect x="120.1" y="1510.8" width="176" height="9.9" fill="#fff" stroke="#000" stroke-width="0.8"/>
<rect x="120.1" y="1510.8" width="22.4" height="4.95" fill="#000"/>
<rect x="142.5" y="1515.8" width="21.8" height="4.95" fill="#000"/>
<rect x="164.3" y="1510.8" width="44" height="4.95" fill="#000"/>
<rect x="208.3" y="1515.8" width="43.8" height="4.95" fill="#000"/>
<rect x="252.1" y="1510.8" width="44" height="4.95" fill="#000"/>
<text transform="translate(120.7 1503.3) scale(0.82 1)" font-size="13" text-anchor="middle" font-weight="normal" fill="#000">33</text>
<text transform="translate(164.3 1503.3) scale(0.82 1)" font-size="13" text-anchor="middle" font-weight="normal" fill="#000">0</text>
<text transform="translate(208.5 1503.3) scale(0.82 1)" font-size="13" text-anchor="middle" font-weight="normal" fill="#000">33</text>
<text transform="translate(252.1 1503.3) scale(0.82 1)" font-size="13" text-anchor="middle" font-weight="normal" fill="#000">66</text>
<text transform="translate(290.2 1503.3) scale(0.82 1)" font-size="13" text-anchor="start" font-weight="normal" fill="#000">99 km</text>
<text x="91.6" y="1535" font-size="11.6" textLength="222.3" lengthAdjust="spacingAndGlyphs">SISTEMA DE COORDENADAS GEOGRÁFICAS</text>
<text x="115.8" y="1549.5" font-size="11.6" textLength="173.4" lengthAdjust="spacingAndGlyphs">DATUM HORIZONTAL: SIRGAS 2000</text>
<text x="98.3" y="1578.6" font-size="11.6" textLength="207.7" lengthAdjust="spacingAndGlyphs">FONTE: IBGE (2022); NUGEO/UEMA (2024).</text>
<rect x="90.9" y="1590.9" width="77.1" height="25.4" fill="#fff"/><text x="129.5" y="1596.9" font-size="3.6" text-anchor="middle" fill="#222" textLength="32.7" lengthAdjust="spacingAndGlyphs">GOVERNO DO</text><text x="91.8" y="1610.3" font-size="16.8" font-weight="bold" fill="#d8232a" stroke="#d8232a" stroke-width="0.5" textLength="11" lengthAdjust="spacingAndGlyphs">M</text><text x="102.9" y="1610.3" font-size="16.8" font-weight="bold" fill="#d8232a" stroke="#d8232a" stroke-width="0.5" textLength="8.6" lengthAdjust="spacingAndGlyphs">A</text><text x="111.6" y="1610.3" font-size="16.8" font-weight="bold" fill="#1b3f94" stroke="#1b3f94" stroke-width="0.5" textLength="9.2" lengthAdjust="spacingAndGlyphs">R</text><text x="120.9" y="1610.3" font-size="16.8" font-weight="bold" fill="#1b3f94" stroke="#1b3f94" stroke-width="0.5" textLength="9.1" lengthAdjust="spacingAndGlyphs">A</text><text x="130.1" y="1610.3" font-size="16.8" font-weight="bold" fill="#2e9a48" stroke="#2e9a48" stroke-width="0.5" textLength="9.3" lengthAdjust="spacingAndGlyphs">N</text><text x="139.5" y="1610.3" font-size="16.8" font-weight="bold" fill="#2e9a48" stroke="#2e9a48" stroke-width="0.5" textLength="9" lengthAdjust="spacingAndGlyphs">H</text><text x="148.6" y="1610.3" font-size="16.8" font-weight="bold" fill="#f0b51d" stroke="#f0b51d" stroke-width="0.5" textLength="8.3" lengthAdjust="spacingAndGlyphs">Ã</text><text x="157" y="1610.3" font-size="16.8" font-weight="bold" fill="#f08a1d" stroke="#f08a1d" stroke-width="0.5" textLength="9.8" lengthAdjust="spacingAndGlyphs">O</text><text x="129.5" y="1614.6" font-size="2.6" text-anchor="middle" fill="#444" textLength="49" lengthAdjust="spacingAndGlyphs">TRABALHO PARA TODO LADO</text><ellipse cx="184" cy="1604.6" rx="11.6" ry="15.4" fill="#f3efe2" stroke="#8fa0c8" stroke-width="0.8"/><ellipse cx="184" cy="1604.6" rx="9.8" ry="13.4" fill="none" stroke="#c9b26a" stroke-width="0.5"/><path d="M177.3 1594.6h13.4v9.5h-13.4z" fill="#fff" stroke="#b89c3a" stroke-width="0.4"/><rect x="177.3" y="1595.0" width="13.4" height="1.2" fill="#d8232a"/><rect x="177.3" y="1597.4" width="13.4" height="1.2" fill="#d8232a"/><rect x="177.3" y="1599.8" width="13.4" height="1.2" fill="#d8232a"/><rect x="177.3" y="1602.2" width="13.4" height="1.2" fill="#d8232a"/><rect x="177.3" y="1594.6" width="4.6" height="4.6" fill="#1b3f94"/><path d="M177.3 1604.4h13.4v5c0 4-3.4 6.4-6.7 7.6c-3.3-1.2-6.7-3.6-6.7-7.6z" fill="#3c8a4a"/><path d="M179 1608l10-2.6v3.4l-10 2.6z" fill="#f0c31d"/><path d="M178.5 1613.5c3 1.5 8 1.5 11 0v1.6c-3 1.5-8 1.5-11 0z" fill="#e8e4d8" stroke="#999" stroke-width="0.3"/><text x="201.8" y="1606.4" font-size="15.2" font-weight="bold" fill="#14306e" textLength="50.3" lengthAdjust="spacingAndGlyphs">Uema</text><text x="202.2" y="1612" font-size="2.9" fill="#2a5aa8" textLength="50" lengthAdjust="spacingAndGlyphs">UNIVERSIDADE ESTADUAL</text><text x="202.2" y="1615.6" font-size="2.9" fill="#2a5aa8" textLength="29" lengthAdjust="spacingAndGlyphs">DO MARANHÃO</text><rect x="257.6" y="1586.9" width="37.6" height="36.7" fill="#fff"/><circle cx="276" cy="1602" r="15" fill="#fff" stroke="#4a4aa0" stroke-width="2.4"/><path d="M263.5 1606.5a13.2 13.2 0 0 0 25 0l-3.4 0a10 10 0 0 1 -18.2 0z" fill="#4a4aa0"/><path d="M266.5 1606.2a10 10 0 0 0 19 0l-2.4 0a7.6 7.6 0 0 1 -14.2 0z" fill="#39b4e6"/><rect x="259.8" y="1597.6" width="32.4" height="8.2" fill="#fff"/><text x="276" y="1604.6" font-size="8" font-weight="bold" fill="#1c9ad6" text-anchor="middle" textLength="31.6" lengthAdjust="spacingAndGlyphs">FAPEAD</text><path d="M273 1596.6l1.2-3.2 1-1.4 1 1 .6-2.2 1 .2.4 2.6 1 3z" fill="#4a4aa0"/><text x="276" y="1620" font-size="2.2" fill="#4a4aa0" text-anchor="middle" textLength="34" lengthAdjust="spacingAndGlyphs">FUNDAÇÃO DE APOIO AO ENSINO,</text><text x="276" y="1622.6" font-size="2.2" fill="#4a4aa0" text-anchor="middle" textLength="22" lengthAdjust="spacingAndGlyphs">PESQUISA E EXTENSÃO</text>
</g>
<rect x="46.4" y="126.4" width="1118.4" height="1511.8" fill="none" stroke="#303636" stroke-width="1.5"/>
<rect x="46.2" y="26.6" width="1118.6" height="74.1" fill="none" stroke="#303030" stroke-width="1.4"/>
<rect x="22" y="11.9" width="1164.1" height="1647.5" fill="none" stroke="#444" stroke-width="1.4"/>
<text x="605" y="57" font-size="23" font-weight="bold" text-anchor="middle" textLength="436.5" lengthAdjust="spacingAndGlyphs">Acumulado diário das chuvas do dia</text>
<text x="605.5" y="86.8" font-size="23" font-weight="bold" text-anchor="middle" textLength="275" lengthAdjust="spacingAndGlyphs">14 de fevereiro de 2026</text>
<path d="M62.9 79.5V59.7h5.2l13.8 13.6V59.7h4.8v19.8h-5.2L67.7 65.9v13.6z" fill="#0c0c8f"/><path d="M88 63.7h4.7v9.5q0 2.2 2.2 2.2h13.5v-11.7h4.7v15.8H94q-6 0-6-6z" fill="#0c0c8f"/><path d="M135.6 64.6h-4.8v-.4q0-.6-.8-.6h-9q-1.8 0-1.8 1.8v8.4q0 1.8 1.8 1.8h8q1.8 0 1.8-1.8v-1.6h-6v-3.6h10.8v6q0 5-5 5h-11.1q-5 0-5-5v-9.9q0-5 5-5h11.1q5 0 5 4.9z" fill="#1673ea"/><path fill-rule="evenodd" d="M157.4 73.2h-15.9v.6q0 1.8 1.8 1.8h13.6v3.9h-15q-5 0-5-4.6v-6.6q0-4.6 5-4.6h10.5q5 0 5 4.6zM141.5 70h11.3v-.8q0-1.8-1.8-1.8h-7.7q-1.8 0-1.8 1.8z" fill="#1673ea"/><path d="M154.7 50.5L155.4 43.9L159.4 38.6L166 35.3L173.9 33.5L181.8 33.9L183.8 35.9L179.2 37.9L175.2 41.2L178.5 42.5L177.2 46.5L172.6 47.8L170 51.1L166 51.8L167.3 55.1L160.7 56.4L156.7 54.4Z" fill="#1673ea"/><path d="M187.1 34.6Q193.1 37.9 197.7 42.5Q201 49.1 201.9 54.4Q201.4 61 199.7 67L197 71.6Q198.4 63.7 197.7 56.4Q195 50.5 192.4 46.5L193.1 42.5L189.8 38.6Z" fill="#1673ea"/><path d="M181.8 33.9Q184.5 33.6 187.1 34.6L189 37L184 36.4Z" fill="#1673ea"/><path d="M183 40l4 1.5 2.5 4-2 3.5-4.5-1-2-4z" fill="#1673ea" opacity="0.55"/><path d="M161 44l3-3 4-1-2 3.5-3 2.5zM168 44.5l3-1.5 1 2-3 2z" fill="#fff" opacity="0.8"/><rect x="159.4" y="54.4" width="28.4" height="25.8" rx="9" fill="#1673ea"/><path d="M162.3 59.7L165.3 57.3L171.3 56.4L177.9 57.7L182.5 61L185.1 64.3L183.8 67.6L181.2 70.3L179.2 73.6L176.5 78.9L173.9 77.5L171.9 73.6L168.6 70.3L164.7 67.6L162.3 64Z" fill="#fff"/><text x="62.9" y="89.5" font-size="5.7" font-weight="bold" fill="#0c0c8f" textLength="124.2" lengthAdjust="spacingAndGlyphs">NÚCLEO GEOAMBIENTAL - UEMA</text>
<path d="M199.6 126.4v7.3M199.6 1638.2v-7.3" stroke="#222" stroke-width="1"/>
<text transform="translate(199.2 122.5) scale(0.85 1)" font-size="13.8" text-anchor="middle" font-weight="normal" fill="#333">-48°0'0&quot;</text>
<text transform="translate(199.2 1652.3) scale(0.85 1)" font-size="13.8" text-anchor="middle" font-weight="normal" fill="#333">-48°0'0&quot;</text>
<path d="M489.5 126.4v7.3M489.5 1638.2v-7.3" stroke="#222" stroke-width="1"/>
<text transform="translate(489.1 122.5) scale(0.85 1)" font-size="13.8" text-anchor="middle" font-weight="normal" fill="#333">-46°0'0&quot;</text>
<text transform="translate(489.1 1652.3) scale(0.85 1)" font-size="13.8" text-anchor="middle" font-weight="normal" fill="#333">-46°0'0&quot;</text>
<path d="M779.6 126.4v7.3M779.6 1638.2v-7.3" stroke="#222" stroke-width="1"/>
<text transform="translate(779.2 122.5) scale(0.85 1)" font-size="13.8" text-anchor="middle" font-weight="normal" fill="#333">-44°0'0&quot;</text>
<text transform="translate(779.2 1652.3) scale(0.85 1)" font-size="13.8" text-anchor="middle" font-weight="normal" fill="#333">-44°0'0&quot;</text>
<path d="M1069.6 126.4v7.3M1069.6 1638.2v-7.3" stroke="#222" stroke-width="1"/>
<text transform="translate(1069.2 122.5) scale(0.85 1)" font-size="13.8" text-anchor="middle" font-weight="normal" fill="#333">-42°0'0&quot;</text>
<text transform="translate(1069.2 1652.3) scale(0.85 1)" font-size="13.8" text-anchor="middle" font-weight="normal" fill="#333">-42°0'0&quot;</text>
<path d="M46.4 334.3h7.3M1164.8 334.3h-7.3" stroke="#222" stroke-width="1"/>
<text transform="translate(43.1 334.5) rotate(-90) scale(0.85 1)" font-size="13.8" text-anchor="middle" font-weight="normal" fill="#333">-2°0'0&quot;</text>
<text transform="translate(1178.3 334.7) rotate(-90) scale(0.85 1)" font-size="13.8" text-anchor="middle" font-weight="normal" fill="#333">-2°0'0&quot;</text>
<path d="M46.4 624.2h7.3M1164.8 624.2h-7.3" stroke="#222" stroke-width="1"/>
<text transform="translate(43.1 624.4) rotate(-90) scale(0.85 1)" font-size="13.8" text-anchor="middle" font-weight="normal" fill="#333">-4°0'0&quot;</text>
<text transform="translate(1178.3 624.6) rotate(-90) scale(0.85 1)" font-size="13.8" text-anchor="middle" font-weight="normal" fill="#333">-4°0'0&quot;</text>
<path d="M46.4 914.2h7.3M1164.8 914.2h-7.3" stroke="#222" stroke-width="1"/>
<text transform="translate(43.1 914.4) rotate(-90) scale(0.85 1)" font-size="13.8" text-anchor="middle" font-weight="normal" fill="#333">-6°0'0&quot;</text>
<text transform="translate(1178.3 914.6) rotate(-90) scale(0.85 1)" font-size="13.8" text-anchor="middle" font-weight="normal" fill="#333">-6°0'0&quot;</text>
<path d="M46.4 1204.2h7.3M1164.8 1204.2h-7.3" stroke="#222" stroke-width="1"/>
<text transform="translate(43.1 1204.4) rotate(-90) scale(0.85 1)" font-size="13.8" text-anchor="middle" font-weight="normal" fill="#333">-8°0'0&quot;</text>
<text transform="translate(1178.3 1204.6) rotate(-90) scale(0.85 1)" font-size="13.8" text-anchor="middle" font-weight="normal" fill="#333">-8°0'0&quot;</text>
<path d="M46.4 1494.2h7.3M1164.8 1494.2h-7.3" stroke="#222" stroke-width="1"/>
<text transform="translate(43.1 1494.4) rotate(-90) scale(0.85 1)" font-size="13.8" text-anchor="middle" font-weight="normal" fill="#333">-10°0'0&quot;</text>
<text transform="translate(1178.3 1494.6) rotate(-90) scale(0.85 1)" font-size="13.8" text-anchor="middle" font-weight="normal" fill="#333">-10°0'0&quot;</text>
</svg>
</body></html>
